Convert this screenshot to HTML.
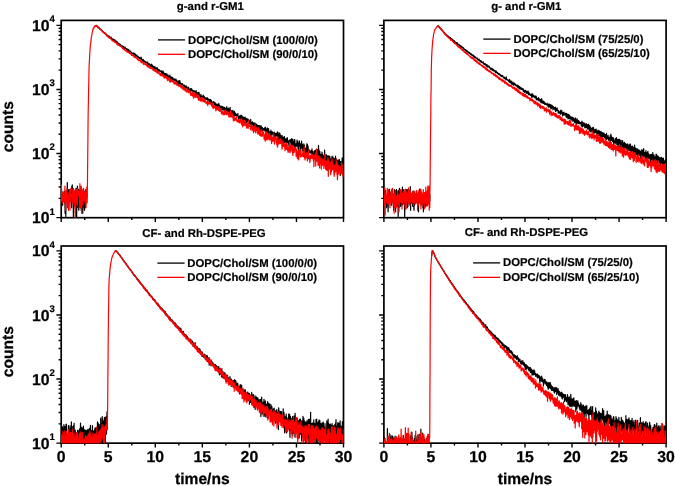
<!DOCTYPE html>
<html><head><meta charset="utf-8"><title>TCSPC decays</title>
<style>
html,body{margin:0;padding:0;background:#fff;}
body{width:675px;height:486px;overflow:hidden;}
svg{display:block;will-change:transform;}
text{font-family:"Liberation Sans",sans-serif;font-weight:bold;fill:#000;text-rendering:geometricPrecision;}
.ti{font-size:11.4px;stroke:#000;stroke-width:0.2px;}
.lg{font-size:11.35px;stroke:#000;stroke-width:0.2px;}
.tk{font-size:15.8px;stroke:#000;stroke-width:0.25px;}
.sp{font-size:9.6px;stroke:#000;stroke-width:0.2px;}
.al{font-size:15.6px;stroke:#000;stroke-width:0.25px;}
</style></head><body>
<svg width="675" height="486" viewBox="0 0 675 486">
<rect width="100%" height="100%" fill="#fff"/>
<defs>
<clipPath id="cTL"><rect x="60.6" y="20.4" width="282.90000000000003" height="197.70"/></clipPath>
<clipPath id="cTR"><rect x="383.29999999999995" y="20.4" width="282.80000000000007" height="197.70"/></clipPath>
<clipPath id="cBL"><rect x="60.6" y="246.0" width="282.90000000000003" height="197.55"/></clipPath>
<clipPath id="cBR"><rect x="383.29999999999995" y="246.0" width="282.80000000000007" height="197.55"/></clipPath>
</defs>
<g stroke="#000" stroke-width="1.7" fill="none" stroke-linecap="butt">
<rect x="61.2" y="20.4" width="282.30" height="197.30"/>
<path stroke-width="1.4" d="M61.20,217.7v4.4 M84.72,217.7v2.4 M108.25,217.7v4.4 M131.78,217.7v2.4 M155.30,217.7v4.4 M178.82,217.7v2.4 M202.35,217.7v4.4 M225.88,217.7v2.4 M249.40,217.7v4.4 M272.93,217.7v2.4 M296.45,217.7v4.4 M319.97,217.7v2.4 M343.50,217.7v4.4 M61.2,217.65h-4.8 M61.2,198.35h-2.6 M61.2,187.07h-2.6 M61.2,179.06h-2.6 M61.2,172.85h-2.6 M61.2,167.77h-2.6 M61.2,163.48h-2.6 M61.2,159.76h-2.6 M61.2,156.48h-2.6 M61.2,153.55h-4.8 M61.2,134.25h-2.6 M61.2,122.97h-2.6 M61.2,114.96h-2.6 M61.2,108.75h-2.6 M61.2,103.67h-2.6 M61.2,99.38h-2.6 M61.2,95.66h-2.6 M61.2,92.38h-2.6 M61.2,89.45h-4.8 M61.2,70.15h-2.6 M61.2,58.87h-2.6 M61.2,50.86h-2.6 M61.2,44.65h-2.6 M61.2,39.57h-2.6 M61.2,35.28h-2.6 M61.2,31.56h-2.6 M61.2,28.28h-2.6 M61.2,25.35h-4.8"/>
</g>
<g clip-path="url(#cTL)" fill="none" stroke-width="1.2" stroke-linejoin="round">
<polyline stroke="#000" points="61.2,195.6 61.4,192.5 61.6,203.0 61.9,191.1 62.1,203.0 62.3,203.0 62.5,197.3 62.7,205.3 62.9,195.6 63.2,199.1 63.4,195.6 63.6,197.3 63.8,194.0 64.0,201.0 64.2,191.1 64.5,203.0 64.7,197.3 64.9,195.6 65.1,213.3 65.3,197.3 65.5,201.0 65.8,216.6 66.0,201.0 66.2,191.1 66.4,195.6 66.6,194.0 66.9,199.1 67.1,199.1 67.3,182.7 67.5,194.0 67.7,189.7 67.9,207.7 68.2,195.6 68.4,197.3 68.6,189.7 68.8,195.6 69.0,199.1 69.2,199.1 69.5,201.0 69.7,199.1 69.9,189.7 70.1,195.6 70.3,201.0 70.5,191.1 70.8,199.1 71.0,191.1 71.2,192.5 71.4,205.3 71.6,207.7 71.8,186.0 72.1,201.0 72.3,184.8 72.5,197.3 72.7,192.5 72.9,199.1 73.2,199.1 73.4,216.6 73.6,203.0 73.8,194.0 74.0,201.0 74.2,205.3 74.5,191.1 74.7,195.6 74.9,195.6 75.1,199.1 75.3,195.6 75.5,216.6 75.8,192.5 76.0,188.4 76.2,189.7 76.4,188.4 76.6,217.7 76.8,203.0 77.1,205.3 77.3,207.7 77.5,186.0 77.7,191.1 77.9,195.6 78.2,195.6 78.4,189.7 78.6,201.0 78.8,210.3 79.0,191.1 79.2,189.7 79.5,195.6 79.7,195.6 79.9,194.0 80.1,201.0 80.3,207.7 80.5,194.0 80.8,201.0 81.0,199.1 81.2,210.3 81.4,207.7 81.6,191.1 81.8,201.0 82.1,205.3 82.3,201.0 82.5,195.6 82.7,213.3 82.9,207.7 83.1,207.7 83.4,188.4 83.6,201.0 83.8,194.0 84.0,199.1 84.2,199.1 84.5,210.3 84.7,194.0 84.9,191.1 85.1,203.0 85.3,207.7 85.5,189.7 85.8,191.1 86.0,194.0 86.2,191.1 86.4,191.1 86.6,199.1 86.8,194.0 87.1,194.0 87.3,195.6"/>
<polyline stroke="#000" points="95.5,26.1 95.8,26.2 96.0,25.6 96.2,26.0 96.4,25.7 96.6,25.3 96.8,26.2 97.1,26.0 97.3,26.4 97.5,26.7 97.7,27.6 97.9,27.2 98.1,27.2 98.4,27.4 98.6,27.8 98.8,27.4 99.0,28.2 99.2,28.3 99.4,28.4 99.7,29.0 99.9,29.2 100.1,28.8 100.3,29.2 100.5,29.5 100.8,29.3 101.0,29.7 101.2,30.0 101.4,30.0 101.6,30.5 101.8,30.6 102.1,30.5 102.3,30.6 102.5,31.3 102.7,31.0 102.9,31.6 103.1,31.6 103.4,32.1 103.6,32.4 103.8,32.6 104.0,32.7 104.2,32.9 104.4,32.5 104.7,33.0 104.9,32.9 105.1,33.5 105.3,33.8 105.5,33.5 105.8,33.8 106.0,34.4 106.2,34.8 106.4,34.3 106.6,35.5 106.8,34.5 107.1,35.8 107.3,35.5 107.5,35.5 107.7,35.9 107.9,35.7 108.1,36.1 108.4,36.4 108.6,36.3 108.8,36.2 109.0,37.1 109.2,36.4 109.4,36.2 109.7,36.9 109.9,36.9 110.1,37.7 110.3,37.6 110.5,37.8 110.7,38.4 111.0,38.5 111.2,37.2 111.4,38.8 111.6,38.6 111.8,38.7 112.1,39.1 112.3,39.4 112.5,39.3 112.7,38.9 112.9,38.8 113.1,39.4 113.4,39.6 113.6,39.6 113.8,40.7 114.0,39.6 114.2,40.3 114.4,40.4 114.7,39.8 114.9,41.1 115.1,40.8 115.3,40.7 115.5,41.6 115.7,42.1 116.0,41.9 116.2,41.0 116.4,41.3 116.6,41.6 116.8,42.6 117.1,42.0 117.3,43.0 117.5,41.9 117.7,42.6 117.9,42.6 118.1,43.2 118.4,43.3 118.6,44.3 118.8,43.3 119.0,44.1 119.2,44.0 119.4,44.4 119.7,44.1 119.9,44.6 120.1,44.3 120.3,44.5 120.5,44.6 120.7,45.1 121.0,45.3 121.2,45.6 121.4,45.9 121.6,46.2 121.8,45.9 122.0,45.6 122.3,46.4 122.5,46.3 122.7,47.0 122.9,46.6 123.1,47.6 123.4,46.3 123.6,47.2 123.8,48.1 124.0,46.9 124.2,47.6 124.4,47.9 124.7,47.9 124.9,48.8 125.1,47.0 125.3,48.0 125.5,48.3 125.7,48.4 126.0,48.6 126.2,48.7 126.4,49.5 126.6,48.7 126.8,49.2 127.0,49.6 127.3,49.8 127.5,49.5 127.7,50.6 127.9,49.2 128.1,50.6 128.4,49.8 128.6,51.7 128.8,51.1 129.0,49.9 129.2,51.5 129.4,51.1 129.7,51.3 129.9,51.6 130.1,51.2 130.3,51.2 130.5,51.4 130.7,51.3 131.0,52.2 131.2,52.3 131.4,53.1 131.6,53.8 131.8,53.4 132.0,53.1 132.3,53.4 132.5,53.4 132.7,53.7 132.9,53.1 133.1,52.9 133.4,54.1 133.6,54.3 133.8,54.2 134.0,53.2 134.2,54.0 134.4,54.2 134.7,53.8 134.9,55.7 135.1,53.9 135.3,54.2 135.5,56.3 135.7,55.5 136.0,55.2 136.2,55.1 136.4,55.4 136.6,56.1 136.8,55.0 137.0,55.2 137.3,56.6 137.5,56.6 137.7,56.9 137.9,57.6 138.1,56.6 138.3,56.9 138.6,57.8 138.8,57.8 139.0,57.1 139.2,58.0 139.4,58.5 139.7,57.7 139.9,58.5 140.1,58.2 140.3,58.7 140.5,58.4 140.7,58.4 141.0,57.1 141.2,59.5 141.4,57.9 141.6,59.3 141.8,59.1 142.0,59.9 142.3,60.8 142.5,60.2 142.7,60.1 142.9,59.8 143.1,59.4 143.3,61.4 143.6,60.4 143.8,61.5 144.0,61.2 144.2,62.1 144.4,60.9 144.7,61.1 144.9,61.9 145.1,61.4 145.3,62.9 145.5,61.5 145.7,61.5 146.0,62.8 146.2,62.8 146.4,62.6 146.6,62.6 146.8,62.9 147.0,62.5 147.3,62.2 147.5,63.5 147.7,62.1 147.9,64.4 148.1,65.0 148.3,63.7 148.6,64.7 148.8,64.2 149.0,63.9 149.2,64.1 149.4,63.8 149.6,64.2 149.9,64.8 150.1,64.8 150.3,65.1 150.5,66.5 150.7,65.5 151.0,65.8 151.2,66.3 151.4,64.0 151.6,65.9 151.8,66.4 152.0,66.5 152.3,66.6 152.5,65.2 152.7,65.9 152.9,66.9 153.1,68.1 153.3,66.7 153.6,66.7 153.8,66.6 154.0,66.5 154.2,67.2 154.4,68.3 154.6,68.2 154.9,68.8 155.1,66.9 155.3,69.1 155.5,68.2 155.7,68.6 156.0,68.3 156.2,68.9 156.4,67.8 156.6,68.5 156.8,68.1 157.0,69.3 157.3,69.0 157.5,67.8 157.7,70.5 157.9,71.0 158.1,69.8 158.3,71.1 158.6,69.5 158.8,71.3 159.0,70.2 159.2,69.7 159.4,70.7 159.6,70.8 159.9,70.5 160.1,71.3 160.3,70.7 160.5,71.2 160.7,71.6 161.0,71.8 161.2,72.3 161.4,72.4 161.6,72.3 161.8,70.7 162.0,73.8 162.3,74.3 162.5,73.4 162.7,73.2 162.9,73.3 163.1,71.2 163.3,72.2 163.6,73.8 163.8,74.0 164.0,74.9 164.2,73.2 164.4,74.8 164.6,74.5 164.9,73.6 165.1,75.9 165.3,73.8 165.5,73.5 165.7,73.6 165.9,73.8 166.2,74.5 166.4,75.6 166.6,75.0 166.8,73.9 167.0,76.3 167.3,74.8 167.5,75.7 167.7,75.5 167.9,77.4 168.1,75.1 168.3,78.1 168.6,76.7 168.8,76.4 169.0,77.1 169.2,76.6 169.4,76.5 169.6,76.3 169.9,75.1 170.1,78.4 170.3,78.0 170.5,77.4 170.7,79.1 170.9,76.8 171.2,79.1 171.4,78.2 171.6,78.3 171.8,78.6 172.0,77.2 172.3,79.6 172.5,80.2 172.7,77.6 172.9,79.7 173.1,79.7 173.3,80.8 173.6,80.9 173.8,80.2 174.0,78.5 174.2,80.5 174.4,80.3 174.6,79.5 174.9,79.8 175.1,79.4 175.3,80.9 175.5,80.1 175.7,80.7 175.9,79.1 176.2,81.4 176.4,82.4 176.6,82.3 176.8,80.3 177.0,81.2 177.2,84.0 177.5,81.9 177.7,82.0 177.9,81.8 178.1,84.5 178.3,81.1 178.6,82.5 178.8,80.9 179.0,83.1 179.2,82.4 179.4,82.5 179.6,84.9 179.9,80.5 180.1,82.7 180.3,83.7 180.5,83.2 180.7,83.3 180.9,84.2 181.2,84.1 181.4,85.0 181.6,84.6 181.8,83.5 182.0,85.1 182.2,83.4 182.5,84.8 182.7,84.6 182.9,84.7 183.1,85.0 183.3,85.9 183.6,86.2 183.8,85.2 184.0,87.8 184.2,85.0 184.4,86.6 184.6,87.8 184.9,86.2 185.1,86.6 185.3,86.0 185.5,86.0 185.7,88.5 185.9,86.7 186.2,85.8 186.4,86.4 186.6,86.8 186.8,88.0 187.0,87.6 187.2,87.4 187.5,88.2 187.7,88.5 187.9,88.3 188.1,89.2 188.3,90.3 188.6,87.1 188.8,90.2 189.0,90.2 189.2,90.3 189.4,89.1 189.6,89.7 189.9,89.7 190.1,90.7 190.3,89.7 190.5,88.7 190.7,91.1 190.9,89.6 191.2,89.7 191.4,90.6 191.6,88.6 191.8,90.8 192.0,90.0 192.2,89.8 192.5,90.4 192.7,91.1 192.9,91.4 193.1,92.3 193.3,91.5 193.5,90.5 193.8,91.2 194.0,90.7 194.2,91.1 194.4,90.9 194.6,91.6 194.9,92.8 195.1,93.6 195.3,92.9 195.5,91.4 195.7,93.7 195.9,94.6 196.2,90.7 196.4,92.3 196.6,93.3 196.8,93.6 197.0,93.5 197.2,94.3 197.5,92.5 197.7,94.1 197.9,95.7 198.1,94.6 198.3,92.4 198.5,95.8 198.8,95.8 199.0,92.4 199.2,95.9 199.4,94.4 199.6,95.9 199.9,95.2 200.1,95.4 200.3,97.6 200.5,96.5 200.7,96.8 200.9,94.4 201.2,96.5 201.4,96.2 201.6,96.4 201.8,98.4 202.0,96.5 202.2,96.0 202.5,98.4 202.7,97.5 202.9,96.3 203.1,97.7 203.3,95.2 203.5,97.8 203.8,97.0 204.0,98.1 204.2,96.3 204.4,98.2 204.6,97.4 204.8,98.3 205.1,97.5 205.3,98.4 205.5,98.3 205.7,99.5 205.9,99.8 206.2,99.0 206.4,99.4 206.6,97.8 206.8,99.4 207.0,99.1 207.2,97.9 207.5,100.1 207.7,98.0 207.9,99.2 208.1,98.7 208.3,100.0 208.5,100.2 208.8,100.3 209.0,99.4 209.2,102.1 209.4,101.0 209.6,100.1 209.8,101.3 210.1,99.7 210.3,103.3 210.5,101.9 210.7,99.6 210.9,101.0 211.2,102.7 211.4,100.7 211.6,103.3 211.8,102.4 212.0,104.7 212.2,102.4 212.5,102.8 212.7,102.9 212.9,102.6 213.1,101.5 213.3,103.0 213.5,101.9 213.8,101.8 214.0,102.3 214.2,102.5 214.4,104.4 214.6,103.9 214.8,103.0 215.1,102.7 215.3,103.4 215.5,107.9 215.7,105.1 215.9,105.7 216.1,105.0 216.4,104.4 216.6,105.7 216.8,103.8 217.0,107.4 217.2,104.7 217.5,105.4 217.7,105.2 217.9,106.3 218.1,104.3 218.3,106.9 218.5,105.6 218.8,103.3 219.0,106.3 219.2,107.6 219.4,105.0 219.6,105.6 219.8,107.6 220.1,105.8 220.3,106.9 220.5,108.0 220.7,107.2 220.9,108.7 221.1,108.5 221.4,108.9 221.6,108.7 221.8,106.0 222.0,109.9 222.2,107.7 222.5,106.6 222.7,108.0 222.9,108.3 223.1,109.9 223.3,109.4 223.5,107.2 223.8,109.9 224.0,109.5 224.2,109.4 224.4,107.3 224.6,109.2 224.8,112.0 225.1,108.6 225.3,110.4 225.5,109.9 225.7,112.1 225.9,112.0 226.1,107.7 226.4,111.2 226.6,110.4 226.8,106.7 227.0,111.1 227.2,113.2 227.5,109.8 227.7,109.1 227.9,111.6 228.1,108.4 228.3,111.7 228.5,108.2 228.8,113.9 229.0,110.7 229.2,111.2 229.4,109.2 229.6,113.3 229.8,113.3 230.1,107.4 230.3,113.1 230.5,114.7 230.7,110.7 230.9,112.1 231.1,111.7 231.4,113.3 231.6,113.8 231.8,110.7 232.0,113.7 232.2,113.2 232.4,114.0 232.7,114.1 232.9,110.4 233.1,112.2 233.3,112.7 233.5,114.9 233.8,115.4 234.0,114.4 234.2,112.9 234.4,111.3 234.6,115.5 234.8,112.3 235.1,115.5 235.3,113.1 235.5,113.4 235.7,115.2 235.9,115.7 236.1,114.7 236.4,115.2 236.6,115.3 236.8,115.5 237.0,114.1 237.2,114.8 237.4,115.8 237.7,114.4 237.9,113.7 238.1,117.0 238.3,117.2 238.5,117.9 238.8,119.1 239.0,117.1 239.2,118.0 239.4,115.8 239.6,116.6 239.8,117.0 240.1,118.5 240.3,116.5 240.5,118.9 240.7,116.0 240.9,115.1 241.1,117.8 241.4,115.3 241.6,117.7 241.8,117.9 242.0,115.8 242.2,121.9 242.4,118.8 242.7,119.8 242.9,117.1 243.1,120.0 243.3,117.1 243.5,117.4 243.7,120.3 244.0,118.6 244.2,117.3 244.4,118.4 244.6,120.3 244.8,117.4 245.1,117.2 245.3,122.1 245.5,121.2 245.7,120.3 245.9,119.1 246.1,122.7 246.4,118.4 246.6,121.4 246.8,122.8 247.0,122.5 247.2,121.8 247.4,121.3 247.7,118.9 247.9,118.9 248.1,119.9 248.3,121.5 248.5,121.3 248.7,120.3 249.0,120.1 249.2,123.5 249.4,123.5 249.6,122.0 249.8,121.0 250.1,124.2 250.3,125.2 250.5,124.3 250.7,119.3 250.9,122.7 251.1,122.1 251.4,124.2 251.6,125.2 251.8,122.7 252.0,124.2 252.2,123.2 252.4,121.9 252.7,122.9 252.9,123.4 253.1,127.7 253.3,124.3 253.5,122.8 253.7,125.5 254.0,126.4 254.2,125.2 254.4,125.6 254.6,127.0 254.8,122.8 255.1,123.4 255.3,123.9 255.5,126.4 255.7,127.2 255.9,128.4 256.1,129.0 256.4,124.2 256.6,124.9 256.8,125.5 257.0,124.9 257.2,127.7 257.4,129.3 257.7,125.6 257.9,127.2 258.1,128.5 258.3,126.3 258.5,125.6 258.7,126.1 259.0,126.4 259.2,130.2 259.4,125.6 259.6,126.0 259.8,130.4 260.0,126.5 260.3,127.7 260.5,127.1 260.7,132.1 260.9,125.7 261.1,126.0 261.4,127.8 261.6,127.0 261.8,128.5 262.0,127.7 262.2,131.0 262.4,127.5 262.7,129.3 262.9,129.3 263.1,129.1 263.3,130.0 263.5,128.7 263.7,130.5 264.0,128.4 264.2,129.3 264.4,128.2 264.6,130.0 264.8,128.7 265.0,131.1 265.3,127.2 265.5,128.1 265.7,129.0 265.9,133.3 266.1,130.2 266.4,129.1 266.6,131.8 266.8,134.8 267.0,132.0 267.2,132.5 267.4,127.9 267.7,128.8 267.9,130.2 268.1,131.5 268.3,132.6 268.5,128.7 268.7,130.2 269.0,134.4 269.2,131.8 269.4,134.0 269.6,133.5 269.8,131.8 270.0,134.0 270.3,135.1 270.5,133.2 270.7,133.0 270.9,130.2 271.1,135.1 271.3,132.0 271.6,134.4 271.8,134.8 272.0,131.6 272.2,133.0 272.4,132.6 272.7,132.3 272.9,133.5 273.1,133.2 273.3,137.7 273.5,137.7 273.7,132.6 274.0,135.3 274.2,132.0 274.4,135.9 274.6,133.5 274.8,133.9 275.0,133.3 275.3,139.6 275.5,133.3 275.7,137.1 275.9,135.3 276.1,133.9 276.3,133.5 276.6,135.9 276.8,133.9 277.0,134.8 277.2,133.3 277.4,131.8 277.7,134.6 277.9,136.9 278.1,142.6 278.3,140.3 278.5,138.9 278.7,138.1 279.0,132.6 279.2,136.1 279.4,134.8 279.6,141.6 279.8,140.0 280.0,133.7 280.3,138.1 280.5,135.7 280.7,135.3 280.9,139.4 281.1,140.9 281.3,143.1 281.6,136.7 281.8,136.9 282.0,135.7 282.2,135.7 282.4,145.2 282.7,139.6 282.9,141.4 283.1,137.1 283.3,137.1 283.5,142.4 283.7,144.1 284.0,140.3 284.2,140.9 284.4,136.7 284.6,138.3 284.8,142.4 285.0,140.3 285.3,141.4 285.5,140.9 285.7,140.5 285.9,138.7 286.1,143.3 286.3,139.8 286.6,140.7 286.8,140.0 287.0,141.4 287.2,137.7 287.4,138.1 287.6,142.8 287.9,142.1 288.1,142.1 288.3,140.9 288.5,143.3 288.7,143.6 289.0,146.0 289.2,144.6 289.4,140.7 289.6,142.6 289.8,141.6 290.0,139.8 290.3,139.6 290.5,140.9 290.7,142.6 290.9,140.3 291.1,145.2 291.3,142.4 291.6,139.8 291.8,138.7 292.0,140.5 292.2,142.8 292.4,146.5 292.6,141.9 292.9,139.4 293.1,145.4 293.3,141.4 293.5,143.6 293.7,143.1 294.0,141.4 294.2,142.4 294.4,149.8 294.6,139.4 294.8,140.0 295.0,143.6 295.3,145.7 295.5,147.1 295.7,144.6 295.9,145.7 296.1,143.8 296.3,144.1 296.6,144.4 296.8,146.2 297.0,140.0 297.2,142.1 297.4,142.8 297.6,141.6 297.9,146.2 298.1,148.6 298.3,148.0 298.5,143.3 298.7,144.1 298.9,150.4 299.2,140.9 299.4,142.1 299.6,145.4 299.8,144.9 300.0,145.4 300.3,146.5 300.5,143.8 300.7,152.5 300.9,146.8 301.1,143.6 301.3,147.7 301.6,141.2 301.8,146.5 302.0,144.9 302.2,148.3 302.4,144.4 302.6,146.8 302.9,151.1 303.1,145.7 303.3,151.4 303.5,150.1 303.7,148.6 303.9,143.8 304.2,149.2 304.4,145.2 304.6,148.3 304.8,148.9 305.0,151.1 305.3,150.1 305.5,150.1 305.7,154.3 305.9,148.0 306.1,149.8 306.3,148.6 306.6,155.8 306.8,143.8 307.0,143.8 307.2,150.8 307.4,144.6 307.6,152.5 307.9,150.1 308.1,146.2 308.3,158.7 308.5,149.5 308.7,150.8 308.9,149.5 309.2,150.8 309.4,152.5 309.6,151.4 309.8,151.1 310.0,151.4 310.2,152.8 310.5,151.1 310.7,153.2 310.9,153.2 311.1,150.8 311.3,150.8 311.6,152.5 311.8,152.1 312.0,148.9 312.2,155.4 312.4,151.4 312.6,153.9 312.9,157.0 313.1,158.7 313.3,157.0 313.5,154.6 313.7,158.7 313.9,151.4 314.2,151.1 314.4,151.4 314.6,150.8 314.8,156.2 315.0,156.6 315.2,155.8 315.5,150.1 315.7,153.9 315.9,150.8 316.1,154.3 316.3,153.2 316.6,150.4 316.8,154.3 317.0,161.4 317.2,155.4 317.4,149.5 317.6,151.1 317.9,156.2 318.1,157.8 318.3,158.7 318.5,145.4 318.7,162.9 318.9,149.5 319.2,153.2 319.4,158.2 319.6,153.5 319.8,151.4 320.0,158.2 320.2,153.9 320.5,157.4 320.7,155.8 320.9,155.4 321.1,154.6 321.3,156.2 321.6,156.2 321.8,159.6 322.0,152.1 322.2,155.4 322.4,153.9 322.6,158.7 322.9,156.6 323.1,163.9 323.3,155.8 323.5,162.4 323.7,155.8 323.9,157.4 324.2,154.3 324.4,161.4 324.6,150.1 324.8,157.0 325.0,158.2 325.2,160.0 325.5,163.4 325.7,158.2 325.9,159.6 326.1,159.1 326.3,154.6 326.5,158.7 326.8,163.4 327.0,164.5 327.2,162.9 327.4,159.1 327.6,155.8 327.9,157.8 328.1,157.8 328.3,164.5 328.5,155.8 328.7,157.8 328.9,162.4 329.2,166.7 329.4,162.4 329.6,161.4 329.8,156.2 330.0,168.5 330.2,158.2 330.5,162.4 330.7,159.6 330.9,159.1 331.1,171.1 331.3,161.9 331.5,169.1 331.8,163.9 332.0,156.6 332.2,156.2 332.4,162.9 332.6,167.9 332.9,160.5 333.1,157.0 333.3,169.7 333.5,158.7 333.7,162.4 333.9,167.3 334.2,159.1 334.4,158.7 334.6,166.1 334.8,171.1 335.0,161.9 335.2,165.0 335.5,156.2 335.7,160.5 335.9,160.5 336.1,163.4 336.3,169.7 336.5,159.1 336.8,166.7 337.0,160.5 337.2,163.4 337.4,161.9 337.6,163.4 337.8,160.5 338.1,160.0 338.3,160.5 338.5,166.7 338.7,164.5 338.9,162.4 339.2,160.5 339.4,159.6 339.6,168.5 339.8,167.3 340.0,161.4 340.2,175.5 340.5,165.5 340.7,165.0 340.9,162.9 341.1,161.4 341.3,166.1 341.5,163.4 341.8,164.5 342.0,167.9 342.2,157.8 342.4,158.2 342.6,163.4 342.8,172.5 343.1,167.9 343.3,162.9 343.5,169.1"/>
<polyline stroke="#f00" points="61.2,189.7 61.4,184.8 61.6,201.0 61.9,199.1 62.1,199.1 62.3,203.0 62.5,199.1 62.7,199.1 62.9,192.5 63.2,199.1 63.4,201.0 63.6,192.5 63.8,201.0 64.0,197.3 64.2,197.3 64.5,199.1 64.7,203.0 64.9,186.0 65.1,199.1 65.3,197.3 65.5,210.3 65.8,207.7 66.0,191.1 66.2,197.3 66.4,201.0 66.6,191.1 66.9,197.3 67.1,188.4 67.3,201.0 67.5,205.3 67.7,197.3 67.9,195.6 68.2,203.0 68.4,210.3 68.6,201.0 68.8,194.0 69.0,192.5 69.2,197.3 69.5,203.0 69.7,189.7 69.9,210.3 70.1,197.3 70.3,201.0 70.5,191.1 70.8,188.4 71.0,197.3 71.2,195.6 71.4,195.6 71.6,194.0 71.8,201.0 72.1,195.6 72.3,199.1 72.5,203.0 72.7,189.7 72.9,201.0 73.2,201.0 73.4,188.4 73.6,203.0 73.8,189.7 74.0,189.7 74.2,205.3 74.5,191.1 74.7,205.3 74.9,207.7 75.1,197.3 75.3,217.7 75.5,210.3 75.8,201.0 76.0,191.1 76.2,201.0 76.4,203.0 76.6,191.1 76.8,189.7 77.1,194.0 77.3,205.3 77.5,188.4 77.7,191.1 77.9,192.5 78.2,194.0 78.4,191.1 78.6,195.6 78.8,195.6 79.0,192.5 79.2,197.3 79.5,201.0 79.7,205.3 79.9,183.7 80.1,194.0 80.3,194.0 80.5,207.7 80.8,197.3 81.0,192.5 81.2,186.0 81.4,189.7 81.6,213.3 81.8,194.0 82.1,199.1 82.3,205.3 82.5,203.0 82.7,189.7 82.9,192.5 83.1,197.3 83.4,191.1 83.6,188.4 83.8,201.0 84.0,197.3 84.2,201.0 84.5,194.0 84.7,199.1 84.9,192.5 85.1,203.0 85.3,201.0 85.5,194.0 85.8,189.7 86.0,207.7 86.2,201.0 86.4,189.7 86.6,197.3 86.8,187.2 87.1,203.0 87.3,195.6 87.5,178.8 87.7,159.6 87.9,139.8 88.1,116.9 88.4,101.1 88.6,89.8 88.8,81.5 89.0,70.1 89.2,64.2 89.5,59.6 89.7,54.4 89.9,52.3 90.1,48.6 90.3,45.6 90.5,44.6 90.8,42.6 91.0,40.6 91.2,38.6 91.4,36.9 91.6,35.8 91.8,35.4 92.1,33.1 92.3,32.4 92.5,31.1 92.7,30.4 92.9,29.6 93.1,28.5 93.4,28.5 93.6,29.2 93.8,27.6 94.0,26.8 94.2,26.9 94.5,27.1 94.7,26.3 94.9,25.7 95.1,25.6 95.3,25.8 95.5,25.6 95.8,26.0 96.0,25.4 96.2,26.4 96.4,25.7 96.6,25.8 96.8,25.7 97.1,26.1 97.3,26.8 97.5,26.8 97.7,26.8 97.9,27.0 98.1,27.4 98.4,27.7 98.6,27.3 98.8,27.8 99.0,27.5 99.2,28.2 99.4,28.6 99.7,28.9 99.9,28.4 100.1,28.9 100.3,29.6 100.5,29.5 100.8,29.4 101.0,29.8 101.2,30.2 101.4,30.2 101.6,30.7 101.8,31.0 102.1,30.8 102.3,31.3 102.5,31.7 102.7,31.2 102.9,31.7 103.1,32.5 103.4,32.4 103.6,32.6 103.8,32.7 104.0,32.4 104.2,33.1 104.4,33.3 104.7,33.0 104.9,32.5 105.1,33.7 105.3,34.4 105.5,33.5 105.8,33.9 106.0,34.9 106.2,34.4 106.4,35.3 106.6,35.7 106.8,35.4 107.1,36.2 107.3,36.0 107.5,36.3 107.7,35.9 107.9,36.6 108.1,36.9 108.4,37.5 108.6,37.1 108.8,36.8 109.0,37.5 109.2,37.2 109.4,38.1 109.7,37.6 109.9,38.5 110.1,38.2 110.3,38.0 110.5,38.8 110.7,38.7 111.0,38.8 111.2,39.0 111.4,39.7 111.6,39.5 111.8,40.3 112.1,40.1 112.3,40.8 112.5,39.9 112.7,40.7 112.9,40.6 113.1,40.9 113.4,41.1 113.6,40.8 113.8,40.7 114.0,41.9 114.2,41.5 114.4,41.7 114.7,41.5 114.9,42.3 115.1,42.6 115.3,42.0 115.5,42.5 115.7,42.7 116.0,42.4 116.2,43.1 116.4,43.0 116.6,42.3 116.8,44.2 117.1,43.3 117.3,43.8 117.5,44.9 117.7,44.5 117.9,45.0 118.1,45.2 118.4,44.7 118.6,44.7 118.8,45.0 119.0,44.1 119.2,45.6 119.4,45.4 119.7,45.8 119.9,46.0 120.1,46.2 120.3,46.5 120.5,46.4 120.7,46.3 121.0,46.5 121.2,46.0 121.4,46.6 121.6,47.4 121.8,47.2 122.0,46.9 122.3,47.7 122.5,48.7 122.7,48.7 122.9,48.4 123.1,48.4 123.4,48.5 123.6,49.4 123.8,47.7 124.0,47.9 124.2,49.0 124.4,50.1 124.7,49.6 124.9,49.9 125.1,50.1 125.3,50.2 125.5,50.1 125.7,50.4 126.0,51.2 126.2,50.7 126.4,50.5 126.6,51.1 126.8,51.1 127.0,52.1 127.3,51.4 127.5,51.2 127.7,51.4 127.9,51.9 128.1,52.5 128.4,52.1 128.6,51.9 128.8,52.9 129.0,52.7 129.2,52.9 129.4,51.8 129.7,53.6 129.9,53.4 130.1,53.4 130.3,52.8 130.5,53.2 130.7,53.2 131.0,54.5 131.2,53.9 131.4,55.5 131.6,55.1 131.8,54.8 132.0,55.4 132.3,55.2 132.5,55.2 132.7,54.9 132.9,55.7 133.1,56.0 133.4,56.0 133.6,56.0 133.8,55.4 134.0,57.1 134.2,56.8 134.4,56.6 134.7,57.4 134.9,57.0 135.1,57.1 135.3,57.5 135.5,57.3 135.7,56.9 136.0,58.1 136.2,57.3 136.4,57.8 136.6,57.8 136.8,58.7 137.0,58.0 137.3,59.3 137.5,59.2 137.7,58.8 137.9,59.7 138.1,59.1 138.3,60.7 138.6,60.3 138.8,59.9 139.0,60.2 139.2,60.5 139.4,60.7 139.7,60.1 139.9,59.8 140.1,60.5 140.3,60.0 140.5,62.0 140.7,61.7 141.0,62.1 141.2,60.9 141.4,61.3 141.6,62.0 141.8,62.9 142.0,62.9 142.3,62.0 142.5,62.0 142.7,62.1 142.9,62.8 143.1,62.7 143.3,64.1 143.6,64.4 143.8,63.9 144.0,62.9 144.2,62.6 144.4,63.4 144.7,64.0 144.9,64.3 145.1,64.7 145.3,64.7 145.5,64.1 145.7,64.9 146.0,64.3 146.2,63.8 146.4,65.2 146.6,65.6 146.8,63.8 147.0,65.5 147.3,66.6 147.5,65.1 147.7,66.2 147.9,65.4 148.1,66.7 148.3,67.2 148.6,65.7 148.8,66.4 149.0,66.0 149.2,65.3 149.4,67.9 149.6,66.9 149.9,67.4 150.1,67.8 150.3,68.2 150.5,68.1 150.7,66.8 151.0,68.7 151.2,67.7 151.4,68.1 151.6,68.6 151.8,67.8 152.0,68.5 152.3,69.1 152.5,69.2 152.7,68.6 152.9,68.7 153.1,70.1 153.3,69.7 153.6,70.2 153.8,68.9 154.0,70.9 154.2,69.4 154.4,70.0 154.6,70.1 154.9,69.5 155.1,71.3 155.3,71.1 155.5,70.2 155.7,70.8 156.0,72.0 156.2,70.1 156.4,71.5 156.6,71.4 156.8,72.4 157.0,71.6 157.3,70.9 157.5,73.1 157.7,72.2 157.9,72.5 158.1,72.9 158.3,71.5 158.6,72.6 158.8,73.5 159.0,73.2 159.2,72.4 159.4,74.0 159.6,74.2 159.9,74.6 160.1,73.5 160.3,75.7 160.5,73.5 160.7,74.3 161.0,74.8 161.2,73.9 161.4,74.6 161.6,75.3 161.8,73.6 162.0,76.0 162.3,75.2 162.5,75.7 162.7,74.7 162.9,76.0 163.1,76.1 163.3,76.6 163.6,75.8 163.8,75.4 164.0,76.1 164.2,78.2 164.4,76.6 164.6,76.5 164.9,76.2 165.1,76.5 165.3,78.0 165.5,77.7 165.7,76.8 165.9,77.1 166.2,77.6 166.4,76.3 166.6,78.3 166.8,78.8 167.0,78.1 167.3,79.9 167.5,78.1 167.7,80.6 167.9,79.1 168.1,78.3 168.3,77.7 168.6,79.4 168.8,79.8 169.0,80.1 169.2,80.1 169.4,79.1 169.6,81.8 169.9,80.6 170.1,80.7 170.3,81.0 170.5,79.2 170.7,80.3 170.9,82.1 171.2,79.7 171.4,80.3 171.6,80.0 171.8,81.1 172.0,80.4 172.3,81.6 172.5,81.2 172.7,81.5 172.9,81.1 173.1,82.0 173.3,82.3 173.6,80.3 173.8,80.3 174.0,84.0 174.2,83.1 174.4,82.9 174.6,82.5 174.9,84.2 175.1,83.1 175.3,82.0 175.5,83.3 175.7,83.6 175.9,83.9 176.2,82.4 176.4,82.0 176.6,84.0 176.8,84.4 177.0,85.5 177.2,85.0 177.5,83.5 177.7,84.4 177.9,84.8 178.1,84.8 178.3,85.6 178.6,85.5 178.8,86.1 179.0,86.7 179.2,85.9 179.4,84.3 179.6,84.9 179.9,86.2 180.1,84.7 180.3,85.7 180.5,85.8 180.7,86.6 180.9,87.7 181.2,85.7 181.4,87.0 181.6,88.2 181.8,87.3 182.0,86.2 182.2,87.9 182.5,87.1 182.7,87.2 182.9,89.1 183.1,88.6 183.3,86.8 183.6,86.7 183.8,90.0 184.0,87.6 184.2,87.5 184.4,87.8 184.6,89.6 184.9,88.3 185.1,88.7 185.3,91.1 185.5,88.2 185.7,88.3 185.9,89.5 186.2,90.0 186.4,90.8 186.6,90.5 186.8,92.2 187.0,89.5 187.2,92.0 187.5,91.8 187.7,89.1 187.9,90.1 188.1,89.9 188.3,91.8 188.6,92.7 188.8,90.3 189.0,91.8 189.2,90.3 189.4,91.4 189.6,91.6 189.9,91.0 190.1,92.9 190.3,93.8 190.5,94.0 190.7,95.3 190.9,91.8 191.2,93.6 191.4,92.8 191.6,93.0 191.8,93.0 192.0,95.7 192.2,93.5 192.5,94.9 192.7,94.1 192.9,92.1 193.1,96.8 193.3,95.1 193.5,98.2 193.8,97.9 194.0,94.2 194.2,93.3 194.4,95.7 194.6,92.6 194.9,95.0 195.1,96.0 195.3,97.4 195.5,96.7 195.7,93.7 195.9,96.5 196.2,95.7 196.4,97.1 196.6,96.6 196.8,96.7 197.0,95.0 197.2,93.9 197.5,97.5 197.7,97.6 197.9,98.2 198.1,97.8 198.3,97.5 198.5,100.2 198.8,95.0 199.0,99.9 199.2,98.5 199.4,97.6 199.6,99.2 199.9,98.3 200.1,100.6 200.3,98.2 200.5,99.2 200.7,99.8 200.9,101.2 201.2,98.5 201.4,98.7 201.6,97.6 201.8,99.6 202.0,101.0 202.2,100.1 202.5,97.7 202.7,99.8 202.9,99.8 203.1,101.6 203.3,99.4 203.5,98.8 203.8,101.2 204.0,99.2 204.2,101.6 204.4,101.2 204.6,102.1 204.8,100.4 205.1,102.0 205.3,99.2 205.5,101.2 205.7,102.1 205.9,102.6 206.2,103.9 206.4,102.5 206.6,102.1 206.8,102.9 207.0,101.7 207.2,102.6 207.5,100.5 207.7,105.4 207.9,103.2 208.1,102.1 208.3,101.8 208.5,102.6 208.8,103.2 209.0,104.0 209.2,103.2 209.4,103.1 209.6,103.0 209.8,103.9 210.1,103.1 210.3,103.9 210.5,102.8 210.7,103.7 210.9,104.3 211.2,103.3 211.4,105.1 211.6,105.8 211.8,106.0 212.0,102.6 212.2,104.0 212.5,103.8 212.7,106.9 212.9,108.2 213.1,105.2 213.3,104.6 213.5,108.3 213.8,107.6 214.0,106.8 214.2,106.0 214.4,107.7 214.6,106.4 214.8,105.9 215.1,108.0 215.3,106.3 215.5,108.4 215.7,108.5 215.9,111.0 216.1,108.4 216.4,109.3 216.6,106.5 216.8,108.6 217.0,109.3 217.2,108.9 217.5,107.6 217.7,107.0 217.9,109.7 218.1,108.9 218.3,110.2 218.5,109.4 218.8,110.7 219.0,106.6 219.2,108.7 219.4,110.1 219.6,111.4 219.8,110.3 220.1,111.1 220.3,109.9 220.5,110.7 220.7,109.0 220.9,111.3 221.1,108.4 221.4,113.8 221.6,111.5 221.8,111.9 222.0,112.6 222.2,112.4 222.5,111.8 222.7,111.5 222.9,114.7 223.1,112.5 223.3,112.4 223.5,112.8 223.8,114.7 224.0,114.3 224.2,113.9 224.4,110.9 224.6,114.7 224.8,114.0 225.1,109.9 225.3,111.5 225.5,112.9 225.7,114.0 225.9,111.1 226.1,112.5 226.4,114.7 226.6,113.2 226.8,112.8 227.0,114.6 227.2,111.4 227.5,113.8 227.7,112.5 227.9,114.1 228.1,113.5 228.3,113.9 228.5,111.9 228.8,117.0 229.0,114.5 229.2,116.5 229.4,116.8 229.6,114.8 229.8,114.7 230.1,116.6 230.3,116.3 230.5,110.9 230.7,113.9 230.9,117.1 231.1,117.0 231.4,116.9 231.6,116.9 231.8,116.4 232.0,112.5 232.2,115.1 232.4,116.6 232.7,117.6 232.9,116.0 233.1,117.8 233.3,120.4 233.5,120.3 233.8,118.6 234.0,121.1 234.2,116.3 234.4,119.8 234.6,119.5 234.8,118.6 235.1,119.6 235.3,119.8 235.5,118.2 235.7,118.1 235.9,120.3 236.1,118.1 236.4,119.0 236.6,116.5 236.8,116.9 237.0,121.8 237.2,121.1 237.4,120.3 237.7,121.2 237.9,121.1 238.1,121.4 238.3,122.1 238.5,119.6 238.8,119.5 239.0,121.6 239.2,122.5 239.4,121.3 239.6,122.8 239.8,120.2 240.1,119.8 240.3,120.3 240.5,120.7 240.7,121.0 240.9,122.7 241.1,118.6 241.4,124.2 241.6,121.3 241.8,124.8 242.0,121.0 242.2,123.1 242.4,120.1 242.7,126.8 242.9,121.4 243.1,122.7 243.3,125.3 243.5,122.6 243.7,121.3 244.0,124.8 244.2,125.6 244.4,120.1 244.6,124.3 244.8,122.6 245.1,124.8 245.3,121.3 245.5,124.8 245.7,122.7 245.9,124.8 246.1,126.1 246.4,124.9 246.6,128.1 246.8,127.1 247.0,124.7 247.2,123.7 247.4,127.2 247.7,124.4 247.9,125.5 248.1,128.4 248.3,126.3 248.5,120.4 248.7,126.8 249.0,126.0 249.2,125.9 249.4,125.6 249.6,126.4 249.8,126.4 250.1,126.1 250.3,126.5 250.5,129.7 250.7,126.5 250.9,127.9 251.1,124.2 251.4,124.9 251.6,127.4 251.8,125.9 252.0,130.7 252.2,127.9 252.4,127.8 252.7,126.4 252.9,129.4 253.1,127.0 253.3,127.9 253.5,132.6 253.7,129.0 254.0,126.5 254.2,128.2 254.4,130.7 254.6,131.0 254.8,130.5 255.1,124.6 255.3,130.2 255.5,129.1 255.7,132.8 255.9,132.5 256.1,129.6 256.4,127.9 256.6,130.5 256.8,127.4 257.0,128.1 257.2,129.7 257.4,130.7 257.7,133.5 257.9,134.2 258.1,132.5 258.3,129.6 258.5,132.1 258.7,127.7 259.0,130.7 259.2,134.2 259.4,129.7 259.6,133.2 259.8,135.5 260.0,133.2 260.3,131.8 260.5,135.1 260.7,133.2 260.9,129.9 261.1,136.5 261.4,134.6 261.6,134.2 261.8,135.3 262.0,135.9 262.2,135.9 262.4,136.1 262.7,130.8 262.9,133.9 263.1,132.0 263.3,132.0 263.5,132.5 263.7,132.6 264.0,138.9 264.2,133.9 264.4,139.6 264.6,135.7 264.8,135.9 265.0,138.9 265.3,141.2 265.5,136.3 265.7,131.5 265.9,132.0 266.1,133.0 266.4,137.1 266.6,139.8 266.8,131.8 267.0,133.9 267.2,140.0 267.4,138.7 267.7,138.1 267.9,135.0 268.1,134.8 268.3,136.5 268.5,138.9 268.7,138.5 269.0,137.1 269.2,133.7 269.4,140.0 269.6,133.3 269.8,139.6 270.0,134.8 270.3,135.9 270.5,138.7 270.7,136.9 270.9,135.7 271.1,140.9 271.3,135.5 271.6,143.6 271.8,138.3 272.0,137.7 272.2,140.9 272.4,139.2 272.7,137.3 272.9,141.4 273.1,140.0 273.3,140.5 273.5,136.5 273.7,133.7 274.0,136.9 274.2,137.7 274.4,144.1 274.6,138.3 274.8,138.7 275.0,137.3 275.3,139.4 275.5,138.3 275.7,139.4 275.9,136.5 276.1,142.8 276.3,140.0 276.6,138.5 276.8,144.6 277.0,138.7 277.2,146.2 277.4,139.6 277.7,147.1 277.9,136.9 278.1,144.1 278.3,140.5 278.5,143.8 278.7,142.6 279.0,143.8 279.2,140.0 279.4,141.2 279.6,140.3 279.8,139.2 280.0,143.6 280.3,138.5 280.5,143.3 280.7,141.9 280.9,141.2 281.1,140.3 281.3,143.1 281.6,143.3 281.8,143.3 282.0,149.2 282.2,148.3 282.4,144.9 282.7,141.2 282.9,141.2 283.1,141.9 283.3,144.4 283.5,146.5 283.7,145.2 284.0,144.4 284.2,143.3 284.4,144.1 284.6,147.1 284.8,147.4 285.0,150.8 285.3,146.0 285.5,144.6 285.7,144.9 285.9,149.2 286.1,148.3 286.3,142.8 286.6,149.5 286.8,145.2 287.0,146.0 287.2,143.8 287.4,148.6 287.6,149.8 287.9,151.1 288.1,152.5 288.3,147.1 288.5,147.7 288.7,148.6 289.0,150.8 289.2,146.5 289.4,150.8 289.6,141.9 289.8,151.8 290.0,152.8 290.3,145.4 290.5,148.3 290.7,146.2 290.9,145.4 291.1,151.1 291.3,149.5 291.6,148.0 291.8,149.2 292.0,145.2 292.2,148.0 292.4,146.2 292.6,152.5 292.9,155.4 293.1,145.4 293.3,152.8 293.5,148.9 293.7,149.5 294.0,151.1 294.2,152.5 294.4,147.4 294.6,149.2 294.8,148.6 295.0,150.1 295.3,149.5 295.5,149.5 295.7,146.8 295.9,152.1 296.1,156.2 296.3,149.2 296.6,156.2 296.8,149.5 297.0,157.0 297.2,152.8 297.4,158.7 297.6,154.3 297.9,155.4 298.1,152.5 298.3,150.1 298.5,151.8 298.7,160.0 298.9,151.1 299.2,149.8 299.4,154.6 299.6,150.8 299.8,154.3 300.0,149.5 300.3,157.0 300.5,156.2 300.7,150.4 300.9,152.1 301.1,157.0 301.3,155.0 301.6,155.0 301.8,155.0 302.0,156.2 302.2,154.3 302.4,156.2 302.6,152.8 302.9,155.0 303.1,151.4 303.3,156.6 303.5,154.6 303.7,155.4 303.9,150.1 304.2,146.2 304.4,158.2 304.6,156.2 304.8,153.2 305.0,160.0 305.3,153.5 305.5,153.9 305.7,157.0 305.9,153.9 306.1,156.2 306.3,157.8 306.6,156.2 306.8,152.1 307.0,157.0 307.2,155.0 307.4,160.9 307.6,158.7 307.9,155.8 308.1,157.4 308.3,157.0 308.5,150.1 308.7,151.1 308.9,154.3 309.2,157.4 309.4,157.4 309.6,158.2 309.8,162.4 310.0,161.9 310.2,157.4 310.5,155.4 310.7,155.4 310.9,157.8 311.1,158.7 311.3,154.6 311.6,153.5 311.8,157.0 312.0,157.8 312.2,157.8 312.4,155.4 312.6,154.6 312.9,158.7 313.1,158.7 313.3,158.2 313.5,160.9 313.7,156.6 313.9,166.7 314.2,155.0 314.4,157.0 314.6,157.8 314.8,156.6 315.0,155.0 315.2,159.1 315.5,153.2 315.7,166.1 315.9,158.2 316.1,160.5 316.3,154.6 316.6,148.9 316.8,159.1 317.0,159.6 317.2,154.6 317.4,157.8 317.6,157.4 317.9,160.9 318.1,165.5 318.3,162.4 318.5,155.8 318.7,163.9 318.9,165.0 319.2,164.5 319.4,160.0 319.6,167.9 319.8,156.2 320.0,158.7 320.2,163.9 320.5,160.0 320.7,158.7 320.9,162.9 321.1,161.9 321.3,169.1 321.6,163.4 321.8,161.9 322.0,159.1 322.2,160.5 322.4,165.5 322.6,161.4 322.9,160.5 323.1,161.9 323.3,159.6 323.5,161.9 323.7,163.9 323.9,168.5 324.2,161.9 324.4,165.5 324.6,165.0 324.8,154.6 325.0,161.4 325.2,162.9 325.5,168.5 325.7,161.9 325.9,169.7 326.1,163.9 326.3,161.4 326.5,160.9 326.8,167.3 327.0,170.4 327.2,161.9 327.4,166.7 327.6,165.5 327.9,157.4 328.1,163.9 328.3,176.3 328.5,161.4 328.7,159.6 328.9,165.0 329.2,169.1 329.4,169.1 329.6,166.1 329.8,162.4 330.0,165.0 330.2,166.1 330.5,165.5 330.7,174.7 330.9,173.2 331.1,161.4 331.3,171.8 331.5,170.4 331.8,163.4 332.0,167.9 332.2,159.1 332.4,165.5 332.6,169.7 332.9,162.9 333.1,163.9 333.3,167.9 333.5,168.5 333.7,165.0 333.9,173.2 334.2,176.3 334.4,167.3 334.6,173.9 334.8,166.7 335.0,165.0 335.2,165.5 335.5,171.8 335.7,171.1 335.9,169.1 336.1,159.1 336.3,171.1 336.5,161.9 336.8,165.5 337.0,174.7 337.2,161.9 337.4,179.8 337.6,177.1 337.8,165.0 338.1,165.5 338.3,170.4 338.5,173.9 338.7,169.7 338.9,165.5 339.2,167.9 339.4,167.9 339.6,169.7 339.8,169.1 340.0,167.9 340.2,173.2 340.5,169.1 340.7,166.7 340.9,171.8 341.1,167.9 341.3,173.2 341.5,161.9 341.8,173.9 342.0,163.9 342.2,165.0 342.4,171.1 342.6,175.5 342.8,171.1 343.1,170.4 343.3,178.0 343.5,170.4"/>
</g>
<path d="M158.0,39.9H185.0" stroke="#000" stroke-width="1.3"/>
<path d="M158.0,54.3H185.0" stroke="#f00" stroke-width="1.3"/>
<text class="lg" x="188.0" y="43.5">DOPC/Chol/SM (100/0/0)</text>
<text class="lg" x="188.0" y="57.8">DOPC/Chol/SM (90/0/10)</text>
<text class="ti" x="210.4" y="10.1" text-anchor="middle">g-and r-GM1</text>
<text class="tk" x="49.5" y="223.25" text-anchor="end">10</text>
<text class="sp" x="49.6" y="214.55">1</text>
<text class="tk" x="49.5" y="159.15" text-anchor="end">10</text>
<text class="sp" x="49.6" y="150.45">2</text>
<text class="tk" x="49.5" y="95.05" text-anchor="end">10</text>
<text class="sp" x="49.6" y="86.35">3</text>
<text class="tk" x="49.5" y="30.95" text-anchor="end">10</text>
<text class="sp" x="49.6" y="22.25">4</text>
<text class="al" transform="translate(13.2,126.7) rotate(-90)" text-anchor="middle">counts</text>
<g stroke="#000" stroke-width="1.7" fill="none" stroke-linecap="butt">
<rect x="383.9" y="20.4" width="282.20" height="197.30"/>
<path stroke-width="1.4" d="M383.90,217.7v4.4 M407.42,217.7v2.4 M430.93,217.7v4.4 M454.45,217.7v2.4 M477.97,217.7v4.4 M501.48,217.7v2.4 M525.00,217.7v4.4 M548.52,217.7v2.4 M572.03,217.7v4.4 M595.55,217.7v2.4 M619.07,217.7v4.4 M642.58,217.7v2.4 M666.10,217.7v4.4 M383.9,217.65h-4.8 M383.9,198.35h-2.6 M383.9,187.07h-2.6 M383.9,179.06h-2.6 M383.9,172.85h-2.6 M383.9,167.77h-2.6 M383.9,163.48h-2.6 M383.9,159.76h-2.6 M383.9,156.48h-2.6 M383.9,153.55h-4.8 M383.9,134.25h-2.6 M383.9,122.97h-2.6 M383.9,114.96h-2.6 M383.9,108.75h-2.6 M383.9,103.67h-2.6 M383.9,99.38h-2.6 M383.9,95.66h-2.6 M383.9,92.38h-2.6 M383.9,89.45h-4.8 M383.9,70.15h-2.6 M383.9,58.87h-2.6 M383.9,50.86h-2.6 M383.9,44.65h-2.6 M383.9,39.57h-2.6 M383.9,35.28h-2.6 M383.9,31.56h-2.6 M383.9,28.28h-2.6 M383.9,25.35h-4.8"/>
</g>
<g clip-path="url(#cTR)" fill="none" stroke-width="1.2" stroke-linejoin="round">
<polyline stroke="#000" points="383.9,197.3 384.0,198.1 384.2,191.8 384.3,204.1 384.5,195.6 384.6,198.1 384.7,197.3 384.9,194.0 385.0,201.0 385.2,203.0 385.3,190.4 385.5,198.1 385.6,195.6 385.7,198.1 385.9,196.4 386.0,197.3 386.2,199.1 386.3,198.1 386.4,207.7 386.6,207.7 386.7,205.3 386.9,202.0 387.0,204.1 387.1,197.3 387.3,202.0 387.4,197.3 387.6,201.0 387.7,203.0 387.9,192.5 388.0,200.0 388.1,211.8 388.3,202.0 388.4,192.5 388.6,194.0 388.7,197.3 388.8,199.1 389.0,194.8 389.1,203.0 389.3,196.4 389.4,194.0 389.5,189.0 389.7,199.1 389.8,197.3 390.0,202.0 390.1,199.1 390.3,201.0 390.4,202.0 390.5,201.0 390.7,201.0 390.8,197.3 391.0,201.0 391.1,191.8 391.2,199.1 391.4,205.3 391.5,202.0 391.7,194.8 391.8,202.0 391.9,197.3 392.1,195.6 392.2,198.1 392.4,196.4 392.5,197.3 392.7,196.4 392.8,198.1 392.9,197.3 393.1,194.0 393.2,204.1 393.4,206.5 393.5,201.0 393.6,210.3 393.8,195.6 393.9,198.1 394.1,199.1 394.2,205.3 394.3,189.7 394.5,196.4 394.6,202.0 394.8,194.8 394.9,197.3 395.1,202.0 395.2,190.4 395.3,200.0 395.5,198.1 395.6,211.8 395.8,191.8 395.9,205.3 396.0,200.0 396.2,200.0 396.3,206.5 396.5,189.7 396.6,205.3 396.7,206.5 396.9,204.1 397.0,204.1 397.2,203.0 397.3,196.4 397.5,201.0 397.6,201.0 397.7,202.0 397.9,205.3 398.0,202.0 398.2,216.6 398.3,194.0 398.4,205.3 398.6,194.0 398.7,190.4 398.9,198.1 399.0,199.1 399.1,201.0 399.3,197.3 399.4,188.4 399.6,199.1 399.7,198.1 399.9,194.0 400.0,197.3 400.1,195.6 400.3,198.1 400.4,190.4 400.6,205.3 400.7,206.5 400.8,205.3 401.0,201.0 401.1,198.1 401.3,199.1 401.4,194.8 401.5,204.1 401.7,195.6 401.8,203.0 402.0,205.3 402.1,195.6 402.3,198.1 402.4,187.2 402.5,200.0 402.7,202.0 402.8,204.1 403.0,196.4 403.1,204.1 403.2,203.0 403.4,202.0 403.5,192.5 403.7,189.7 403.8,197.3 403.9,196.4 404.1,198.1 404.2,200.0 404.4,192.5 404.5,198.1 404.7,216.6 404.8,209.0 404.9,194.0 405.1,194.8 405.2,206.5 405.4,204.1 405.5,196.4 405.6,195.6 405.8,203.0 405.9,198.1 406.1,199.1 406.2,201.0 406.3,203.0 406.5,196.4 406.6,189.7 406.8,204.1 406.9,194.8 407.1,202.0 407.2,201.0 407.3,207.7 407.5,191.1 407.6,200.0 407.8,189.7 407.9,206.5 408.0,199.1 408.2,202.0 408.3,197.3 408.5,198.1 408.6,198.1 408.7,192.5 408.9,194.0 409.0,202.0 409.2,199.1 409.3,200.0 409.5,204.1 409.6,201.0 409.7,204.1 409.9,201.0 410.0,203.0 410.2,197.3 410.3,186.6 410.4,196.4 410.6,210.3 410.7,200.0 410.9,200.0 411.0,197.3 411.1,203.0 411.3,197.3 411.4,199.1 411.6,203.0 411.7,199.1 411.9,196.4 412.0,196.4 412.1,198.1 412.3,199.1 412.4,196.4 412.6,200.0 412.7,206.5 412.8,194.8 413.0,191.1 413.1,205.3 413.3,194.0 413.4,194.0 413.5,199.1 413.7,205.3 413.8,206.5 414.0,210.3 414.1,199.1 414.3,192.5 414.4,197.3 414.5,205.3 414.7,198.1 414.8,197.3 415.0,201.0 415.1,203.0 415.2,203.0 415.4,199.1 415.5,199.1 415.7,194.0 415.8,203.0 415.9,197.3 416.1,199.1 416.2,202.0 416.4,198.1 416.5,197.3 416.7,191.8 416.8,199.1 416.9,201.0 417.1,198.1 417.2,198.1 417.4,203.0 417.5,199.1 417.6,201.0 417.8,197.3 417.9,194.8 418.1,195.6 418.2,199.1 418.3,193.2 418.5,211.8 418.6,194.0 418.8,193.2 418.9,201.0 419.1,202.0 419.2,200.0 419.3,194.0 419.5,201.0 419.6,189.0 419.8,202.0 419.9,200.0 420.0,203.0 420.2,202.0 420.3,200.0 420.5,199.1 420.6,200.0 420.7,203.0 420.9,197.3 421.0,199.1 421.2,205.3 421.3,194.0 421.5,200.0 421.6,197.3 421.7,202.0 421.9,194.8 422.0,204.1 422.2,199.1 422.3,195.6 422.4,197.3 422.6,196.4 422.7,197.3 422.9,207.7 423.0,196.4 423.1,197.3 423.3,203.0 423.4,211.8 423.6,195.6 423.7,197.3 423.9,201.0 424.0,196.4 424.1,200.0 424.3,200.0 424.4,201.0 424.6,193.2 424.7,194.8 424.8,203.0 425.0,207.7 425.1,197.3 425.3,205.3 425.4,193.2 425.5,199.1 425.7,198.1 425.8,197.3 426.0,194.8 426.1,196.4 426.3,205.3 426.4,204.1 426.5,192.5 426.7,196.4 426.8,197.3 427.0,199.1 427.1,205.3 427.2,195.6 427.4,190.4 427.5,195.6 427.7,197.3 427.8,202.0 427.9,194.8 428.1,197.3 428.2,203.0 428.4,197.3 428.5,194.8 428.7,196.4 428.8,196.4 428.9,200.0 429.1,201.0 429.2,203.0 429.4,192.5 429.5,194.8 429.6,195.6 429.8,201.0 429.9,194.8"/>
<polyline stroke="#000" points="437.3,26.2 437.4,26.5 437.5,26.0 437.7,25.8 437.8,25.8 438.0,25.7 438.1,25.8 438.3,26.2 438.4,26.2 438.5,26.5 438.7,26.4 438.8,26.8 439.0,26.9 439.1,26.7 439.2,27.1 439.4,27.7 439.5,27.0 439.7,27.4 439.8,27.8 439.9,27.5 440.1,28.0 440.2,28.5 440.4,28.2 440.5,28.6 440.7,29.0 440.8,28.7 440.9,28.8 441.1,29.0 441.2,29.2 441.4,29.6 441.5,29.9 441.6,29.2 441.8,29.8 441.9,30.0 442.1,30.1 442.2,30.2 442.3,30.4 442.5,30.4 442.6,30.9 442.8,30.8 442.9,30.9 443.1,31.2 443.2,31.2 443.3,32.0 443.5,32.0 443.6,32.3 443.8,32.1 443.9,32.1 444.0,32.6 444.2,32.8 444.3,33.1 444.5,33.1 444.6,32.9 444.7,33.1 444.9,33.5 445.0,34.2 445.2,33.7 445.3,33.8 445.5,34.0 445.6,34.5 445.7,34.1 445.9,34.4 446.0,34.5 446.2,34.9 446.3,34.8 446.4,35.2 446.6,35.5 446.7,35.2 446.9,34.8 447.0,35.7 447.1,35.4 447.3,36.0 447.4,36.2 447.6,36.3 447.7,36.2 447.9,36.0 448.0,36.0 448.1,36.3 448.3,36.5 448.4,36.6 448.6,36.3 448.7,37.0 448.8,37.3 449.0,37.0 449.1,37.0 449.3,38.1 449.4,37.4 449.5,37.7 449.7,37.5 449.8,37.8 450.0,37.5 450.1,38.1 450.3,38.2 450.4,37.5 450.5,38.4 450.7,38.5 450.8,38.8 451.0,38.7 451.1,38.6 451.2,39.0 451.4,39.3 451.5,39.7 451.7,38.9 451.8,39.8 451.9,39.3 452.1,39.8 452.2,39.0 452.4,40.4 452.5,40.3 452.7,40.2 452.8,40.0 452.9,40.4 453.1,40.6 453.2,40.7 453.4,40.1 453.5,40.4 453.6,41.7 453.8,40.8 453.9,41.3 454.1,40.6 454.2,41.1 454.3,41.6 454.5,41.1 454.6,41.6 454.8,41.5 454.9,41.6 455.0,42.2 455.2,41.9 455.3,41.9 455.5,42.1 455.6,42.1 455.8,42.7 455.9,43.1 456.0,42.9 456.2,42.7 456.3,42.6 456.5,43.2 456.6,43.1 456.7,43.9 456.9,43.7 457.0,43.3 457.2,43.0 457.3,43.9 457.4,42.9 457.6,43.8 457.7,44.4 457.9,44.0 458.0,44.2 458.2,44.4 458.3,44.4 458.4,44.3 458.6,44.4 458.7,44.7 458.9,44.8 459.0,45.4 459.1,45.3 459.3,45.5 459.4,44.9 459.6,46.1 459.7,45.0 459.8,45.5 460.0,45.6 460.1,45.3 460.3,46.2 460.4,45.9 460.6,46.5 460.7,46.1 460.8,46.7 461.0,46.8 461.1,47.3 461.3,46.7 461.4,46.0 461.5,47.2 461.7,46.6 461.8,47.7 462.0,47.9 462.1,47.2 462.2,47.6 462.4,47.6 462.5,47.5 462.7,47.7 462.8,47.2 463.0,47.8 463.1,47.7 463.2,48.4 463.4,49.0 463.5,48.1 463.7,48.6 463.8,48.0 463.9,48.7 464.1,49.2 464.2,49.0 464.4,49.1 464.5,49.4 464.6,49.9 464.8,49.6 464.9,49.7 465.1,50.0 465.2,50.1 465.4,49.9 465.5,49.7 465.6,50.5 465.8,50.3 465.9,50.1 466.1,50.0 466.2,51.4 466.3,50.7 466.5,50.5 466.6,50.4 466.8,51.2 466.9,51.1 467.0,51.2 467.2,51.5 467.3,51.1 467.5,51.4 467.6,51.4 467.8,52.2 467.9,52.2 468.0,51.9 468.2,52.8 468.3,52.8 468.5,52.2 468.6,52.4 468.7,52.3 468.9,52.7 469.0,53.1 469.2,53.2 469.3,52.3 469.4,53.0 469.6,53.3 469.7,53.3 469.9,52.9 470.0,53.5 470.2,53.3 470.3,54.0 470.4,53.8 470.6,53.6 470.7,54.7 470.9,53.9 471.0,53.8 471.1,54.0 471.3,55.0 471.4,53.9 471.6,54.7 471.7,54.9 471.8,54.7 472.0,54.8 472.1,55.7 472.3,55.1 472.4,54.9 472.6,55.5 472.7,55.6 472.8,55.2 473.0,55.2 473.1,55.6 473.3,55.1 473.4,55.6 473.5,56.8 473.7,56.7 473.8,56.1 474.0,56.6 474.1,56.7 474.2,56.4 474.4,57.0 474.5,56.2 474.7,57.0 474.8,57.7 475.0,56.7 475.1,57.6 475.2,57.6 475.4,57.9 475.5,57.2 475.7,57.5 475.8,57.7 475.9,57.9 476.1,57.9 476.2,57.9 476.4,58.1 476.5,58.1 476.6,58.4 476.8,58.4 476.9,58.8 477.1,57.9 477.2,59.1 477.4,58.8 477.5,59.0 477.6,58.9 477.8,58.9 477.9,59.6 478.1,59.5 478.2,59.5 478.3,60.0 478.5,59.6 478.6,59.8 478.8,59.5 478.9,60.8 479.0,60.1 479.2,59.1 479.3,60.8 479.5,60.9 479.6,60.6 479.8,60.4 479.9,60.5 480.0,60.7 480.2,60.8 480.3,61.1 480.5,61.6 480.6,61.4 480.7,61.5 480.9,61.7 481.0,60.5 481.2,61.3 481.3,62.4 481.4,61.7 481.6,62.1 481.7,62.2 481.9,62.6 482.0,62.2 482.2,62.0 482.3,62.1 482.4,62.2 482.6,62.1 482.7,62.2 482.9,62.7 483.0,63.2 483.1,62.4 483.3,62.0 483.4,63.1 483.6,63.4 483.7,63.8 483.8,63.3 484.0,63.9 484.1,64.5 484.3,64.1 484.4,63.6 484.6,63.4 484.7,64.1 484.8,64.5 485.0,63.8 485.1,63.5 485.3,64.7 485.4,64.1 485.5,64.3 485.7,64.9 485.8,65.0 486.0,64.6 486.1,65.7 486.2,65.7 486.4,65.8 486.5,64.9 486.7,65.1 486.8,66.1 487.0,64.5 487.1,65.2 487.2,67.1 487.4,66.3 487.5,66.3 487.7,66.5 487.8,66.0 487.9,66.2 488.1,66.4 488.2,66.5 488.4,66.7 488.5,66.7 488.6,66.4 488.8,65.8 488.9,66.7 489.1,67.3 489.2,67.5 489.4,67.5 489.5,67.5 489.6,67.1 489.8,67.8 489.9,68.0 490.1,68.2 490.2,68.5 490.3,68.1 490.5,68.7 490.6,68.0 490.8,69.4 490.9,68.0 491.0,67.9 491.2,68.5 491.3,69.0 491.5,69.7 491.6,69.3 491.8,68.6 491.9,69.8 492.0,68.6 492.2,69.5 492.3,69.4 492.5,69.5 492.6,68.7 492.7,70.3 492.9,69.7 493.0,70.0 493.2,70.3 493.3,70.4 493.4,69.7 493.6,71.0 493.7,70.4 493.9,70.7 494.0,70.8 494.2,70.5 494.3,70.2 494.4,70.4 494.6,70.7 494.7,70.6 494.9,70.8 495.0,71.8 495.1,71.5 495.3,71.5 495.4,71.4 495.6,71.1 495.7,72.6 495.8,72.4 496.0,70.9 496.1,72.4 496.3,71.9 496.4,72.6 496.6,71.6 496.7,72.0 496.8,72.1 497.0,72.8 497.1,72.8 497.3,73.3 497.4,73.2 497.5,72.6 497.7,72.6 497.8,73.5 498.0,73.9 498.1,73.4 498.2,73.3 498.4,74.1 498.5,73.8 498.7,74.7 498.8,73.8 499.0,74.5 499.1,74.7 499.2,73.7 499.4,73.8 499.5,74.7 499.7,74.4 499.8,74.6 499.9,74.2 500.1,75.2 500.2,75.5 500.4,74.8 500.5,75.4 500.6,75.6 500.8,75.4 500.9,75.4 501.1,76.3 501.2,76.7 501.4,75.4 501.5,76.2 501.6,75.6 501.8,75.8 501.9,76.4 502.1,76.2 502.2,76.3 502.3,75.4 502.5,75.9 502.6,76.1 502.8,75.8 502.9,76.5 503.0,76.8 503.2,77.2 503.3,77.1 503.5,77.4 503.6,77.8 503.8,78.2 503.9,78.0 504.0,77.9 504.2,77.0 504.3,77.1 504.5,78.0 504.6,78.6 504.7,77.7 504.9,78.6 505.0,78.1 505.2,78.8 505.3,78.5 505.4,78.1 505.6,78.6 505.7,78.9 505.9,78.9 506.0,79.9 506.2,78.6 506.3,76.9 506.4,79.5 506.6,79.0 506.7,78.9 506.9,79.6 507.0,79.4 507.1,79.7 507.3,79.9 507.4,80.1 507.6,80.1 507.7,80.1 507.8,79.9 508.0,80.7 508.1,80.0 508.3,80.5 508.4,81.1 508.6,80.3 508.7,81.3 508.8,80.8 509.0,80.7 509.1,81.8 509.3,80.6 509.4,79.5 509.5,80.6 509.7,80.8 509.8,82.4 510.0,81.1 510.1,80.2 510.2,81.0 510.4,82.1 510.5,82.1 510.7,82.4 510.8,81.8 511.0,82.4 511.1,82.6 511.2,83.8 511.4,83.7 511.5,82.3 511.7,81.2 511.8,82.6 511.9,82.7 512.1,84.2 512.2,83.5 512.4,84.0 512.5,83.7 512.6,82.9 512.8,84.7 512.9,84.3 513.1,84.2 513.2,82.4 513.4,84.2 513.5,85.2 513.6,83.6 513.8,84.0 513.9,84.5 514.1,84.1 514.2,84.2 514.3,83.9 514.5,83.0 514.6,83.4 514.8,84.2 514.9,84.9 515.0,83.7 515.2,84.7 515.3,85.2 515.5,84.5 515.6,85.4 515.8,84.5 515.9,84.6 516.0,85.9 516.2,85.6 516.3,85.8 516.5,86.0 516.6,85.5 516.7,85.6 516.9,85.5 517.0,85.8 517.2,85.2 517.3,85.6 517.4,87.0 517.6,85.9 517.7,85.1 517.9,86.8 518.0,87.6 518.2,85.6 518.3,85.6 518.4,87.2 518.6,86.4 518.7,86.8 518.9,86.3 519.0,87.7 519.1,88.7 519.3,86.7 519.4,88.4 519.6,87.3 519.7,86.7 519.8,86.9 520.0,87.8 520.1,89.1 520.3,87.7 520.4,88.0 520.6,88.3 520.7,87.3 520.8,88.6 521.0,89.0 521.1,88.9 521.3,89.2 521.4,89.3 521.5,89.2 521.7,89.3 521.8,88.1 522.0,88.3 522.1,89.5 522.2,89.0 522.4,88.8 522.5,89.1 522.7,89.1 522.8,88.9 523.0,90.7 523.1,90.4 523.2,88.9 523.4,89.9 523.5,91.4 523.7,90.0 523.8,89.9 523.9,90.9 524.1,90.3 524.2,91.2 524.4,92.5 524.5,91.5 524.6,91.6 524.8,92.1 524.9,90.8 525.1,91.5 525.2,91.4 525.4,90.9 525.5,90.6 525.6,90.3 525.8,90.6 525.9,91.9 526.1,91.6 526.2,91.5 526.3,93.2 526.5,92.2 526.6,92.4 526.8,93.3 526.9,91.4 527.0,93.0 527.2,93.1 527.3,91.3 527.5,92.4 527.6,92.7 527.8,92.4 527.9,93.5 528.0,93.5 528.2,91.1 528.3,92.4 528.5,94.7 528.6,92.5 528.7,92.3 528.9,94.6 529.0,93.8 529.2,93.0 529.3,93.7 529.4,93.6 529.6,93.2 529.7,94.1 529.9,94.6 530.0,94.0 530.2,95.5 530.3,94.7 530.4,95.0 530.6,94.7 530.7,95.1 530.9,95.1 531.0,95.2 531.1,94.5 531.3,95.9 531.4,95.3 531.6,96.5 531.7,95.6 531.8,97.5 532.0,95.8 532.1,93.3 532.3,95.5 532.4,97.0 532.6,95.8 532.7,94.7 532.8,95.7 533.0,95.5 533.1,96.2 533.3,96.5 533.4,95.2 533.5,96.6 533.7,95.5 533.8,96.8 534.0,97.0 534.1,96.7 534.2,97.2 534.4,97.1 534.5,97.4 534.7,96.0 534.8,96.6 535.0,96.0 535.1,96.2 535.2,98.0 535.4,96.1 535.5,97.3 535.7,97.6 535.8,97.6 535.9,97.7 536.1,96.0 536.2,98.8 536.4,99.8 536.5,97.0 536.6,98.1 536.8,98.7 536.9,99.2 537.1,98.8 537.2,99.0 537.4,98.5 537.5,98.4 537.6,100.0 537.8,99.2 537.9,99.5 538.1,100.0 538.2,99.9 538.3,99.6 538.5,99.8 538.6,97.7 538.8,100.0 538.9,99.2 539.0,101.0 539.2,99.3 539.3,100.4 539.5,100.4 539.6,99.0 539.8,100.0 539.9,100.5 540.0,101.0 540.2,100.9 540.3,101.5 540.5,99.3 540.6,100.5 540.7,101.2 540.9,101.2 541.0,102.6 541.2,101.8 541.3,101.2 541.4,102.6 541.6,100.4 541.7,98.7 541.9,102.5 542.0,101.2 542.2,103.0 542.3,100.5 542.4,101.4 542.6,101.8 542.7,102.5 542.9,101.8 543.0,101.6 543.1,103.0 543.3,103.4 543.4,102.3 543.6,101.2 543.7,102.0 543.8,101.3 544.0,101.3 544.1,102.7 544.3,102.2 544.4,103.9 544.6,102.8 544.7,104.2 544.8,103.4 545.0,103.5 545.1,104.4 545.3,103.0 545.4,103.0 545.5,104.1 545.7,103.9 545.8,104.3 546.0,104.3 546.1,104.3 546.2,104.4 546.4,104.3 546.5,104.0 546.7,104.8 546.8,104.1 547.0,104.1 547.1,104.5 547.2,103.0 547.4,105.7 547.5,105.1 547.7,104.5 547.8,104.4 547.9,105.2 548.1,106.3 548.2,104.3 548.4,105.0 548.5,104.4 548.6,107.2 548.8,106.1 548.9,105.0 549.1,103.9 549.2,104.5 549.4,104.3 549.5,105.0 549.6,104.7 549.8,105.7 549.9,106.6 550.1,107.3 550.2,106.1 550.3,106.2 550.5,105.7 550.6,104.5 550.8,106.1 550.9,108.8 551.0,107.3 551.2,106.4 551.3,107.4 551.5,108.5 551.6,108.0 551.8,105.2 551.9,105.8 552.0,106.8 552.2,105.8 552.3,106.7 552.5,107.5 552.6,107.2 552.7,106.1 552.9,109.7 553.0,108.2 553.2,107.1 553.3,107.6 553.4,108.9 553.6,106.8 553.7,107.7 553.9,108.3 554.0,108.9 554.2,108.8 554.3,108.3 554.4,108.4 554.6,107.7 554.7,108.5 554.9,110.0 555.0,109.6 555.1,108.1 555.3,108.8 555.4,107.1 555.6,111.1 555.7,109.3 555.8,111.4 556.0,110.1 556.1,109.7 556.3,108.8 556.4,108.6 556.6,108.6 556.7,110.6 556.8,110.1 557.0,109.9 557.1,107.8 557.3,109.2 557.4,109.6 557.5,110.5 557.7,110.5 557.8,110.7 558.0,110.1 558.1,111.4 558.2,113.1 558.4,111.3 558.5,111.4 558.7,111.3 558.8,111.0 559.0,111.3 559.1,111.3 559.2,112.5 559.4,113.0 559.5,111.9 559.7,112.6 559.8,112.7 559.9,112.2 560.1,112.1 560.2,113.9 560.4,114.4 560.5,113.6 560.6,110.8 560.8,113.7 560.9,110.2 561.1,111.1 561.2,113.7 561.4,112.1 561.5,112.0 561.6,111.3 561.8,110.5 561.9,112.6 562.1,112.7 562.2,112.7 562.3,112.8 562.5,113.6 562.6,115.9 562.8,114.3 562.9,114.0 563.0,112.7 563.2,112.8 563.3,113.0 563.5,114.0 563.6,115.2 563.8,114.3 563.9,112.8 564.0,112.1 564.2,115.0 564.3,113.7 564.5,114.2 564.6,114.3 564.7,114.9 564.9,114.9 565.0,114.0 565.2,113.6 565.3,114.5 565.4,113.3 565.6,114.4 565.7,113.3 565.9,115.0 566.0,115.9 566.2,117.2 566.3,117.1 566.4,116.0 566.6,113.3 566.7,114.8 566.9,117.5 567.0,115.5 567.1,115.2 567.3,116.0 567.4,114.1 567.6,115.8 567.7,115.1 567.8,116.4 568.0,119.0 568.1,118.1 568.3,114.9 568.4,115.4 568.6,114.3 568.7,114.8 568.8,116.7 569.0,115.0 569.1,117.5 569.3,118.5 569.4,118.6 569.5,115.4 569.7,116.4 569.8,115.7 570.0,118.8 570.1,117.8 570.2,116.9 570.4,117.0 570.5,117.1 570.7,116.8 570.8,117.7 571.0,118.0 571.1,120.3 571.2,118.5 571.4,118.3 571.5,117.9 571.7,118.7 571.8,118.1 571.9,117.1 572.1,119.1 572.2,117.0 572.4,119.1 572.5,117.4 572.6,119.4 572.8,121.1 572.9,118.9 573.1,118.9 573.2,117.6 573.4,120.0 573.5,120.4 573.6,118.8 573.8,119.1 573.9,118.9 574.1,121.0 574.2,120.7 574.3,121.5 574.5,119.8 574.6,122.6 574.8,119.1 574.9,119.9 575.0,119.0 575.2,119.0 575.3,117.8 575.5,120.4 575.6,120.5 575.8,118.6 575.9,123.3 576.0,121.2 576.2,122.3 576.3,120.6 576.5,121.6 576.6,123.7 576.7,120.1 576.9,121.2 577.0,120.3 577.2,118.9 577.3,122.2 577.4,120.9 577.6,121.3 577.7,120.7 577.9,122.1 578.0,123.6 578.2,122.2 578.3,121.9 578.4,122.6 578.6,120.6 578.7,123.0 578.9,122.8 579.0,121.1 579.1,122.1 579.3,123.7 579.4,123.4 579.6,122.0 579.7,122.2 579.8,122.3 580.0,122.4 580.1,123.7 580.3,123.3 580.4,122.6 580.6,122.8 580.7,123.4 580.8,122.6 581.0,122.8 581.1,122.4 581.3,126.1 581.4,123.4 581.5,123.5 581.7,124.1 581.8,121.7 582.0,121.2 582.1,125.5 582.2,122.3 582.4,122.3 582.5,127.0 582.7,125.8 582.8,125.0 583.0,126.3 583.1,122.6 583.2,125.2 583.4,125.6 583.5,122.8 583.7,124.8 583.8,123.9 583.9,123.7 584.1,122.8 584.2,125.3 584.4,126.2 584.5,123.5 584.6,124.1 584.8,127.8 584.9,124.2 585.1,125.5 585.2,125.8 585.4,127.7 585.5,127.7 585.6,124.7 585.8,125.1 585.9,123.9 586.1,125.7 586.2,123.5 586.3,127.5 586.5,125.1 586.6,125.3 586.8,126.2 586.9,124.5 587.0,127.9 587.2,126.0 587.3,127.0 587.5,124.5 587.6,129.0 587.8,128.5 587.9,126.7 588.0,129.1 588.2,126.9 588.3,127.7 588.5,124.2 588.6,127.7 588.7,128.1 588.9,125.5 589.0,125.1 589.2,127.2 589.3,127.2 589.4,130.7 589.6,126.5 589.7,125.6 589.9,128.5 590.0,129.7 590.2,127.4 590.3,132.0 590.4,127.0 590.6,129.0 590.7,129.0 590.9,128.7 591.0,129.3 591.1,131.6 591.3,128.6 591.4,130.2 591.6,128.2 591.7,128.7 591.8,129.9 592.0,129.3 592.1,130.6 592.3,129.7 592.4,130.1 592.6,129.6 592.7,132.3 592.8,127.4 593.0,130.0 593.1,128.8 593.3,130.6 593.4,130.4 593.5,127.7 593.7,131.6 593.8,131.9 594.0,133.8 594.1,132.7 594.2,132.1 594.4,130.2 594.5,131.6 594.7,130.2 594.8,130.4 595.0,129.4 595.1,131.7 595.2,132.8 595.4,131.5 595.5,130.7 595.7,130.2 595.8,129.7 595.9,130.7 596.1,129.0 596.2,131.9 596.4,132.5 596.5,131.6 596.6,130.7 596.8,133.2 596.9,134.4 597.1,135.3 597.2,132.6 597.3,132.8 597.5,132.6 597.6,131.1 597.8,130.7 597.9,133.4 598.1,130.6 598.2,130.0 598.3,133.7 598.5,133.5 598.6,135.4 598.8,132.8 598.9,132.9 599.0,131.4 599.2,133.0 599.3,135.6 599.5,134.5 599.6,133.0 599.7,130.9 599.9,132.1 600.0,132.4 600.2,137.7 600.3,135.1 600.5,135.3 600.6,132.5 600.7,132.1 600.9,133.2 601.0,131.5 601.2,132.1 601.3,132.2 601.4,133.2 601.6,132.9 601.7,137.5 601.9,134.0 602.0,133.1 602.1,137.2 602.3,132.8 602.4,132.5 602.6,133.4 602.7,135.3 602.9,135.8 603.0,135.0 603.1,136.7 603.3,136.4 603.4,133.2 603.6,134.6 603.7,134.6 603.8,134.1 604.0,135.8 604.1,133.2 604.3,135.6 604.4,136.5 604.5,137.6 604.7,137.3 604.8,135.0 605.0,136.8 605.1,137.6 605.3,134.6 605.4,138.1 605.5,138.3 605.7,136.1 605.8,135.9 606.0,136.0 606.1,138.0 606.2,137.8 606.4,139.7 606.5,133.4 606.7,138.1 606.8,137.2 606.9,138.5 607.1,135.9 607.2,138.1 607.4,137.7 607.5,137.2 607.7,138.1 607.8,138.7 607.9,136.8 608.1,135.4 608.2,137.2 608.4,140.1 608.5,140.3 608.6,138.1 608.8,140.6 608.9,140.1 609.1,139.5 609.2,137.3 609.3,139.6 609.5,138.3 609.6,137.9 609.8,142.2 609.9,138.4 610.1,142.4 610.2,139.7 610.3,135.7 610.5,139.8 610.6,139.2 610.8,139.0 610.9,134.2 611.0,140.5 611.2,135.7 611.3,138.4 611.5,138.7 611.6,136.9 611.7,137.3 611.9,138.5 612.0,138.0 612.2,138.6 612.3,140.8 612.5,137.6 612.6,141.6 612.7,138.7 612.9,140.6 613.0,137.5 613.2,137.8 613.3,141.4 613.4,139.4 613.6,145.7 613.7,138.8 613.9,141.1 614.0,142.4 614.1,141.3 614.3,142.4 614.4,140.8 614.6,142.4 614.7,142.2 614.9,142.1 615.0,141.2 615.1,143.6 615.3,140.7 615.4,138.6 615.6,142.2 615.7,140.5 615.8,141.4 616.0,141.5 616.1,142.6 616.3,138.6 616.4,137.5 616.5,138.5 616.7,140.4 616.8,144.4 617.0,141.9 617.1,142.0 617.3,139.4 617.4,141.2 617.5,144.4 617.7,139.5 617.8,145.0 618.0,142.0 618.1,144.8 618.2,147.2 618.4,142.8 618.5,142.5 618.7,143.0 618.8,139.4 618.9,142.0 619.1,141.3 619.2,143.7 619.4,140.8 619.5,139.8 619.7,139.5 619.8,141.5 619.9,144.9 620.1,147.4 620.2,141.3 620.4,144.4 620.5,145.7 620.6,143.7 620.8,145.4 620.9,141.2 621.1,140.4 621.2,146.5 621.3,142.8 621.5,144.4 621.6,144.1 621.8,143.8 621.9,147.0 622.1,145.7 622.2,145.7 622.3,143.5 622.5,142.1 622.6,140.7 622.8,143.2 622.9,143.5 623.0,148.1 623.2,142.5 623.3,145.4 623.5,147.4 623.6,144.6 623.7,143.8 623.9,150.0 624.0,148.7 624.2,147.8 624.3,144.4 624.5,142.4 624.6,146.0 624.7,144.4 624.9,144.6 625.0,146.5 625.2,145.2 625.3,147.4 625.4,144.6 625.6,143.6 625.7,147.1 625.9,146.7 626.0,145.7 626.1,148.9 626.3,146.4 626.4,146.1 626.6,144.4 626.7,148.6 626.9,147.1 627.0,145.3 627.1,144.5 627.3,148.9 627.4,145.3 627.6,143.8 627.7,150.9 627.8,148.0 628.0,146.0 628.1,146.4 628.3,146.7 628.4,145.2 628.5,146.5 628.7,148.0 628.8,146.8 629.0,146.5 629.1,150.6 629.3,147.5 629.4,144.8 629.5,149.2 629.7,149.8 629.8,148.7 630.0,147.2 630.1,143.8 630.2,149.8 630.4,150.6 630.5,144.6 630.7,147.1 630.8,149.6 630.9,150.9 631.1,148.0 631.2,149.8 631.4,152.3 631.5,146.7 631.7,147.4 631.8,151.1 631.9,147.4 632.1,148.1 632.2,148.6 632.4,146.0 632.5,150.3 632.6,149.5 632.8,149.3 632.9,149.5 633.1,154.3 633.2,148.7 633.3,147.8 633.5,152.5 633.6,147.4 633.8,150.3 633.9,149.2 634.1,150.4 634.2,150.9 634.3,152.3 634.5,147.4 634.6,145.2 634.8,150.0 634.9,149.2 635.0,147.4 635.2,148.1 635.3,151.8 635.5,151.6 635.6,154.3 635.7,150.4 635.9,148.6 636.0,150.3 636.2,152.8 636.3,149.6 636.5,154.3 636.6,149.2 636.7,151.6 636.9,152.5 637.0,148.7 637.2,150.3 637.3,156.6 637.4,150.4 637.6,150.1 637.7,150.3 637.9,152.5 638.0,149.3 638.1,150.3 638.3,152.8 638.4,154.6 638.6,155.0 638.7,151.8 638.9,154.3 639.0,150.9 639.1,150.4 639.3,153.0 639.4,150.4 639.6,150.4 639.7,156.0 639.8,152.6 640.0,150.9 640.1,150.8 640.3,154.8 640.4,151.1 640.5,154.3 640.7,157.6 640.8,153.7 641.0,157.2 641.1,155.2 641.3,155.0 641.4,152.1 641.5,155.8 641.7,151.1 641.8,149.6 642.0,152.3 642.1,154.1 642.2,153.0 642.4,152.3 642.5,156.0 642.7,150.4 642.8,153.5 642.9,153.7 643.1,158.0 643.2,152.8 643.4,153.2 643.5,151.4 643.7,148.6 643.8,155.4 643.9,154.3 644.1,155.2 644.2,152.8 644.4,152.6 644.5,156.0 644.6,153.2 644.8,153.5 644.9,154.1 645.1,158.2 645.2,152.5 645.3,160.7 645.5,154.8 645.6,153.7 645.8,155.0 645.9,150.6 646.1,155.8 646.2,155.8 646.3,152.8 646.5,155.0 646.6,154.6 646.8,160.2 646.9,152.5 647.0,157.2 647.2,160.0 647.3,152.3 647.5,157.4 647.6,158.0 647.7,153.9 647.9,151.3 648.0,157.0 648.2,157.0 648.3,158.0 648.5,158.7 648.6,153.9 648.7,155.6 648.9,155.0 649.0,157.0 649.2,158.0 649.3,157.8 649.4,158.7 649.6,157.4 649.7,157.4 649.9,154.8 650.0,157.0 650.1,154.3 650.3,157.6 650.4,160.2 650.6,162.9 650.7,156.0 650.9,156.0 651.0,156.2 651.1,157.0 651.3,157.4 651.4,154.3 651.6,159.6 651.7,158.5 651.8,159.8 652.0,157.8 652.1,157.6 652.3,160.7 652.4,154.8 652.5,157.6 652.7,157.2 652.8,152.5 653.0,158.5 653.1,162.4 653.3,157.8 653.4,160.7 653.5,157.6 653.7,165.3 653.8,156.2 654.0,154.8 654.1,158.9 654.2,159.6 654.4,158.9 654.5,158.7 654.7,159.6 654.8,158.2 654.9,158.5 655.1,156.8 655.2,159.3 655.4,162.4 655.5,162.6 655.7,163.4 655.8,159.6 655.9,157.8 656.1,154.1 656.2,160.5 656.4,158.2 656.5,154.4 656.6,160.5 656.8,164.2 656.9,155.4 657.1,160.0 657.2,158.2 657.3,160.7 657.5,157.8 657.6,162.4 657.8,158.7 657.9,157.4 658.1,156.0 658.2,158.7 658.3,156.6 658.5,158.9 658.6,156.8 658.8,159.6 658.9,158.9 659.0,157.6 659.2,163.1 659.3,159.3 659.5,159.1 659.6,160.5 659.7,157.8 659.9,160.7 660.0,162.9 660.2,161.2 660.3,164.2 660.5,160.9 660.6,165.5 660.7,159.6 660.9,157.4 661.0,162.6 661.2,159.3 661.3,158.5 661.4,158.2 661.6,157.4 661.7,159.6 661.9,158.2 662.0,161.2 662.1,160.7 662.3,166.1 662.4,162.6 662.6,158.5 662.7,165.0 662.9,160.0 663.0,160.2 663.1,165.0 663.3,162.1 663.4,158.0 663.6,162.4 663.7,163.4 663.8,163.9 664.0,163.4 664.1,161.2 664.3,162.4 664.4,160.9 664.5,161.2 664.7,165.0 664.8,166.1 665.0,163.9 665.1,161.7 665.3,160.9 665.4,164.7 665.5,159.6 665.7,161.2 665.8,163.7 666.0,166.1 666.1,164.5"/>
<polyline stroke="#f00" points="383.9,200.0 384.0,198.1 384.2,203.0 384.3,205.3 384.5,195.6 384.6,201.0 384.7,203.0 384.9,187.8 385.0,196.4 385.2,214.9 385.3,194.0 385.5,204.1 385.6,193.2 385.7,201.0 385.9,195.6 386.0,203.0 386.2,196.4 386.3,197.3 386.4,196.4 386.6,194.8 386.7,195.6 386.9,202.0 387.0,190.4 387.1,196.4 387.3,188.4 387.4,204.1 387.6,196.4 387.7,204.1 387.9,204.1 388.0,197.3 388.1,196.4 388.3,200.0 388.4,195.6 388.6,189.7 388.7,192.5 388.8,195.6 389.0,193.2 389.1,204.1 389.3,199.1 389.4,198.1 389.5,196.4 389.7,197.3 389.8,196.4 390.0,207.7 390.1,204.1 390.3,201.0 390.4,199.1 390.5,202.0 390.7,202.0 390.8,201.0 391.0,191.8 391.1,198.1 391.2,199.1 391.4,203.0 391.5,194.0 391.7,189.0 391.8,195.6 391.9,201.0 392.1,202.0 392.2,200.0 392.4,191.1 392.5,188.4 392.7,195.6 392.8,197.3 392.9,197.3 393.1,204.1 393.2,197.3 393.4,196.4 393.5,205.3 393.6,203.0 393.8,198.1 393.9,199.1 394.1,213.3 394.2,194.0 394.3,207.7 394.5,202.0 394.6,194.0 394.8,200.0 394.9,200.0 395.1,191.8 395.2,190.4 395.3,197.3 395.5,207.7 395.6,202.0 395.8,197.3 395.9,200.0 396.0,202.0 396.2,207.7 396.3,200.0 396.5,196.4 396.6,202.0 396.7,198.1 396.9,206.5 397.0,196.4 397.2,202.0 397.3,194.8 397.5,193.2 397.6,191.1 397.7,195.6 397.9,204.1 398.0,203.0 398.2,201.0 398.3,200.0 398.4,196.4 398.6,194.8 398.7,201.0 398.9,200.0 399.0,211.8 399.1,201.0 399.3,196.4 399.4,207.7 399.6,197.3 399.7,194.0 399.9,199.1 400.0,193.2 400.1,189.7 400.3,199.1 400.4,199.1 400.6,202.0 400.7,196.4 400.8,191.8 401.0,189.7 401.1,196.4 401.3,203.0 401.4,191.1 401.5,193.2 401.7,203.0 401.8,199.1 402.0,209.0 402.1,194.8 402.3,194.8 402.4,199.1 402.5,198.1 402.7,193.2 402.8,201.0 403.0,194.0 403.1,203.0 403.2,195.6 403.4,194.8 403.5,191.1 403.7,201.0 403.8,199.1 403.9,192.5 404.1,200.0 404.2,200.0 404.4,194.8 404.5,200.0 404.7,203.0 404.8,204.1 404.9,189.7 405.1,200.0 405.2,205.3 405.4,209.0 405.5,196.4 405.6,189.0 405.8,197.3 405.9,197.3 406.1,194.8 406.2,209.0 406.3,191.8 406.5,200.0 406.6,195.6 406.8,202.0 406.9,192.5 407.1,202.0 407.2,193.2 407.3,199.1 407.5,197.3 407.6,194.8 407.8,198.1 407.9,192.5 408.0,201.0 408.2,193.2 408.3,198.1 408.5,187.8 408.6,203.0 408.7,198.1 408.9,189.0 409.0,192.5 409.2,201.0 409.3,204.1 409.5,204.1 409.6,199.1 409.7,204.1 409.9,205.3 410.0,194.8 410.2,190.4 410.3,197.3 410.4,194.0 410.6,202.0 410.7,202.0 410.9,192.5 411.0,202.0 411.1,195.6 411.3,201.0 411.4,193.2 411.6,202.0 411.7,202.0 411.9,199.1 412.0,195.6 412.1,200.0 412.3,198.1 412.4,202.0 412.6,203.0 412.7,193.2 412.8,193.2 413.0,193.2 413.1,197.3 413.3,203.0 413.4,191.1 413.5,197.3 413.7,205.3 413.8,198.1 414.0,202.0 414.1,202.0 414.3,199.1 414.4,201.0 414.5,195.6 414.7,191.8 414.8,191.1 415.0,192.5 415.1,194.8 415.2,204.1 415.4,196.4 415.5,197.3 415.7,195.6 415.8,201.0 415.9,197.3 416.1,195.6 416.2,200.0 416.4,202.0 416.5,197.3 416.7,190.4 416.8,203.0 416.9,196.4 417.1,196.4 417.2,198.1 417.4,202.0 417.5,202.0 417.6,210.3 417.8,196.4 417.9,197.3 418.1,194.0 418.2,196.4 418.3,193.2 418.5,205.3 418.6,197.3 418.8,190.4 418.9,194.8 419.1,202.0 419.2,199.1 419.3,203.0 419.5,203.0 419.6,195.6 419.8,196.4 419.9,196.4 420.0,192.5 420.2,200.0 420.3,196.4 420.5,196.4 420.6,200.0 420.7,189.0 420.9,209.0 421.0,189.7 421.2,194.8 421.3,197.3 421.5,200.0 421.6,191.8 421.7,197.3 421.9,203.0 422.0,194.8 422.2,205.3 422.3,199.1 422.4,194.0 422.6,203.0 422.7,204.1 422.9,194.8 423.0,197.3 423.1,201.0 423.3,189.7 423.4,201.0 423.6,203.0 423.7,198.1 423.9,195.6 424.0,192.5 424.1,196.4 424.3,209.0 424.4,200.0 424.6,192.5 424.7,196.4 424.8,197.3 425.0,192.5 425.1,202.0 425.3,200.0 425.4,196.4 425.5,196.4 425.7,202.0 425.8,187.2 426.0,195.6 426.1,204.1 426.3,198.1 426.4,195.6 426.5,191.8 426.7,199.1 426.8,194.8 427.0,206.5 427.1,194.8 427.2,194.8 427.4,198.1 427.5,191.8 427.7,194.8 427.8,186.0 427.9,196.4 428.1,201.0 428.2,198.1 428.4,204.1 428.5,195.6 428.7,195.6 428.8,196.4 428.9,194.0 429.1,186.0 429.2,210.3 429.4,199.1 429.5,187.2 429.6,198.1 429.8,207.7 429.9,192.5 430.1,184.3 430.2,171.1 430.3,159.3 430.5,138.9 430.6,125.8 430.8,114.2 430.9,98.0 431.1,89.2 431.2,78.7 431.3,69.0 431.5,63.1 431.6,57.7 431.8,54.4 431.9,52.0 432.0,50.0 432.2,47.5 432.3,45.5 432.5,44.1 432.6,42.4 432.7,40.8 432.9,39.6 433.0,39.0 433.2,37.2 433.3,36.3 433.5,35.5 433.6,34.5 433.7,34.0 433.9,33.3 434.0,33.1 434.2,31.6 434.3,31.4 434.4,31.2 434.6,30.1 434.7,30.0 434.9,30.1 435.0,29.4 435.1,29.5 435.3,28.8 435.4,28.7 435.6,28.6 435.7,28.3 435.9,28.0 436.0,27.7 436.1,28.2 436.3,27.3 436.4,27.3 436.6,27.0 436.7,26.8 436.8,27.1 437.0,26.3 437.1,26.5 437.3,26.7 437.4,26.4 437.5,26.6 437.7,26.1 437.8,26.4 438.0,25.9 438.1,26.2 438.3,26.1 438.4,26.1 438.5,26.6 438.7,26.8 438.8,26.7 439.0,26.6 439.1,26.9 439.2,27.1 439.4,27.2 439.5,27.1 439.7,27.5 439.8,27.7 439.9,28.4 440.1,27.9 440.2,28.1 440.4,28.3 440.5,28.2 440.7,28.6 440.8,29.1 440.9,29.0 441.1,29.1 441.2,29.0 441.4,30.1 441.5,29.7 441.6,29.7 441.8,29.9 441.9,30.2 442.1,30.7 442.2,30.2 442.3,30.8 442.5,30.7 442.6,30.8 442.8,31.1 442.9,31.1 443.1,31.7 443.2,31.5 443.3,31.8 443.5,31.7 443.6,32.1 443.8,32.5 443.9,32.1 444.0,33.0 444.2,33.4 444.3,32.9 444.5,33.4 444.6,33.7 444.7,33.1 444.9,34.0 445.0,33.8 445.2,33.9 445.3,34.6 445.5,34.5 445.6,35.1 445.7,35.2 445.9,34.8 446.0,35.2 446.2,34.9 446.3,35.1 446.4,35.6 446.6,35.5 446.7,35.8 446.9,35.7 447.0,36.3 447.1,35.9 447.3,36.3 447.4,36.1 447.6,36.5 447.7,36.7 447.9,37.2 448.0,37.1 448.1,37.4 448.3,37.8 448.4,37.7 448.6,37.5 448.7,37.8 448.8,37.7 449.0,38.0 449.1,37.8 449.3,38.0 449.4,38.7 449.5,38.5 449.7,38.4 449.8,38.6 450.0,39.1 450.1,38.5 450.3,39.3 450.4,39.4 450.5,38.9 450.7,39.0 450.8,40.5 451.0,39.5 451.1,39.6 451.2,39.8 451.4,40.3 451.5,40.1 451.7,40.3 451.8,40.4 451.9,40.4 452.1,40.4 452.2,40.6 452.4,40.4 452.5,41.1 452.7,41.2 452.8,41.5 452.9,41.3 453.1,41.9 453.2,42.0 453.4,42.5 453.5,42.6 453.6,42.4 453.8,42.6 453.9,42.8 454.1,42.3 454.2,42.5 454.3,43.3 454.5,43.1 454.6,43.3 454.8,43.0 454.9,42.6 455.0,43.5 455.2,43.6 455.3,43.4 455.5,43.9 455.6,43.3 455.8,44.1 455.9,44.2 456.0,44.3 456.2,44.9 456.3,45.0 456.5,45.0 456.6,45.0 456.7,45.5 456.9,44.8 457.0,45.0 457.2,45.3 457.3,45.6 457.4,45.5 457.6,46.2 457.7,46.4 457.9,46.0 458.0,45.9 458.2,46.0 458.3,46.4 458.4,47.1 458.6,46.7 458.7,46.5 458.9,47.0 459.0,47.3 459.1,47.1 459.3,47.2 459.4,47.3 459.6,47.1 459.7,47.8 459.8,48.1 460.0,48.2 460.1,47.5 460.3,47.6 460.4,48.5 460.6,48.7 460.7,47.5 460.8,48.7 461.0,48.6 461.1,49.0 461.3,49.5 461.4,49.7 461.5,49.0 461.7,49.8 461.8,49.3 462.0,49.6 462.1,50.0 462.2,49.4 462.4,50.4 462.5,50.3 462.7,50.7 462.8,50.2 463.0,49.9 463.1,50.7 463.2,50.6 463.4,50.3 463.5,51.0 463.7,51.2 463.8,51.0 463.9,51.0 464.1,52.1 464.2,51.7 464.4,52.1 464.5,52.1 464.6,51.9 464.8,51.6 464.9,52.1 465.1,52.0 465.2,52.9 465.4,51.9 465.5,52.4 465.6,53.2 465.8,53.1 465.9,52.5 466.1,53.2 466.2,53.3 466.3,53.1 466.5,52.9 466.6,53.4 466.8,53.0 466.9,54.1 467.0,53.7 467.2,54.6 467.3,53.4 467.5,54.2 467.6,54.3 467.8,54.0 467.9,54.5 468.0,54.4 468.2,54.9 468.3,54.7 468.5,55.1 468.6,55.3 468.7,55.1 468.9,55.4 469.0,56.0 469.2,55.4 469.3,56.1 469.4,56.2 469.6,56.2 469.7,56.1 469.9,56.2 470.0,56.5 470.2,56.5 470.3,56.7 470.4,57.3 470.6,56.6 470.7,57.2 470.9,57.2 471.0,57.4 471.1,57.5 471.3,57.6 471.4,58.0 471.6,58.4 471.7,57.8 471.8,57.8 472.0,58.0 472.1,57.4 472.3,57.8 472.4,58.7 472.6,58.1 472.7,58.7 472.8,58.3 473.0,57.3 473.1,58.7 473.3,59.0 473.4,59.1 473.5,58.8 473.7,59.0 473.8,58.9 474.0,59.1 474.1,60.4 474.2,59.8 474.4,59.1 474.5,59.9 474.7,60.7 474.8,60.0 475.0,61.0 475.1,60.3 475.2,59.6 475.4,61.2 475.5,61.5 475.7,60.9 475.8,60.5 475.9,60.8 476.1,61.4 476.2,61.7 476.4,61.7 476.5,62.2 476.6,61.3 476.8,62.6 476.9,60.7 477.1,61.6 477.2,62.9 477.4,62.9 477.5,62.5 477.6,62.1 477.8,62.8 477.9,62.8 478.1,62.5 478.2,62.7 478.3,63.2 478.5,63.5 478.6,63.8 478.8,63.4 478.9,63.1 479.0,63.8 479.2,63.9 479.3,64.3 479.5,62.9 479.6,64.0 479.8,64.3 479.9,64.1 480.0,64.7 480.2,64.1 480.3,63.9 480.5,64.1 480.6,65.0 480.7,64.5 480.9,65.1 481.0,65.3 481.2,65.2 481.3,65.4 481.4,65.9 481.6,65.3 481.7,65.4 481.9,66.0 482.0,65.6 482.2,66.2 482.3,66.2 482.4,66.2 482.6,65.6 482.7,65.9 482.9,65.4 483.0,66.6 483.1,66.8 483.3,67.7 483.4,66.6 483.6,66.7 483.7,66.7 483.8,67.1 484.0,67.1 484.1,66.3 484.3,67.0 484.4,67.6 484.6,67.2 484.7,67.8 484.8,68.0 485.0,66.8 485.1,68.5 485.3,68.4 485.4,69.3 485.5,68.6 485.7,68.5 485.8,69.1 486.0,67.9 486.1,68.6 486.2,69.1 486.4,68.7 486.5,69.2 486.7,69.4 486.8,70.2 487.0,68.8 487.1,69.5 487.2,70.4 487.4,69.9 487.5,69.1 487.7,69.9 487.8,70.4 487.9,70.5 488.1,70.5 488.2,70.8 488.4,70.9 488.5,70.3 488.6,70.2 488.8,71.7 488.9,70.8 489.1,71.2 489.2,70.8 489.4,71.6 489.5,72.0 489.6,70.9 489.8,71.6 489.9,71.7 490.1,71.1 490.2,71.6 490.3,71.7 490.5,71.3 490.6,71.8 490.8,72.3 490.9,73.0 491.0,72.4 491.2,72.7 491.3,72.8 491.5,72.4 491.6,73.3 491.8,73.3 491.9,73.5 492.0,73.3 492.2,73.8 492.3,73.7 492.5,73.7 492.6,73.4 492.7,73.0 492.9,73.9 493.0,74.1 493.2,73.4 493.3,73.7 493.4,73.4 493.6,74.0 493.7,73.8 493.9,74.5 494.0,75.5 494.2,75.1 494.3,74.0 494.4,75.2 494.6,74.5 494.7,74.5 494.9,75.0 495.0,74.1 495.1,75.2 495.3,75.7 495.4,74.3 495.6,75.1 495.7,75.4 495.8,76.7 496.0,76.7 496.1,76.7 496.3,75.7 496.4,76.8 496.6,76.2 496.7,75.4 496.8,76.9 497.0,76.6 497.1,76.5 497.3,77.3 497.4,77.4 497.5,77.3 497.7,77.1 497.8,76.4 498.0,77.2 498.1,77.0 498.2,77.5 498.4,77.2 498.5,78.7 498.7,78.8 498.8,77.8 499.0,78.2 499.1,78.1 499.2,77.6 499.4,78.7 499.5,79.5 499.7,78.7 499.8,78.9 499.9,78.2 500.1,79.3 500.2,79.2 500.4,79.4 500.5,78.7 500.6,78.9 500.8,79.4 500.9,79.8 501.1,79.7 501.2,80.7 501.4,79.1 501.5,79.4 501.6,80.7 501.8,81.0 501.9,80.2 502.1,79.6 502.2,79.8 502.3,80.9 502.5,80.4 502.6,80.2 502.8,79.8 502.9,81.2 503.0,81.9 503.2,80.7 503.3,81.1 503.5,80.6 503.6,81.3 503.8,81.3 503.9,81.3 504.0,81.5 504.2,81.5 504.3,81.1 504.5,83.0 504.6,82.5 504.7,81.9 504.9,81.2 505.0,83.3 505.2,82.7 505.3,82.8 505.4,82.1 505.6,82.0 505.7,83.1 505.9,82.6 506.0,83.0 506.2,82.9 506.3,83.6 506.4,82.6 506.6,83.8 506.7,83.5 506.9,84.3 507.0,84.6 507.1,84.7 507.3,84.1 507.4,84.3 507.6,83.4 507.7,84.1 507.8,83.8 508.0,84.7 508.1,85.4 508.3,84.7 508.4,85.6 508.6,84.5 508.7,84.7 508.8,85.0 509.0,84.3 509.1,85.1 509.3,86.1 509.4,85.1 509.5,85.6 509.7,85.5 509.8,85.2 510.0,85.8 510.1,86.3 510.2,86.0 510.4,85.6 510.5,85.4 510.7,86.4 510.8,85.8 511.0,85.7 511.1,85.7 511.2,85.1 511.4,85.5 511.5,87.0 511.7,86.7 511.8,86.6 511.9,86.5 512.1,87.2 512.2,87.2 512.4,87.8 512.5,88.1 512.6,87.8 512.8,87.0 512.9,87.8 513.1,88.1 513.2,87.6 513.4,87.3 513.5,88.3 513.6,88.5 513.8,87.9 513.9,88.3 514.1,88.2 514.2,87.6 514.3,88.9 514.5,88.5 514.6,88.9 514.8,88.3 514.9,87.4 515.0,90.1 515.2,89.1 515.3,89.7 515.5,89.1 515.6,89.7 515.8,89.9 515.9,88.8 516.0,89.0 516.2,90.3 516.3,88.3 516.5,90.6 516.6,89.1 516.7,89.7 516.9,90.2 517.0,89.9 517.2,91.3 517.3,89.4 517.4,90.0 517.6,91.1 517.7,91.8 517.9,91.6 518.0,89.5 518.2,91.7 518.3,92.3 518.4,92.1 518.6,91.4 518.7,90.7 518.9,92.4 519.0,91.2 519.1,90.9 519.3,92.7 519.4,92.2 519.6,93.0 519.7,91.8 519.8,93.3 520.0,92.5 520.1,92.7 520.3,92.9 520.4,92.1 520.6,92.8 520.7,93.9 520.8,94.1 521.0,93.1 521.1,93.4 521.3,93.4 521.4,93.8 521.5,93.1 521.7,93.9 521.8,93.0 522.0,94.0 522.1,94.0 522.2,93.0 522.4,95.7 522.5,94.4 522.7,93.7 522.8,94.8 523.0,93.6 523.1,94.4 523.2,95.5 523.4,94.1 523.5,96.0 523.7,93.7 523.8,95.3 523.9,95.0 524.1,96.1 524.2,95.9 524.4,95.3 524.5,94.6 524.6,96.4 524.8,95.2 524.9,94.9 525.1,95.0 525.2,96.0 525.4,96.6 525.5,94.2 525.6,95.3 525.8,96.0 525.9,96.4 526.1,96.8 526.2,96.1 526.3,97.3 526.5,95.8 526.6,97.3 526.8,96.1 526.9,96.8 527.0,95.7 527.2,96.7 527.3,97.8 527.5,98.2 527.6,96.7 527.8,96.7 527.9,98.0 528.0,97.7 528.2,98.1 528.3,98.3 528.5,97.9 528.6,97.8 528.7,98.5 528.9,97.8 529.0,98.2 529.2,98.8 529.3,98.3 529.4,97.9 529.6,98.7 529.7,98.2 529.9,100.8 530.0,99.3 530.2,98.1 530.3,98.6 530.4,100.3 530.6,98.7 530.7,99.7 530.9,99.5 531.0,99.8 531.1,99.0 531.3,99.9 531.4,98.9 531.6,99.4 531.7,100.7 531.8,100.7 532.0,100.6 532.1,99.1 532.3,101.2 532.4,99.4 532.6,100.8 532.7,101.0 532.8,99.5 533.0,100.6 533.1,101.1 533.3,101.8 533.4,102.1 533.5,101.0 533.7,102.2 533.8,100.8 534.0,101.4 534.1,101.4 534.2,103.7 534.4,101.1 534.5,102.2 534.7,102.8 534.8,102.8 535.0,101.0 535.1,102.3 535.2,102.0 535.4,102.6 535.5,103.9 535.7,103.3 535.8,101.5 535.9,103.6 536.1,102.4 536.2,103.8 536.4,104.2 536.5,103.9 536.6,102.8 536.8,103.1 536.9,103.9 537.1,104.9 537.2,103.7 537.4,104.5 537.5,104.8 537.6,102.7 537.8,106.1 537.9,105.6 538.1,105.0 538.2,103.7 538.3,103.9 538.5,105.7 538.6,104.8 538.8,103.8 538.9,104.8 539.0,104.8 539.2,105.5 539.3,104.8 539.5,106.2 539.6,107.4 539.8,105.8 539.9,104.1 540.0,105.6 540.2,105.6 540.3,105.1 540.5,107.0 540.6,105.8 540.7,108.5 540.9,106.6 541.0,106.3 541.2,106.7 541.3,106.9 541.4,107.1 541.6,106.4 541.7,107.3 541.9,106.0 542.0,106.7 542.2,107.3 542.3,107.0 542.4,108.2 542.6,108.2 542.7,106.6 542.9,106.8 543.0,107.3 543.1,107.2 543.3,107.8 543.4,107.2 543.6,108.4 543.7,107.3 543.8,108.8 544.0,106.9 544.1,109.2 544.3,110.7 544.4,108.8 544.6,110.9 544.7,108.4 544.8,108.8 545.0,108.5 545.1,109.1 545.3,109.9 545.4,109.2 545.5,109.1 545.7,110.4 545.8,109.2 546.0,109.7 546.1,109.9 546.2,107.7 546.4,109.3 546.5,112.1 546.7,109.6 546.8,110.6 547.0,110.9 547.1,110.4 547.2,110.5 547.4,109.9 547.5,109.3 547.7,110.9 547.8,110.9 547.9,109.5 548.1,109.1 548.2,110.5 548.4,111.2 548.5,111.4 548.6,111.2 548.8,110.6 548.9,111.6 549.1,110.6 549.2,110.9 549.4,111.4 549.5,114.1 549.6,112.3 549.8,111.4 549.9,109.6 550.1,110.5 550.2,112.7 550.3,112.1 550.5,111.1 550.6,112.1 550.8,111.3 550.9,114.5 551.0,112.4 551.2,115.6 551.3,114.3 551.5,112.8 551.6,112.0 551.8,113.3 551.9,114.0 552.0,114.1 552.2,113.3 552.3,114.0 552.5,114.0 552.6,114.9 552.7,114.1 552.9,115.3 553.0,115.0 553.2,113.0 553.3,112.3 553.4,113.6 553.6,114.2 553.7,113.8 553.9,113.1 554.0,113.6 554.2,114.6 554.3,113.7 554.4,114.3 554.6,115.6 554.7,113.4 554.9,114.7 555.0,114.1 555.1,115.5 555.3,116.5 555.4,113.4 555.6,114.7 555.7,115.8 555.8,115.0 556.0,114.8 556.1,117.0 556.3,113.8 556.4,116.9 556.6,114.8 556.7,115.8 556.8,117.1 557.0,117.6 557.1,116.9 557.3,117.2 557.4,117.3 557.5,117.4 557.7,117.2 557.8,117.8 558.0,118.2 558.1,115.4 558.2,116.2 558.4,117.9 558.5,117.3 558.7,116.1 558.8,117.5 559.0,116.8 559.1,116.3 559.2,116.3 559.4,116.1 559.5,115.9 559.7,115.6 559.8,118.6 559.9,116.7 560.1,119.8 560.2,117.6 560.4,119.4 560.5,117.1 560.6,117.6 560.8,117.4 560.9,117.7 561.1,119.2 561.2,117.7 561.4,118.8 561.5,120.1 561.6,118.2 561.8,121.0 561.9,118.2 562.1,117.9 562.2,119.6 562.3,119.1 562.5,119.6 562.6,119.6 562.8,119.8 562.9,121.0 563.0,120.7 563.2,119.8 563.3,119.9 563.5,119.3 563.6,121.0 563.8,119.9 563.9,122.3 564.0,120.3 564.2,124.1 564.3,120.4 564.5,119.0 564.6,120.0 564.7,123.9 564.9,121.6 565.0,122.9 565.2,119.5 565.3,122.9 565.4,121.8 565.6,120.2 565.7,123.8 565.9,121.8 566.0,121.5 566.2,122.3 566.3,121.4 566.4,123.1 566.6,122.8 566.7,121.5 566.9,123.1 567.0,121.6 567.1,123.3 567.3,122.6 567.4,124.2 567.6,122.0 567.7,124.2 567.8,123.7 568.0,121.4 568.1,122.4 568.3,122.2 568.4,122.0 568.6,125.0 568.7,122.6 568.8,122.9 569.0,123.5 569.1,123.1 569.3,123.5 569.4,120.4 569.5,124.1 569.7,124.9 569.8,123.9 570.0,125.3 570.1,123.8 570.2,120.8 570.4,122.7 570.5,123.5 570.7,121.2 570.8,126.1 571.0,124.2 571.1,124.3 571.2,126.4 571.4,125.0 571.5,125.1 571.7,124.1 571.8,125.3 571.9,125.0 572.1,125.2 572.2,125.3 572.4,125.5 572.5,124.4 572.6,126.0 572.8,125.4 572.9,124.9 573.1,126.0 573.2,124.9 573.4,123.4 573.5,126.0 573.6,126.0 573.8,125.3 573.9,126.2 574.1,126.3 574.2,125.7 574.3,126.8 574.5,128.4 574.6,130.4 574.8,128.0 574.9,127.0 575.0,125.9 575.2,125.9 575.3,125.9 575.5,128.3 575.6,125.5 575.8,124.4 575.9,126.9 576.0,129.6 576.2,126.0 576.3,128.1 576.5,124.2 576.6,125.7 576.7,127.4 576.9,126.0 577.0,130.0 577.2,126.7 577.3,128.6 577.4,129.7 577.6,126.3 577.7,129.3 577.9,129.6 578.0,128.6 578.2,128.8 578.3,127.9 578.4,129.9 578.6,129.7 578.7,125.5 578.9,129.8 579.0,128.5 579.1,128.5 579.3,130.7 579.4,133.5 579.6,128.5 579.7,129.3 579.8,127.6 580.0,133.5 580.1,129.4 580.3,129.5 580.4,129.6 580.6,131.5 580.7,128.3 580.8,127.9 581.0,129.7 581.1,132.8 581.3,128.1 581.4,130.4 581.5,131.3 581.7,129.1 581.8,130.8 582.0,130.2 582.1,131.2 582.2,128.5 582.4,131.4 582.5,129.1 582.7,132.1 582.8,133.6 583.0,131.9 583.1,130.9 583.2,129.4 583.4,131.0 583.5,134.0 583.7,132.1 583.8,131.5 583.9,130.9 584.1,131.8 584.2,133.1 584.4,132.9 584.5,131.2 584.6,135.3 584.8,132.3 584.9,132.5 585.1,133.5 585.2,133.6 585.4,131.9 585.5,133.9 585.6,132.9 585.8,131.5 585.9,133.0 586.1,134.0 586.2,133.2 586.3,129.8 586.5,131.4 586.6,133.5 586.8,134.0 586.9,134.1 587.0,133.4 587.2,133.7 587.3,132.1 587.5,134.9 587.6,132.8 587.8,134.4 587.9,132.7 588.0,133.0 588.2,131.7 588.3,131.9 588.5,131.5 588.6,132.7 588.7,131.6 588.9,134.1 589.0,135.1 589.2,136.8 589.3,134.2 589.4,135.1 589.6,135.8 589.7,137.9 589.9,136.1 590.0,135.1 590.2,134.6 590.3,134.3 590.4,134.7 590.6,134.6 590.7,135.1 590.9,136.7 591.0,134.0 591.1,134.0 591.3,134.8 591.4,138.3 591.6,134.4 591.7,136.9 591.8,135.3 592.0,135.6 592.1,130.7 592.3,133.5 592.4,138.2 592.6,135.8 592.7,136.0 592.8,134.3 593.0,134.6 593.1,136.3 593.3,135.0 593.4,137.3 593.5,135.8 593.7,134.3 593.8,134.0 594.0,137.9 594.1,140.0 594.2,136.1 594.4,137.4 594.5,135.6 594.7,135.4 594.8,137.8 595.0,137.0 595.1,137.3 595.2,137.4 595.4,137.1 595.5,136.9 595.7,137.8 595.8,137.9 595.9,134.8 596.1,137.3 596.2,138.5 596.4,141.5 596.5,138.1 596.6,135.3 596.8,138.5 596.9,136.3 597.1,137.4 597.2,135.8 597.3,139.9 597.5,140.1 597.6,139.4 597.8,141.2 597.9,138.5 598.1,141.1 598.2,134.4 598.3,138.9 598.5,138.5 598.6,139.4 598.8,139.2 598.9,138.5 599.0,140.8 599.2,138.9 599.3,137.3 599.5,141.4 599.6,143.1 599.7,138.1 599.9,138.4 600.0,137.4 600.2,138.9 600.3,142.7 600.5,141.3 600.6,143.2 600.7,138.7 600.9,140.4 601.0,137.7 601.2,138.8 601.3,138.2 601.4,141.1 601.6,142.0 601.7,138.1 601.9,137.6 602.0,139.2 602.1,140.0 602.3,140.3 602.4,138.5 602.6,137.8 602.7,138.6 602.9,142.6 603.0,140.9 603.1,142.5 603.3,141.5 603.4,141.4 603.6,143.1 603.7,142.8 603.8,138.5 604.0,139.7 604.1,144.8 604.3,143.1 604.4,143.0 604.5,141.5 604.7,142.1 604.8,142.8 605.0,144.0 605.1,143.8 605.3,144.0 605.4,142.7 605.5,145.6 605.7,139.5 605.8,142.6 606.0,143.3 606.1,141.4 606.2,144.9 606.4,145.6 606.5,144.2 606.7,143.5 606.8,143.6 606.9,145.7 607.1,142.8 607.2,141.5 607.4,143.0 607.5,144.2 607.7,144.1 607.8,144.2 607.9,146.4 608.1,143.5 608.2,146.1 608.4,144.4 608.5,147.5 608.6,142.7 608.8,143.6 608.9,143.8 609.1,145.3 609.2,145.4 609.3,140.3 609.5,145.0 609.6,148.3 609.8,145.4 609.9,145.4 610.1,141.9 610.2,147.7 610.3,145.0 610.5,143.2 610.6,146.5 610.8,144.8 610.9,145.0 611.0,145.7 611.2,149.6 611.3,142.4 611.5,145.4 611.6,146.4 611.7,145.4 611.9,147.7 612.0,148.0 612.2,149.3 612.3,147.2 612.5,147.1 612.6,144.6 612.7,149.6 612.9,150.0 613.0,147.4 613.2,147.5 613.3,150.9 613.4,146.1 613.6,147.2 613.7,146.2 613.9,149.2 614.0,143.8 614.1,148.4 614.3,149.5 614.4,145.8 614.6,147.8 614.7,146.1 614.9,148.0 615.0,148.1 615.1,148.7 615.3,145.0 615.4,148.6 615.6,150.3 615.7,150.3 615.8,156.0 616.0,148.0 616.1,148.4 616.3,146.7 616.4,146.5 616.5,146.8 616.7,148.3 616.8,148.4 617.0,149.6 617.1,145.7 617.3,150.3 617.4,146.7 617.5,149.5 617.7,147.0 617.8,149.8 618.0,146.1 618.1,148.9 618.2,150.8 618.4,149.6 618.5,150.3 618.7,150.6 618.8,148.6 618.9,148.1 619.1,152.3 619.2,151.6 619.4,146.8 619.5,145.2 619.7,148.4 619.8,148.9 619.9,149.5 620.1,147.8 620.2,150.4 620.4,151.8 620.5,150.3 620.6,149.0 620.8,150.4 620.9,153.2 621.1,149.5 621.2,145.7 621.3,150.4 621.5,150.3 621.6,149.6 621.8,149.2 621.9,148.3 622.1,150.3 622.2,147.4 622.3,156.0 622.5,152.5 622.6,150.1 622.8,149.2 622.9,153.7 623.0,153.9 623.2,149.2 623.3,148.9 623.5,151.4 623.6,157.2 623.7,149.5 623.9,148.6 624.0,151.9 624.2,149.5 624.3,154.1 624.5,154.6 624.6,153.0 624.7,153.3 624.9,152.3 625.0,148.1 625.2,154.4 625.3,150.6 625.4,153.0 625.6,153.0 625.7,155.2 625.9,155.6 626.0,151.6 626.1,153.3 626.3,153.0 626.4,151.3 626.6,151.6 626.7,153.3 626.9,149.3 627.0,152.5 627.1,154.4 627.3,151.8 627.4,154.6 627.6,151.8 627.7,153.5 627.8,150.3 628.0,155.6 628.1,154.3 628.3,152.1 628.4,155.6 628.5,156.8 628.7,155.0 628.8,155.6 629.0,154.3 629.1,152.5 629.3,154.4 629.4,158.9 629.5,157.8 629.7,154.1 629.8,153.7 630.0,156.2 630.1,151.3 630.2,153.9 630.4,159.3 630.5,154.8 630.7,153.2 630.8,155.8 630.9,152.1 631.1,155.8 631.2,157.2 631.4,156.6 631.5,154.3 631.7,157.2 631.8,157.0 631.9,155.8 632.1,153.9 632.2,158.0 632.4,151.9 632.5,155.4 632.6,154.1 632.8,156.6 632.9,155.0 633.1,156.8 633.2,158.0 633.3,161.7 633.5,160.2 633.6,155.6 633.8,155.2 633.9,158.7 634.1,152.5 634.2,158.0 634.3,160.5 634.5,156.0 634.6,157.6 634.8,156.4 634.9,154.4 635.0,156.4 635.2,153.2 635.3,156.2 635.5,154.8 635.6,157.4 635.7,157.2 635.9,157.6 636.0,161.9 636.2,162.6 636.3,159.6 636.5,156.8 636.6,157.8 636.7,160.0 636.9,155.8 637.0,159.3 637.2,156.0 637.3,158.2 637.4,157.8 637.6,161.4 637.7,155.2 637.9,156.4 638.0,160.0 638.1,158.7 638.3,154.6 638.4,159.3 638.6,158.5 638.7,157.4 638.9,159.8 639.0,162.1 639.1,158.9 639.3,160.5 639.4,158.5 639.6,157.8 639.7,160.2 639.8,160.0 640.0,160.2 640.1,160.0 640.3,158.2 640.4,161.4 640.5,159.6 640.7,162.1 640.8,158.0 641.0,160.9 641.1,163.1 641.3,163.4 641.4,155.8 641.5,161.2 641.7,157.2 641.8,162.1 642.0,156.2 642.1,160.5 642.2,159.3 642.4,162.4 642.5,159.3 642.7,158.0 642.8,159.8 642.9,158.2 643.1,163.9 643.2,161.9 643.4,163.4 643.5,161.7 643.7,163.4 643.8,160.2 643.9,163.1 644.1,164.7 644.2,163.1 644.4,160.5 644.5,159.6 644.6,165.8 644.8,160.0 644.9,157.8 645.1,159.6 645.2,159.6 645.3,160.7 645.5,158.7 645.6,158.9 645.8,160.2 645.9,159.6 646.1,159.1 646.2,161.7 646.3,159.6 646.5,158.9 646.6,160.0 646.8,159.8 646.9,162.9 647.0,163.7 647.2,162.6 647.3,167.3 647.5,162.4 647.6,160.0 647.7,159.8 647.9,157.8 648.0,161.4 648.2,167.6 648.3,161.2 648.5,165.3 648.6,165.8 648.7,160.9 648.9,163.7 649.0,160.0 649.2,163.4 649.3,165.3 649.4,161.9 649.6,165.5 649.7,164.7 649.9,162.6 650.0,164.2 650.1,163.7 650.3,163.9 650.4,166.1 650.6,163.1 650.7,165.0 650.9,164.7 651.0,169.1 651.1,171.4 651.3,161.7 651.4,161.4 651.6,163.1 651.7,167.9 651.8,165.0 652.0,165.0 652.1,163.1 652.3,163.1 652.4,160.0 652.5,162.6 652.7,164.5 652.8,165.8 653.0,165.0 653.1,165.8 653.3,165.8 653.4,162.4 653.5,165.8 653.7,165.0 653.8,165.3 654.0,165.3 654.1,161.2 654.2,164.7 654.4,168.8 654.5,163.1 654.7,163.4 654.8,164.5 654.9,165.0 655.1,166.4 655.2,159.6 655.4,169.7 655.5,168.5 655.7,168.2 655.8,166.1 655.9,164.7 656.1,171.8 656.2,170.1 656.4,166.1 656.5,164.7 656.6,160.5 656.8,166.4 656.9,163.7 657.1,172.8 657.2,167.9 657.3,166.1 657.5,167.3 657.6,170.7 657.8,167.3 657.9,168.2 658.1,167.9 658.2,161.7 658.3,171.1 658.5,164.7 658.6,166.4 658.8,167.6 658.9,171.1 659.0,167.9 659.2,167.3 659.3,166.1 659.5,169.1 659.6,163.7 659.7,171.4 659.9,163.7 660.0,166.1 660.2,165.8 660.3,169.1 660.5,165.0 660.6,166.7 660.7,166.4 660.9,165.3 661.0,170.1 661.2,165.0 661.3,167.0 661.4,169.7 661.6,167.0 661.7,164.5 661.9,164.7 662.0,171.8 662.1,165.3 662.3,166.7 662.4,164.5 662.6,172.1 662.7,164.7 662.9,165.0 663.0,164.7 663.1,165.0 663.3,167.9 663.4,171.8 663.6,169.1 663.7,171.1 663.8,172.8 664.0,167.3 664.1,164.5 664.3,164.2 664.4,168.8 664.5,170.1 664.7,173.6 664.8,170.7 665.0,166.1 665.1,169.7 665.3,168.8 665.4,165.3 665.5,171.1 665.7,163.4 665.8,163.7 666.0,169.7 666.1,167.3"/>
</g>
<path d="M483.3,39.1H510.5" stroke="#000" stroke-width="1.3"/>
<path d="M483.3,53.35H510.5" stroke="#f00" stroke-width="1.3"/>
<text class="lg" x="513.6" y="43.0">DOPC/Chol/SM (75/25/0)</text>
<text class="lg" x="513.6" y="57.1">DOPC/Chol/SM (65/25/10)</text>
<text class="ti" x="526.3" y="10.1" text-anchor="middle">g- and r-GM1</text>
<g stroke="#000" stroke-width="1.7" fill="none" stroke-linecap="butt">
<rect x="61.2" y="246.0" width="282.30" height="197.15"/>
<path stroke-width="1.4" d="M61.20,443.15v4.4 M84.72,443.15v2.4 M108.25,443.15v4.4 M131.78,443.15v2.4 M155.30,443.15v4.4 M178.82,443.15v2.4 M202.35,443.15v4.4 M225.88,443.15v2.4 M249.40,443.15v4.4 M272.93,443.15v2.4 M296.45,443.15v4.4 M319.97,443.15v2.4 M343.50,443.15v4.4 M61.2,443.15h-4.8 M61.2,423.85h-2.6 M61.2,412.57h-2.6 M61.2,404.56h-2.6 M61.2,398.35h-2.6 M61.2,393.27h-2.6 M61.2,388.98h-2.6 M61.2,385.26h-2.6 M61.2,381.98h-2.6 M61.2,379.05h-4.8 M61.2,359.75h-2.6 M61.2,348.47h-2.6 M61.2,340.46h-2.6 M61.2,334.25h-2.6 M61.2,329.17h-2.6 M61.2,324.88h-2.6 M61.2,321.16h-2.6 M61.2,317.88h-2.6 M61.2,314.95h-4.8 M61.2,295.65h-2.6 M61.2,284.37h-2.6 M61.2,276.36h-2.6 M61.2,270.15h-2.6 M61.2,265.07h-2.6 M61.2,260.78h-2.6 M61.2,257.06h-2.6 M61.2,253.78h-2.6 M61.2,250.85h-4.8"/>
</g>
<g clip-path="url(#cBL)" fill="none" stroke-width="1.2" stroke-linejoin="round">
<polyline stroke="#000" points="61.2,434.2 61.3,441.9 61.5,443.1 61.6,434.6 61.8,438.7 61.9,434.9 62.0,443.1 62.2,443.1 62.3,426.5 62.5,443.1 62.6,437.7 62.8,427.9 62.9,443.1 63.0,432.1 63.2,436.9 63.3,438.8 63.5,435.3 63.6,443.1 63.7,443.1 63.9,424.7 64.0,440.1 64.2,430.8 64.3,429.3 64.4,435.1 64.6,433.8 64.7,432.0 64.9,426.5 65.0,433.6 65.2,428.4 65.3,440.1 65.4,441.4 65.6,436.8 65.7,434.3 65.9,433.2 66.0,424.4 66.1,431.1 66.3,436.9 66.4,424.2 66.6,434.8 66.7,434.6 66.8,433.6 67.0,440.5 67.1,443.1 67.3,436.4 67.4,440.3 67.6,443.1 67.7,436.5 67.8,439.2 68.0,443.1 68.1,443.1 68.3,439.0 68.4,425.5 68.5,430.8 68.7,429.5 68.8,437.7 69.0,429.7 69.1,443.1 69.2,441.7 69.4,433.4 69.5,443.1 69.7,437.0 69.8,435.0 70.0,425.8 70.1,443.1 70.2,434.1 70.4,443.1 70.5,442.6 70.7,443.1 70.8,443.1 70.9,429.0 71.1,433.4 71.2,436.2 71.4,421.8 71.5,433.2 71.7,443.1 71.8,439.3 71.9,438.0 72.1,426.3 72.2,443.1 72.4,434.1 72.5,430.2 72.6,443.1 72.8,436.7 72.9,443.1 73.1,436.6 73.2,443.1 73.3,441.0 73.5,425.7 73.6,434.2 73.8,437.0 73.9,436.2 74.1,423.3 74.2,433.1 74.3,429.7 74.5,441.5 74.6,441.4 74.8,443.1 74.9,439.0 75.0,443.1 75.2,430.1 75.3,432.4 75.5,438.5 75.6,442.5 75.7,443.1 75.9,443.0 76.0,435.0 76.2,432.3 76.3,443.1 76.5,443.1 76.6,436.1 76.7,443.1 76.9,439.4 77.0,441.8 77.2,432.8 77.3,443.1 77.4,442.8 77.6,430.4 77.7,435.7 77.9,443.1 78.0,433.8 78.1,435.1 78.3,443.1 78.4,432.1 78.6,432.2 78.7,438.6 78.9,430.4 79.0,443.1 79.1,431.6 79.3,439.1 79.4,443.1 79.6,443.1 79.7,428.9 79.8,442.7 80.0,440.6 80.1,443.1 80.3,443.1 80.4,430.3 80.5,423.0 80.7,427.9 80.8,433.4 81.0,431.6 81.1,440.6 81.3,442.0 81.4,443.1 81.5,427.3 81.7,440.5 81.8,443.1 82.0,443.1 82.1,435.9 82.2,442.6 82.4,437.3 82.5,436.1 82.7,427.9 82.8,443.1 82.9,435.0 83.1,443.1 83.2,441.4 83.4,426.2 83.5,432.6 83.7,441.0 83.8,433.5 83.9,437.6 84.1,429.3 84.2,441.9 84.4,433.5 84.5,439.3 84.6,437.3 84.8,438.8 84.9,443.1 85.1,436.5 85.2,430.1 85.3,443.1 85.5,440.9 85.6,434.5 85.8,443.1 85.9,430.8 86.1,432.0 86.2,443.1 86.3,443.1 86.5,443.1 86.6,431.1 86.8,430.4 86.9,443.1 87.0,443.1 87.2,438.1 87.3,440.8 87.5,431.9 87.6,430.1 87.7,432.8 87.9,429.4 88.0,430.4 88.2,438.0 88.3,441.4 88.5,443.1 88.6,431.2 88.7,430.7 88.9,429.9 89.0,440.3 89.2,440.9 89.3,435.2 89.4,428.4 89.6,434.5 89.7,435.6 89.9,443.1 90.0,433.9 90.2,433.2 90.3,443.1 90.4,425.4 90.6,443.1 90.7,430.4 90.9,439.2 91.0,436.1 91.1,443.1 91.3,442.6 91.4,432.0 91.6,439.1 91.7,440.5 91.8,430.7 92.0,431.9 92.1,436.0 92.3,435.5 92.4,425.6 92.6,438.8 92.7,434.3 92.8,434.0 93.0,443.1 93.1,443.1 93.3,436.3 93.4,430.8 93.5,435.7 93.7,442.3 93.8,443.1 94.0,431.2 94.1,440.0 94.2,443.1 94.4,432.1 94.5,435.4 94.7,434.3 94.8,429.7 95.0,427.9 95.1,433.0 95.2,438.9 95.4,443.1 95.5,435.0 95.7,438.7 95.8,428.0 95.9,428.2 96.1,433.6 96.2,427.7 96.4,438.0 96.5,437.7 96.6,443.1 96.8,439.9 96.9,435.4 97.1,429.3 97.2,443.1 97.4,430.8 97.5,421.9 97.6,443.1 97.8,438.6 97.9,436.1 98.1,428.9 98.2,423.2 98.3,427.3 98.5,435.9 98.6,443.1 98.8,435.7 98.9,435.4 99.0,433.0 99.2,442.8 99.3,424.6 99.5,440.5 99.6,429.2 99.8,432.2 99.9,443.1 100.0,432.9 100.2,433.0 100.3,434.4 100.5,427.3 100.6,436.3 100.7,418.0 100.9,424.9 101.0,439.4 101.2,443.1 101.3,423.6 101.4,429.5 101.6,430.4 101.7,438.7 101.9,443.1 102.0,443.1 102.2,416.5 102.3,420.7 102.4,434.0 102.6,419.2 102.7,443.1 102.9,425.1 103.0,424.9 103.1,435.8 103.3,432.4 103.4,437.1 103.6,428.6 103.7,421.2 103.8,422.8 104.0,425.9 104.1,421.9 104.3,443.1 104.4,417.3 104.6,428.4 104.7,438.2 104.8,430.4 105.0,432.1 105.1,426.8 105.3,425.3 105.4,443.1 105.5,419.7 105.7,417.3 105.8,433.5 106.0,418.0 106.1,418.7 106.2,419.6 106.4,416.4 106.5,434.1 106.7,419.9 106.8,430.0 107.0,411.9 107.1,428.4 107.2,429.5 107.4,414.6"/>
<polyline stroke="#000" points="115.3,251.2 115.4,250.8 115.6,251.4 115.7,251.0 115.9,250.9 116.0,251.0 116.1,251.0 116.3,251.3 116.4,251.6 116.6,251.7 116.7,251.6 116.8,251.5 117.0,251.8 117.1,251.7 117.3,252.1 117.4,252.3 117.5,252.5 117.7,253.0 117.8,252.8 118.0,253.3 118.1,253.3 118.3,253.0 118.4,253.8 118.5,253.7 118.7,253.8 118.8,254.0 119.0,254.2 119.1,254.5 119.2,254.2 119.4,255.2 119.5,255.2 119.7,254.8 119.8,255.2 119.9,255.7 120.1,255.9 120.2,256.0 120.4,255.6 120.5,256.2 120.7,256.7 120.8,256.7 120.9,257.1 121.1,256.8 121.2,257.3 121.4,257.3 121.5,257.7 121.6,257.5 121.8,258.1 121.9,258.3 122.1,258.8 122.2,258.9 122.3,258.9 122.5,259.3 122.6,258.8 122.8,259.6 122.9,259.9 123.1,259.7 123.2,260.3 123.3,260.2 123.5,260.5 123.6,260.9 123.8,260.6 123.9,261.1 124.0,261.1 124.2,261.6 124.3,262.0 124.5,262.2 124.6,262.2 124.7,262.3 124.9,262.4 125.0,262.5 125.2,263.1 125.3,263.0 125.5,263.5 125.6,263.6 125.7,263.0 125.9,263.5 126.0,264.1 126.2,263.8 126.3,264.0 126.4,264.4 126.6,264.4 126.7,265.0 126.9,265.2 127.0,265.6 127.2,265.4 127.3,266.0 127.4,266.0 127.6,266.0 127.7,266.4 127.9,266.4 128.0,266.2 128.1,267.1 128.3,266.7 128.4,267.4 128.6,267.7 128.7,267.6 128.8,267.6 129.0,268.2 129.1,268.4 129.3,268.5 129.4,268.8 129.6,268.7 129.7,269.1 129.8,269.2 130.0,269.2 130.1,269.6 130.3,269.4 130.4,270.1 130.5,270.3 130.7,269.7 130.8,270.1 131.0,270.6 131.1,270.6 131.2,270.9 131.4,271.3 131.5,271.2 131.7,271.5 131.8,271.4 132.0,272.5 132.1,271.9 132.2,272.3 132.4,272.7 132.5,272.8 132.7,273.0 132.8,273.4 132.9,273.4 133.1,273.2 133.2,274.1 133.4,273.9 133.5,274.7 133.6,274.3 133.8,274.3 133.9,274.6 134.1,274.7 134.2,275.3 134.4,274.9 134.5,275.6 134.6,275.2 134.8,275.6 134.9,276.0 135.1,275.6 135.2,276.3 135.3,276.1 135.5,276.6 135.6,276.8 135.8,276.7 135.9,277.0 136.0,277.3 136.2,277.5 136.3,277.6 136.5,277.8 136.6,278.2 136.8,278.6 136.9,279.2 137.0,278.6 137.2,278.9 137.3,278.6 137.5,279.0 137.6,279.0 137.7,279.0 137.9,279.7 138.0,280.1 138.2,279.8 138.3,280.4 138.4,280.5 138.6,280.1 138.7,280.6 138.9,280.6 139.0,281.6 139.2,281.3 139.3,281.1 139.4,282.1 139.6,281.8 139.7,281.9 139.9,283.0 140.0,281.9 140.1,282.8 140.3,282.8 140.4,282.4 140.6,283.7 140.7,283.2 140.8,283.6 141.0,283.7 141.1,284.1 141.3,283.6 141.4,284.6 141.6,284.3 141.7,284.4 141.8,284.8 142.0,285.0 142.1,285.2 142.3,284.9 142.4,285.3 142.5,285.7 142.7,286.2 142.8,285.9 143.0,286.0 143.1,286.4 143.2,286.0 143.4,287.4 143.5,286.0 143.7,287.1 143.8,287.7 144.0,288.1 144.1,287.3 144.2,287.6 144.4,288.0 144.5,288.1 144.7,288.2 144.8,288.6 144.9,288.2 145.1,288.6 145.2,289.1 145.4,289.8 145.5,288.8 145.6,289.7 145.8,290.1 145.9,289.4 146.1,289.9 146.2,291.0 146.4,291.1 146.5,290.7 146.6,291.3 146.8,291.0 146.9,290.1 147.1,290.2 147.2,291.5 147.3,291.3 147.5,291.5 147.6,292.0 147.8,292.7 147.9,291.9 148.1,292.6 148.2,292.5 148.3,292.6 148.5,293.4 148.6,292.5 148.8,293.3 148.9,293.5 149.0,293.9 149.2,293.6 149.3,293.7 149.5,294.5 149.6,294.2 149.7,294.8 149.9,295.3 150.0,295.1 150.2,294.9 150.3,295.1 150.5,295.0 150.6,295.9 150.7,295.9 150.9,295.9 151.0,295.9 151.2,296.4 151.3,296.9 151.4,297.3 151.6,296.3 151.7,296.5 151.9,297.5 152.0,296.7 152.1,297.5 152.3,297.5 152.4,297.3 152.6,298.2 152.7,298.5 152.9,299.2 153.0,298.4 153.1,298.5 153.3,298.5 153.4,298.8 153.6,299.2 153.7,298.9 153.8,300.0 154.0,299.6 154.1,299.7 154.3,300.1 154.4,299.5 154.5,300.2 154.7,300.0 154.8,300.3 155.0,301.0 155.1,300.2 155.3,300.8 155.4,301.4 155.5,301.7 155.7,302.3 155.8,302.0 156.0,302.2 156.1,302.2 156.2,302.7 156.4,302.3 156.5,302.8 156.7,303.7 156.8,303.4 156.9,303.7 157.1,304.1 157.2,303.8 157.4,303.4 157.5,304.5 157.7,305.1 157.8,304.4 157.9,303.0 158.1,304.9 158.2,304.7 158.4,305.2 158.5,304.7 158.6,304.6 158.8,305.6 158.9,305.0 159.1,306.4 159.2,305.9 159.3,306.8 159.5,306.2 159.6,306.8 159.8,306.5 159.9,307.4 160.1,306.9 160.2,307.1 160.3,307.6 160.5,307.9 160.6,308.3 160.8,308.0 160.9,307.8 161.0,308.2 161.2,308.2 161.3,307.8 161.5,308.8 161.6,308.6 161.7,308.5 161.9,308.9 162.0,309.1 162.2,309.4 162.3,308.6 162.5,309.8 162.6,310.2 162.7,309.8 162.9,309.4 163.0,309.7 163.2,310.6 163.3,310.3 163.4,310.7 163.6,311.1 163.7,310.9 163.9,311.1 164.0,311.5 164.1,310.8 164.3,312.1 164.4,311.3 164.6,311.1 164.7,311.2 164.9,312.4 165.0,312.8 165.1,313.8 165.3,313.1 165.4,311.9 165.6,314.3 165.7,314.5 165.8,313.2 166.0,313.5 166.1,315.1 166.3,314.2 166.4,314.2 166.6,315.5 166.7,314.1 166.8,315.7 167.0,314.4 167.1,315.1 167.3,315.8 167.4,316.5 167.5,315.9 167.7,315.9 167.8,316.1 168.0,316.5 168.1,316.4 168.2,316.0 168.4,317.2 168.5,316.9 168.7,316.7 168.8,317.1 169.0,316.8 169.1,316.5 169.2,317.8 169.4,317.6 169.5,319.9 169.7,318.3 169.8,317.8 169.9,319.1 170.1,317.7 170.2,320.0 170.4,318.0 170.5,319.4 170.6,319.9 170.8,319.7 170.9,319.7 171.1,320.4 171.2,320.8 171.4,320.4 171.5,319.6 171.6,320.1 171.8,319.6 171.9,321.1 172.1,321.1 172.2,321.2 172.3,321.0 172.5,321.0 172.6,320.3 172.8,321.1 172.9,321.7 173.0,321.0 173.2,322.6 173.3,323.2 173.5,322.0 173.6,322.5 173.8,322.7 173.9,322.3 174.0,323.3 174.2,323.3 174.3,323.1 174.5,323.1 174.6,323.0 174.7,323.8 174.9,323.8 175.0,325.9 175.2,323.5 175.3,325.6 175.4,324.7 175.6,323.0 175.7,325.2 175.9,326.3 176.0,324.1 176.2,325.8 176.3,325.7 176.4,325.9 176.6,325.4 176.7,325.5 176.9,326.3 177.0,325.6 177.1,327.2 177.3,326.2 177.4,327.3 177.6,326.5 177.7,327.7 177.8,327.6 178.0,326.4 178.1,328.5 178.3,328.7 178.4,327.5 178.6,328.3 178.7,328.6 178.8,328.5 179.0,327.0 179.1,329.5 179.3,329.1 179.4,328.9 179.5,329.9 179.7,329.4 179.8,329.1 180.0,330.4 180.1,329.0 180.2,330.9 180.4,330.2 180.5,330.0 180.7,328.0 180.8,332.0 181.0,330.5 181.1,329.0 181.2,331.5 181.4,330.4 181.5,331.2 181.7,332.7 181.8,331.4 181.9,332.6 182.1,331.9 182.2,333.4 182.4,331.7 182.5,334.5 182.6,332.7 182.8,331.7 182.9,332.5 183.1,333.4 183.2,333.4 183.4,333.7 183.5,331.3 183.6,333.7 183.8,333.9 183.9,334.6 184.1,334.6 184.2,333.8 184.3,335.0 184.5,335.3 184.6,335.2 184.8,335.2 184.9,334.9 185.1,335.7 185.2,335.5 185.3,336.2 185.5,334.6 185.6,335.8 185.8,336.3 185.9,335.9 186.0,336.3 186.2,337.9 186.3,336.8 186.5,335.3 186.6,336.5 186.7,336.0 186.9,337.8 187.0,338.7 187.2,338.2 187.3,336.5 187.5,338.7 187.6,338.7 187.7,337.1 187.9,338.5 188.0,338.6 188.2,338.2 188.3,338.7 188.4,339.2 188.6,338.8 188.7,339.9 188.9,339.4 189.0,338.9 189.1,340.7 189.3,340.0 189.4,341.1 189.6,339.4 189.7,339.7 189.9,339.5 190.0,339.6 190.1,339.7 190.3,340.2 190.4,341.8 190.6,340.3 190.7,342.2 190.8,339.3 191.0,341.3 191.1,341.2 191.3,343.1 191.4,341.0 191.5,341.1 191.7,344.0 191.8,343.1 192.0,343.1 192.1,343.5 192.3,341.6 192.4,341.0 192.5,344.4 192.7,342.4 192.8,343.8 193.0,342.3 193.1,346.5 193.2,344.5 193.4,342.9 193.5,345.1 193.7,343.3 193.8,345.1 193.9,343.6 194.1,344.3 194.2,345.5 194.4,346.0 194.5,345.5 194.7,344.3 194.8,345.7 194.9,346.5 195.1,342.6 195.2,347.8 195.4,346.5 195.5,345.8 195.6,347.7 195.8,346.7 195.9,347.3 196.1,348.6 196.2,346.6 196.3,348.5 196.5,348.3 196.6,346.3 196.8,349.0 196.9,347.2 197.1,346.7 197.2,347.1 197.3,347.8 197.5,348.7 197.6,350.2 197.8,348.6 197.9,348.4 198.0,349.6 198.2,350.3 198.3,348.4 198.5,350.7 198.6,349.1 198.7,350.3 198.9,351.9 199.0,348.3 199.2,349.5 199.3,349.8 199.5,352.2 199.6,350.8 199.7,350.5 199.9,351.9 200.0,349.2 200.2,353.7 200.3,350.6 200.4,353.9 200.6,353.6 200.7,353.4 200.9,351.3 201.0,353.0 201.1,353.1 201.3,353.6 201.4,354.4 201.6,353.8 201.7,354.1 201.9,353.4 202.0,353.7 202.1,356.4 202.3,354.3 202.4,352.2 202.6,354.4 202.7,354.0 202.8,355.0 203.0,355.1 203.1,354.5 203.3,356.3 203.4,354.9 203.6,357.0 203.7,354.5 203.8,357.2 204.0,354.4 204.1,354.1 204.3,357.7 204.4,354.8 204.5,356.4 204.7,354.5 204.8,356.8 205.0,356.7 205.1,356.8 205.2,355.0 205.4,359.4 205.5,355.9 205.7,356.9 205.8,357.8 206.0,357.6 206.1,356.2 206.2,356.5 206.4,355.6 206.5,358.8 206.7,360.7 206.8,358.9 206.9,358.6 207.1,359.1 207.2,357.0 207.4,355.8 207.5,358.4 207.6,361.6 207.8,357.8 207.9,360.2 208.1,359.4 208.2,358.5 208.4,359.2 208.5,360.0 208.6,359.6 208.8,359.1 208.9,359.4 209.1,357.7 209.2,365.2 209.3,361.9 209.5,361.7 209.6,359.9 209.8,360.9 209.9,360.1 210.0,363.6 210.2,361.9 210.3,360.8 210.5,361.9 210.6,362.6 210.8,361.8 210.9,360.0 211.0,365.7 211.2,360.3 211.3,362.3 211.5,364.2 211.6,362.0 211.7,363.1 211.9,361.5 212.0,364.7 212.2,362.2 212.3,365.1 212.4,363.4 212.6,363.0 212.7,364.2 212.9,363.3 213.0,365.3 213.2,363.0 213.3,365.5 213.4,365.9 213.6,365.1 213.7,365.2 213.9,366.6 214.0,364.2 214.1,365.7 214.3,364.7 214.4,368.2 214.6,368.1 214.7,366.5 214.8,367.8 215.0,366.6 215.1,365.6 215.3,364.9 215.4,364.5 215.6,365.7 215.7,368.2 215.8,366.3 216.0,368.2 216.1,366.6 216.3,369.4 216.4,365.6 216.5,367.2 216.7,368.5 216.8,370.5 217.0,367.8 217.1,369.3 217.2,368.1 217.4,369.9 217.5,369.7 217.7,367.9 217.8,366.7 218.0,371.4 218.1,369.7 218.2,368.9 218.4,369.9 218.5,370.5 218.7,366.5 218.8,371.5 218.9,369.6 219.1,371.2 219.2,370.6 219.4,374.8 219.5,369.2 219.6,371.2 219.8,372.7 219.9,368.4 220.1,371.8 220.2,372.5 220.4,373.1 220.5,369.9 220.6,371.8 220.8,372.5 220.9,374.5 221.1,373.9 221.2,371.7 221.3,372.5 221.5,376.5 221.6,374.4 221.8,372.5 221.9,368.5 222.1,374.6 222.2,377.7 222.3,372.1 222.5,374.5 222.6,376.2 222.8,372.8 222.9,374.4 223.0,375.9 223.2,376.8 223.3,374.6 223.5,374.3 223.6,378.2 223.7,373.0 223.9,377.4 224.0,372.5 224.2,374.5 224.3,375.7 224.5,374.8 224.6,376.7 224.7,375.8 224.9,372.8 225.0,377.1 225.2,374.6 225.3,378.0 225.4,376.4 225.6,374.7 225.7,379.1 225.9,376.1 226.0,381.5 226.1,379.4 226.3,378.0 226.4,375.6 226.6,376.0 226.7,379.4 226.9,377.9 227.0,377.4 227.1,381.3 227.3,377.2 227.4,375.6 227.6,375.9 227.7,379.7 227.8,379.4 228.0,380.7 228.1,379.9 228.3,379.5 228.4,377.7 228.5,379.1 228.7,381.3 228.8,377.8 229.0,377.8 229.1,381.0 229.3,380.4 229.4,380.2 229.5,383.8 229.7,380.0 229.8,379.0 230.0,376.7 230.1,380.2 230.2,381.4 230.4,381.2 230.5,379.8 230.7,379.5 230.8,383.2 230.9,381.0 231.1,380.2 231.2,386.4 231.4,379.0 231.5,382.4 231.7,380.2 231.8,382.3 231.9,382.8 232.1,382.6 232.2,381.9 232.4,380.8 232.5,383.4 232.6,385.5 232.8,384.7 232.9,385.5 233.1,381.7 233.2,385.7 233.3,380.3 233.5,383.4 233.6,384.0 233.8,381.1 233.9,384.9 234.1,384.9 234.2,382.6 234.3,382.8 234.5,387.0 234.6,379.5 234.8,383.5 234.9,388.0 235.0,385.5 235.2,383.1 235.3,384.8 235.5,383.5 235.6,380.5 235.7,383.5 235.9,381.4 236.0,384.3 236.2,387.7 236.3,382.8 236.5,388.0 236.6,384.2 236.7,385.0 236.9,388.7 237.0,388.5 237.2,387.3 237.3,386.0 237.4,384.0 237.6,387.0 237.7,383.0 237.9,385.4 238.0,389.2 238.1,389.2 238.3,387.6 238.4,389.2 238.6,388.3 238.7,386.3 238.9,387.6 239.0,386.0 239.1,390.3 239.3,390.9 239.4,392.5 239.6,393.8 239.7,390.1 239.8,388.9 240.0,389.7 240.1,389.3 240.3,384.6 240.4,392.5 240.6,390.4 240.7,391.1 240.8,392.3 241.0,386.7 241.1,390.2 241.3,387.2 241.4,393.5 241.5,386.0 241.7,385.2 241.8,393.1 242.0,390.9 242.1,391.3 242.2,389.6 242.4,394.9 242.5,390.1 242.7,389.5 242.8,393.2 243.0,398.5 243.1,393.6 243.2,392.9 243.4,390.0 243.5,393.8 243.7,395.5 243.8,390.7 243.9,391.4 244.1,390.6 244.2,392.5 244.4,390.0 244.5,391.5 244.6,398.4 244.8,392.6 244.9,391.2 245.1,393.2 245.2,389.6 245.4,394.9 245.5,391.8 245.6,397.5 245.8,393.9 245.9,395.6 246.1,397.1 246.2,398.2 246.3,393.7 246.5,393.3 246.6,396.5 246.8,398.5 246.9,397.5 247.0,392.8 247.2,398.8 247.3,392.0 247.5,400.6 247.6,394.6 247.8,393.6 247.9,392.2 248.0,397.0 248.2,398.2 248.3,400.5 248.5,393.5 248.6,396.5 248.7,397.7 248.9,397.6 249.0,395.7 249.2,396.5 249.3,393.3 249.4,404.2 249.6,394.5 249.7,398.7 249.9,397.4 250.0,398.2 250.2,397.6 250.3,395.2 250.4,396.9 250.6,402.5 250.7,398.0 250.9,398.2 251.0,396.8 251.1,398.0 251.3,398.4 251.4,395.3 251.6,402.0 251.7,392.4 251.8,400.4 252.0,402.2 252.1,396.5 252.3,395.7 252.4,395.3 252.6,394.9 252.7,397.8 252.8,399.2 253.0,398.3 253.1,399.6 253.3,401.5 253.4,395.0 253.5,394.5 253.7,400.0 253.8,400.9 254.0,401.8 254.1,406.4 254.2,402.7 254.4,402.3 254.5,400.7 254.7,404.2 254.8,408.0 255.0,398.8 255.1,395.8 255.2,409.3 255.4,401.7 255.5,398.6 255.7,405.7 255.8,406.9 255.9,401.5 256.1,402.6 256.2,404.1 256.4,396.9 256.5,397.4 256.6,400.0 256.8,402.5 256.9,403.5 257.1,399.6 257.2,403.4 257.4,397.9 257.5,398.7 257.6,405.0 257.8,400.4 257.9,398.1 258.1,400.9 258.2,406.8 258.3,404.3 258.5,404.6 258.6,403.1 258.8,403.5 258.9,405.0 259.1,400.9 259.2,399.5 259.3,406.1 259.5,409.9 259.6,402.9 259.8,404.3 259.9,402.9 260.0,407.0 260.2,403.5 260.3,408.2 260.5,401.0 260.6,399.3 260.7,408.5 260.9,416.6 261.0,407.0 261.2,407.2 261.3,404.6 261.5,405.3 261.6,403.7 261.7,397.0 261.9,407.8 262.0,407.2 262.2,404.3 262.3,413.9 262.4,403.2 262.6,408.6 262.7,412.2 262.9,409.7 263.0,404.6 263.1,403.5 263.3,402.2 263.4,405.1 263.6,409.7 263.7,404.8 263.9,407.3 264.0,399.3 264.1,416.4 264.3,401.6 264.4,404.5 264.6,405.9 264.7,407.9 264.8,409.9 265.0,411.7 265.1,414.6 265.3,400.9 265.4,404.5 265.5,405.5 265.7,406.7 265.8,417.0 266.0,409.4 266.1,407.9 266.3,404.2 266.4,412.9 266.5,407.6 266.7,409.7 266.8,408.7 267.0,412.2 267.1,407.6 267.2,408.8 267.4,418.0 267.5,404.8 267.7,401.6 267.8,413.3 267.9,405.2 268.1,413.9 268.2,412.0 268.4,403.4 268.5,409.1 268.7,404.3 268.8,408.9 268.9,406.2 269.1,410.9 269.2,404.9 269.4,403.8 269.5,407.8 269.6,413.0 269.8,412.2 269.9,415.0 270.1,408.4 270.2,408.8 270.3,414.1 270.5,407.4 270.6,413.7 270.8,404.4 270.9,408.0 271.1,405.3 271.2,414.7 271.3,416.1 271.5,420.8 271.6,409.1 271.8,417.1 271.9,406.6 272.0,411.3 272.2,408.9 272.3,418.3 272.5,414.9 272.6,411.5 272.7,409.3 272.9,418.7 273.0,411.1 273.2,416.5 273.3,409.3 273.5,413.8 273.6,414.2 273.7,411.1 273.9,408.3 274.0,414.2 274.2,408.2 274.3,418.1 274.4,412.1 274.6,418.9 274.7,412.5 274.9,418.0 275.0,413.5 275.1,411.1 275.3,418.5 275.4,423.2 275.6,414.8 275.7,411.8 275.9,413.1 276.0,418.7 276.1,410.7 276.3,415.7 276.4,411.2 276.6,418.9 276.7,412.7 276.8,409.7 277.0,418.0 277.1,416.2 277.3,412.2 277.4,412.7 277.5,413.5 277.7,415.7 277.8,423.7 278.0,415.3 278.1,422.2 278.3,415.1 278.4,429.5 278.5,409.6 278.7,407.9 278.8,413.8 279.0,420.2 279.1,417.4 279.2,412.1 279.4,413.1 279.5,419.7 279.7,411.0 279.8,413.1 280.0,413.9 280.1,418.2 280.2,416.6 280.4,420.3 280.5,415.8 280.7,420.2 280.8,411.7 280.9,416.7 281.1,416.0 281.2,415.5 281.4,415.6 281.5,425.2 281.6,411.6 281.8,416.9 281.9,420.3 282.1,422.7 282.2,421.1 282.4,420.8 282.5,417.6 282.6,422.4 282.8,417.3 282.9,417.2 283.1,421.7 283.2,408.8 283.3,418.7 283.5,416.6 283.6,417.7 283.8,419.2 283.9,415.2 284.0,412.3 284.2,418.9 284.3,423.4 284.5,416.1 284.6,432.7 284.8,418.1 284.9,419.9 285.0,417.4 285.2,428.1 285.3,421.5 285.5,425.1 285.6,422.2 285.7,416.5 285.9,420.5 286.0,422.8 286.2,414.0 286.3,419.6 286.4,433.0 286.6,425.9 286.7,417.8 286.9,417.7 287.0,418.9 287.2,418.8 287.3,425.4 287.4,420.8 287.6,427.4 287.7,425.2 287.9,425.8 288.0,425.4 288.1,422.5 288.3,421.9 288.4,425.4 288.6,415.6 288.7,423.5 288.8,413.8 289.0,416.1 289.1,428.6 289.3,416.8 289.4,430.2 289.6,414.4 289.7,419.7 289.8,427.5 290.0,437.3 290.1,423.9 290.3,430.4 290.4,416.3 290.5,429.8 290.7,423.3 290.8,419.4 291.0,422.0 291.1,420.8 291.2,423.7 291.4,418.5 291.5,428.1 291.7,419.4 291.8,430.2 292.0,421.6 292.1,429.9 292.2,423.9 292.4,419.6 292.5,416.6 292.7,435.6 292.8,427.7 292.9,429.2 293.1,416.9 293.2,428.6 293.4,419.4 293.5,426.4 293.6,433.1 293.8,422.7 293.9,430.9 294.1,419.6 294.2,419.1 294.4,416.8 294.5,430.3 294.6,415.8 294.8,418.7 294.9,436.9 295.1,413.3 295.2,415.5 295.3,430.9 295.5,422.2 295.6,433.4 295.8,425.0 295.9,423.1 296.0,420.8 296.2,429.7 296.3,424.5 296.5,430.6 296.6,422.3 296.8,420.9 296.9,424.2 297.0,418.5 297.2,420.5 297.3,422.6 297.5,418.6 297.6,433.5 297.7,425.1 297.9,438.4 298.0,425.1 298.2,428.1 298.3,420.5 298.5,428.0 298.6,429.4 298.7,425.8 298.9,426.1 299.0,422.4 299.2,431.3 299.3,436.5 299.4,437.5 299.6,419.3 299.7,434.7 299.9,428.7 300.0,433.5 300.1,420.8 300.3,429.5 300.4,419.1 300.6,430.6 300.7,424.2 300.9,421.6 301.0,420.6 301.1,434.7 301.3,428.5 301.4,426.7 301.6,440.9 301.7,422.1 301.8,424.0 302.0,423.3 302.1,436.9 302.3,425.3 302.4,423.9 302.5,420.7 302.7,430.1 302.8,422.6 303.0,416.4 303.1,429.6 303.3,429.5 303.4,428.9 303.5,438.4 303.7,429.3 303.8,418.1 304.0,433.6 304.1,428.2 304.2,420.3 304.4,423.7 304.5,425.7 304.7,429.4 304.8,427.9 304.9,427.2 305.1,423.2 305.2,426.8 305.4,421.9 305.5,443.1 305.7,422.6 305.8,431.1 305.9,427.4 306.1,430.4 306.2,423.7 306.4,428.4 306.5,423.9 306.6,433.5 306.8,426.5 306.9,420.8 307.1,421.4 307.2,430.3 307.3,427.0 307.5,430.4 307.6,428.7 307.8,427.9 307.9,421.1 308.1,424.5 308.2,419.9 308.3,419.5 308.5,438.0 308.6,426.3 308.8,431.3 308.9,441.7 309.0,436.5 309.2,431.9 309.3,419.1 309.5,427.9 309.6,429.7 309.7,428.7 309.9,434.0 310.0,427.4 310.2,429.2 310.3,442.3 310.5,432.4 310.6,412.3 310.7,424.8 310.9,429.4 311.0,424.7 311.2,436.2 311.3,428.3 311.4,423.6 311.6,442.4 311.7,434.3 311.9,431.8 312.0,431.0 312.1,432.7 312.3,427.3 312.4,423.0 312.6,426.9 312.7,423.0 312.9,423.0 313.0,433.6 313.1,427.5 313.3,431.9 313.4,425.2 313.6,431.8 313.7,430.7 313.8,419.8 314.0,430.7 314.1,442.7 314.3,428.7 314.4,427.6 314.5,433.2 314.7,429.1 314.8,423.5 315.0,433.4 315.1,431.0 315.3,435.0 315.4,427.6 315.5,430.6 315.7,436.9 315.8,430.9 316.0,419.6 316.1,443.1 316.2,441.4 316.4,427.7 316.5,441.5 316.7,419.1 316.8,442.7 317.0,440.8 317.1,433.8 317.2,423.6 317.4,425.1 317.5,426.5 317.7,428.2 317.8,422.5 317.9,443.1 318.1,428.4 318.2,421.9 318.4,438.9 318.5,428.2 318.6,423.0 318.8,422.9 318.9,431.4 319.1,419.9 319.2,427.2 319.4,423.9 319.5,439.2 319.6,436.4 319.8,436.4 319.9,420.5 320.1,443.1 320.2,443.1 320.3,425.6 320.5,429.7 320.6,443.1 320.8,433.7 320.9,433.0 321.0,423.5 321.2,443.1 321.3,434.8 321.5,424.3 321.6,426.0 321.8,438.2 321.9,433.0 322.0,443.1 322.2,422.8 322.3,434.2 322.5,423.3 322.6,426.0 322.7,438.1 322.9,432.2 323.0,426.9 323.2,428.2 323.3,422.1 323.4,424.3 323.6,429.0 323.7,426.8 323.9,436.8 324.0,435.8 324.2,427.4 324.3,429.0 324.4,440.5 324.6,431.9 324.7,437.7 324.9,435.6 325.0,423.5 325.1,439.1 325.3,436.5 325.4,427.7 325.6,431.0 325.7,430.4 325.8,443.1 326.0,431.7 326.1,434.3 326.3,438.0 326.4,435.9 326.6,433.8 326.7,426.2 326.8,420.8 327.0,430.9 327.1,422.8 327.3,430.9 327.4,443.1 327.5,431.3 327.7,423.9 327.8,423.3 328.0,438.9 328.1,419.2 328.2,437.6 328.4,437.6 328.5,435.9 328.7,423.1 328.8,429.2 329.0,426.1 329.1,443.1 329.2,432.3 329.4,432.8 329.5,427.4 329.7,435.6 329.8,424.6 329.9,437.4 330.1,443.1 330.2,443.1 330.4,424.2 330.5,427.1 330.6,438.4 330.8,425.2 330.9,433.4 331.1,433.0 331.2,443.1 331.4,436.4 331.5,431.4 331.6,430.8 331.8,436.6 331.9,425.9 332.1,423.5 332.2,438.8 332.3,429.5 332.5,443.1 332.6,429.5 332.8,440.3 332.9,433.5 333.0,431.2 333.2,434.2 333.3,425.7 333.5,438.7 333.6,436.0 333.8,430.2 333.9,432.7 334.0,430.7 334.2,434.0 334.3,439.0 334.5,428.1 334.6,432.0 334.7,426.7 334.9,424.3 335.0,435.2 335.2,438.5 335.3,436.1 335.5,437.8 335.6,443.1 335.7,422.7 335.9,429.8 336.0,419.5 336.2,437.1 336.3,428.7 336.4,430.8 336.6,433.2 336.7,426.4 336.9,432.7 337.0,433.3 337.1,431.6 337.3,443.1 337.4,438.6 337.6,438.7 337.7,422.8 337.9,428.9 338.0,427.7 338.1,428.6 338.3,434.3 338.4,422.9 338.6,434.5 338.7,443.1 338.8,428.7 339.0,425.4 339.1,432.2 339.3,430.4 339.4,426.7 339.5,423.6 339.7,429.0 339.8,422.8 340.0,431.0 340.1,420.8 340.3,443.1 340.4,426.9 340.5,431.0 340.7,432.2 340.8,443.1 341.0,426.2 341.1,434.6 341.2,441.5 341.4,438.2 341.5,434.9 341.7,432.4 341.8,440.8 341.9,440.9 342.1,430.3 342.2,433.7 342.4,421.6 342.5,436.5 342.7,428.2 342.8,422.7 342.9,434.8 343.1,426.8 343.2,431.1 343.4,432.9 343.5,423.5"/>
<polyline stroke="#f00" points="61.2,443.1 61.3,443.1 61.5,443.1 61.6,440.9 61.8,434.7 61.9,441.7 62.0,435.5 62.2,443.1 62.3,433.9 62.5,440.8 62.6,443.1 62.8,431.6 62.9,440.2 63.0,436.8 63.2,439.4 63.3,436.1 63.5,439.4 63.6,443.1 63.7,438.5 63.9,437.4 64.0,437.9 64.2,441.5 64.3,430.8 64.4,443.1 64.6,439.4 64.7,438.9 64.9,443.1 65.0,443.1 65.2,436.4 65.3,436.3 65.4,439.3 65.6,443.1 65.7,441.9 65.9,438.7 66.0,436.6 66.1,433.7 66.3,437.5 66.4,434.8 66.6,431.5 66.7,443.1 66.8,434.7 67.0,442.9 67.1,437.3 67.3,438.9 67.4,443.1 67.6,443.1 67.7,437.6 67.8,441.2 68.0,436.0 68.1,442.6 68.3,429.5 68.4,441.7 68.5,429.8 68.7,443.1 68.8,436.9 69.0,434.0 69.1,443.1 69.2,443.1 69.4,437.8 69.5,433.9 69.7,432.9 69.8,437.0 70.0,434.4 70.1,443.1 70.2,442.8 70.4,432.5 70.5,443.1 70.7,441.7 70.8,443.1 70.9,441.3 71.1,443.1 71.2,438.1 71.4,432.4 71.5,438.3 71.7,439.2 71.8,442.7 71.9,437.0 72.1,443.1 72.2,443.1 72.4,429.4 72.5,443.1 72.6,443.1 72.8,443.1 72.9,433.6 73.1,441.7 73.2,443.1 73.3,443.1 73.5,434.2 73.6,436.4 73.8,435.7 73.9,440.6 74.1,435.2 74.2,433.2 74.3,436.4 74.5,443.1 74.6,443.1 74.8,443.1 74.9,438.7 75.0,443.1 75.2,443.1 75.3,440.1 75.5,443.1 75.6,443.1 75.7,435.0 75.9,437.5 76.0,435.9 76.2,435.2 76.3,432.7 76.5,440.6 76.6,441.5 76.7,443.1 76.9,441.9 77.0,443.1 77.2,434.6 77.3,436.6 77.4,432.6 77.6,434.4 77.7,434.0 77.9,437.3 78.0,439.6 78.1,442.9 78.3,440.5 78.4,443.1 78.6,438.1 78.7,441.0 78.9,443.1 79.0,443.1 79.1,443.1 79.3,443.1 79.4,442.4 79.6,433.5 79.7,443.1 79.8,443.1 80.0,438.2 80.1,434.9 80.3,431.9 80.4,443.1 80.5,442.1 80.7,443.1 80.8,432.5 81.0,436.5 81.1,440.4 81.3,436.4 81.4,442.8 81.5,441.8 81.7,440.7 81.8,443.1 82.0,442.1 82.1,438.4 82.2,439.1 82.4,432.7 82.5,435.7 82.7,441.0 82.8,443.1 82.9,443.1 83.1,443.1 83.2,443.0 83.4,443.1 83.5,443.0 83.7,439.9 83.8,443.1 83.9,441.5 84.1,441.2 84.2,443.1 84.4,443.1 84.5,441.4 84.6,439.0 84.8,443.1 84.9,443.1 85.1,443.1 85.2,437.7 85.3,443.1 85.5,435.5 85.6,443.1 85.8,439.9 85.9,443.1 86.1,437.3 86.2,440.4 86.3,438.5 86.5,443.1 86.6,436.6 86.8,443.1 86.9,442.8 87.0,437.7 87.2,441.9 87.3,437.8 87.5,439.7 87.6,440.2 87.7,443.1 87.9,435.1 88.0,434.5 88.2,443.1 88.3,443.1 88.5,439.5 88.6,443.1 88.7,439.9 88.9,436.1 89.0,436.9 89.2,432.9 89.3,438.0 89.4,443.1 89.6,443.1 89.7,437.6 89.9,431.0 90.0,443.0 90.2,443.1 90.3,433.3 90.4,441.5 90.6,436.8 90.7,434.8 90.9,443.1 91.0,443.0 91.1,443.1 91.3,437.7 91.4,437.0 91.6,443.1 91.7,437.5 91.8,443.1 92.0,438.7 92.1,438.7 92.3,440.7 92.4,443.1 92.6,441.4 92.7,443.1 92.8,433.1 93.0,442.6 93.1,442.0 93.3,441.4 93.4,437.6 93.5,440.3 93.7,437.7 93.8,443.1 94.0,434.7 94.1,443.1 94.2,436.5 94.4,439.3 94.5,434.9 94.7,441.2 94.8,443.1 95.0,443.1 95.1,442.2 95.2,433.4 95.4,443.1 95.5,440.4 95.7,434.0 95.8,443.1 95.9,438.9 96.1,439.1 96.2,443.1 96.4,439.3 96.5,434.9 96.6,434.9 96.8,442.6 96.9,426.8 97.1,438.3 97.2,441.9 97.4,443.1 97.5,443.1 97.6,435.4 97.8,443.1 97.9,440.4 98.1,443.1 98.2,440.2 98.3,439.2 98.5,443.1 98.6,443.1 98.8,431.9 98.9,441.6 99.0,438.0 99.2,439.6 99.3,433.2 99.5,431.2 99.6,432.4 99.8,434.0 99.9,433.7 100.0,443.1 100.2,429.8 100.3,439.1 100.5,440.9 100.6,437.5 100.7,439.8 100.9,432.9 101.0,431.2 101.2,428.5 101.3,434.8 101.4,437.3 101.6,435.3 101.7,440.4 101.9,437.4 102.0,424.5 102.2,437.2 102.3,435.2 102.4,429.6 102.6,431.2 102.7,428.8 102.9,436.9 103.0,438.0 103.1,426.1 103.3,435.4 103.4,432.2 103.6,430.6 103.7,442.5 103.8,432.4 104.0,434.7 104.1,428.7 104.3,432.6 104.4,443.1 104.6,427.2 104.7,443.1 104.8,432.5 105.0,433.8 105.1,433.2 105.3,430.0 105.4,425.5 105.5,433.8 105.7,432.2 105.8,425.6 106.0,426.3 106.1,425.1 106.2,426.4 106.4,428.6 106.5,429.3 106.7,428.8 106.8,422.4 107.0,419.8 107.1,417.7 107.2,429.2 107.4,423.6 107.5,415.0 107.7,403.6 107.8,391.8 107.9,372.4 108.1,356.5 108.2,339.2 108.4,323.1 108.5,311.4 108.7,301.6 108.8,292.5 108.9,285.8 109.1,281.8 109.2,279.2 109.4,276.7 109.5,275.3 109.6,274.1 109.8,271.4 109.9,270.3 110.1,269.1 110.2,267.4 110.3,266.8 110.5,265.7 110.6,264.6 110.8,263.1 110.9,262.4 111.1,262.1 111.2,260.7 111.3,260.4 111.5,259.6 111.6,259.3 111.8,258.2 111.9,257.9 112.0,257.2 112.2,257.1 112.3,256.4 112.5,256.0 112.6,255.7 112.7,255.4 112.9,255.1 113.0,254.9 113.2,254.5 113.3,254.1 113.5,253.7 113.6,253.8 113.7,253.4 113.9,253.1 114.0,253.0 114.2,252.5 114.3,252.3 114.4,252.1 114.6,251.8 114.7,251.5 114.9,251.4 115.0,251.3 115.1,251.1 115.3,251.3 115.4,251.2 115.6,250.9 115.7,250.9 115.9,250.7 116.0,251.1 116.1,251.3 116.3,251.1 116.4,251.4 116.6,251.6 116.7,251.3 116.8,251.4 117.0,251.8 117.1,252.1 117.3,252.1 117.4,252.3 117.5,252.8 117.7,252.6 117.8,252.8 118.0,252.8 118.1,253.3 118.3,253.4 118.4,253.6 118.5,254.1 118.7,253.5 118.8,254.4 119.0,254.4 119.1,254.5 119.2,254.9 119.4,254.7 119.5,255.0 119.7,255.1 119.8,255.3 119.9,255.5 120.1,255.7 120.2,255.9 120.4,256.0 120.5,256.2 120.7,256.5 120.8,256.8 120.9,257.0 121.1,257.0 121.2,257.4 121.4,257.6 121.5,258.0 121.6,257.6 121.8,258.4 121.9,258.0 122.1,258.4 122.2,258.5 122.3,258.9 122.5,259.0 122.6,259.3 122.8,259.4 122.9,259.5 123.1,259.6 123.2,260.3 123.3,260.2 123.5,260.2 123.6,260.4 123.8,261.1 123.9,261.0 124.0,261.2 124.2,261.4 124.3,262.1 124.5,261.7 124.6,262.4 124.7,261.8 124.9,262.3 125.0,262.7 125.2,262.7 125.3,263.0 125.5,263.3 125.6,263.4 125.7,263.5 125.9,264.0 126.0,263.8 126.2,264.0 126.3,264.2 126.4,264.3 126.6,264.5 126.7,264.8 126.9,264.9 127.0,265.3 127.2,265.5 127.3,265.4 127.4,265.5 127.6,266.2 127.7,266.7 127.9,266.0 128.0,266.4 128.1,266.5 128.3,266.9 128.4,267.2 128.6,267.6 128.7,267.9 128.8,267.5 129.0,267.8 129.1,268.2 129.3,268.7 129.4,268.7 129.6,269.0 129.7,269.1 129.8,269.9 130.0,269.3 130.1,269.2 130.3,269.9 130.4,270.0 130.5,270.1 130.7,270.6 130.8,270.4 131.0,270.9 131.1,271.0 131.2,271.0 131.4,271.3 131.5,271.5 131.7,271.9 131.8,271.7 132.0,272.3 132.1,272.0 132.2,272.5 132.4,272.9 132.5,272.8 132.7,273.3 132.8,273.3 132.9,273.4 133.1,273.3 133.2,273.5 133.4,273.8 133.5,274.2 133.6,274.7 133.8,274.5 133.9,274.8 134.1,274.9 134.2,275.2 134.4,275.4 134.5,275.2 134.6,276.0 134.8,275.8 134.9,275.6 135.1,276.4 135.2,276.6 135.3,276.6 135.5,276.8 135.6,276.8 135.8,276.7 135.9,277.3 136.0,277.3 136.2,277.8 136.3,278.0 136.5,277.9 136.6,278.4 136.8,278.1 136.9,278.7 137.0,278.8 137.2,279.2 137.3,279.3 137.5,279.6 137.6,279.6 137.7,280.2 137.9,279.9 138.0,279.5 138.2,280.8 138.3,279.9 138.4,280.6 138.6,280.5 138.7,281.3 138.9,280.5 139.0,281.7 139.2,281.5 139.3,281.2 139.4,282.3 139.6,282.8 139.7,282.3 139.9,282.7 140.0,282.9 140.1,283.1 140.3,283.4 140.4,282.7 140.6,283.0 140.7,283.9 140.8,283.7 141.0,284.0 141.1,283.7 141.3,284.5 141.4,283.9 141.6,284.6 141.7,285.0 141.8,285.0 142.0,285.3 142.1,284.6 142.3,285.5 142.4,285.8 142.5,285.8 142.7,285.6 142.8,286.5 143.0,287.0 143.1,286.2 143.2,286.6 143.4,287.1 143.5,287.1 143.7,286.9 143.8,288.4 144.0,287.2 144.1,287.9 144.2,287.8 144.4,288.2 144.5,287.3 144.7,288.8 144.8,288.4 144.9,289.8 145.1,289.1 145.2,289.0 145.4,290.0 145.5,290.3 145.6,289.8 145.8,289.6 145.9,289.7 146.1,290.6 146.2,290.4 146.4,291.2 146.5,290.2 146.6,291.2 146.8,290.8 146.9,291.5 147.1,291.7 147.2,291.2 147.3,292.2 147.5,291.6 147.6,292.4 147.8,292.8 147.9,292.9 148.1,292.4 148.2,293.0 148.3,293.3 148.5,293.9 148.6,293.1 148.8,293.3 148.9,293.7 149.0,293.7 149.2,295.5 149.3,294.6 149.5,294.5 149.6,294.7 149.7,295.1 149.9,295.0 150.0,295.5 150.2,295.7 150.3,296.1 150.5,295.7 150.6,296.2 150.7,296.3 150.9,295.7 151.0,296.5 151.2,296.7 151.3,297.4 151.4,297.2 151.6,296.8 151.7,297.1 151.9,297.5 152.0,297.8 152.1,297.8 152.3,297.9 152.4,298.3 152.6,299.4 152.7,297.7 152.9,298.2 153.0,299.0 153.1,298.5 153.3,299.8 153.4,298.9 153.6,299.5 153.7,299.4 153.8,300.1 154.0,300.0 154.1,300.0 154.3,300.0 154.4,300.4 154.5,300.6 154.7,301.2 154.8,300.4 155.0,301.2 155.1,301.6 155.3,301.8 155.4,302.3 155.5,302.3 155.7,302.8 155.8,302.2 156.0,302.5 156.1,302.6 156.2,303.4 156.4,303.2 156.5,303.5 156.7,302.9 156.8,304.2 156.9,304.4 157.1,303.3 157.2,303.9 157.4,304.9 157.5,303.7 157.7,303.8 157.8,304.2 157.9,305.8 158.1,305.0 158.2,305.6 158.4,305.5 158.5,306.3 158.6,304.9 158.8,306.2 158.9,305.9 159.1,305.8 159.2,306.1 159.3,306.4 159.5,306.9 159.6,306.8 159.8,307.2 159.9,308.3 160.1,306.9 160.2,307.9 160.3,308.0 160.5,308.1 160.6,308.8 160.8,308.8 160.9,309.3 161.0,308.3 161.2,308.1 161.3,308.9 161.5,309.6 161.6,308.6 161.7,309.6 161.9,310.4 162.0,310.7 162.2,309.8 162.3,309.3 162.5,310.4 162.6,310.7 162.7,310.7 162.9,311.2 163.0,311.2 163.2,310.9 163.3,311.6 163.4,310.9 163.6,312.1 163.7,311.4 163.9,311.7 164.0,312.3 164.1,312.4 164.3,312.6 164.4,311.7 164.6,313.2 164.7,312.2 164.9,312.5 165.0,313.4 165.1,312.5 165.3,314.9 165.4,313.6 165.6,313.8 165.7,314.0 165.8,313.7 166.0,314.6 166.1,314.6 166.3,314.1 166.4,314.9 166.6,315.6 166.7,314.9 166.8,315.4 167.0,315.8 167.1,315.4 167.3,316.3 167.4,316.6 167.5,316.3 167.7,316.4 167.8,316.5 168.0,317.4 168.1,315.8 168.2,316.6 168.4,317.1 168.5,317.2 168.7,319.0 168.8,317.1 169.0,318.4 169.1,317.7 169.2,318.8 169.4,317.7 169.5,318.8 169.7,318.7 169.8,317.9 169.9,318.3 170.1,319.9 170.2,319.7 170.4,319.3 170.5,319.7 170.6,319.3 170.8,320.3 170.9,321.2 171.1,320.8 171.2,320.5 171.4,320.2 171.5,320.3 171.6,320.1 171.8,320.9 171.9,321.3 172.1,320.9 172.2,321.6 172.3,322.0 172.5,322.1 172.6,321.4 172.8,321.2 172.9,321.5 173.0,323.5 173.2,321.9 173.3,323.5 173.5,323.2 173.6,322.7 173.8,324.2 173.9,324.3 174.0,324.1 174.2,322.7 174.3,323.2 174.5,324.7 174.6,324.2 174.7,324.3 174.9,324.4 175.0,325.2 175.2,323.9 175.3,325.3 175.4,324.7 175.6,326.5 175.7,325.3 175.9,325.6 176.0,324.9 176.2,327.8 176.3,325.8 176.4,325.8 176.6,326.7 176.7,325.7 176.9,325.4 177.0,326.3 177.1,326.5 177.3,326.3 177.4,327.1 177.6,326.7 177.7,327.3 177.8,328.4 178.0,328.8 178.1,327.4 178.3,327.9 178.4,329.0 178.6,328.7 178.7,327.8 178.8,330.3 179.0,329.8 179.1,328.8 179.3,328.9 179.4,330.5 179.5,330.5 179.7,329.8 179.8,329.1 180.0,330.3 180.1,332.2 180.2,329.8 180.4,330.7 180.5,331.2 180.7,331.9 180.8,330.3 181.0,331.2 181.1,331.2 181.2,331.4 181.4,331.5 181.5,331.4 181.7,330.9 181.8,333.1 181.9,332.5 182.1,333.0 182.2,331.5 182.4,333.1 182.5,334.4 182.6,333.3 182.8,334.0 182.9,334.1 183.1,334.1 183.2,334.9 183.4,335.6 183.5,332.7 183.6,334.4 183.8,335.2 183.9,334.1 184.1,333.7 184.2,336.4 184.3,335.5 184.5,335.0 184.6,336.1 184.8,335.2 184.9,336.7 185.1,336.4 185.2,336.1 185.3,335.8 185.5,336.3 185.6,337.1 185.8,337.0 185.9,338.6 186.0,335.2 186.2,337.5 186.3,337.5 186.5,337.2 186.6,337.1 186.7,337.4 186.9,338.5 187.0,339.5 187.2,338.3 187.3,339.0 187.5,339.0 187.6,338.7 187.7,338.6 187.9,337.9 188.0,339.2 188.2,340.8 188.3,338.9 188.4,338.8 188.6,341.2 188.7,339.4 188.9,339.9 189.0,340.7 189.1,340.2 189.3,340.1 189.4,340.1 189.6,339.8 189.7,341.0 189.9,341.1 190.0,339.2 190.1,342.4 190.3,341.8 190.4,342.0 190.6,341.2 190.7,341.0 190.8,343.4 191.0,341.2 191.1,343.6 191.3,340.3 191.4,343.4 191.5,341.9 191.7,343.3 191.8,342.6 192.0,344.1 192.1,343.4 192.3,343.7 192.4,343.8 192.5,343.2 192.7,344.6 192.8,344.6 193.0,345.7 193.1,344.7 193.2,345.2 193.4,344.1 193.5,344.4 193.7,345.9 193.8,344.9 193.9,344.3 194.1,345.9 194.2,347.0 194.4,343.6 194.5,345.6 194.7,345.6 194.8,344.0 194.9,347.4 195.1,346.4 195.2,348.8 195.4,346.5 195.5,346.8 195.6,348.1 195.8,348.3 195.9,347.8 196.1,348.0 196.2,346.3 196.3,348.3 196.5,348.4 196.6,348.5 196.8,350.2 196.9,349.2 197.1,350.2 197.2,348.8 197.3,351.5 197.5,350.4 197.6,349.1 197.8,351.8 197.9,351.4 198.0,348.8 198.2,351.4 198.3,350.2 198.5,350.0 198.6,351.6 198.7,352.5 198.9,349.2 199.0,351.5 199.2,350.5 199.3,352.0 199.5,350.9 199.6,352.9 199.7,353.2 199.9,352.9 200.0,352.6 200.2,352.8 200.3,352.6 200.4,351.9 200.6,353.1 200.7,351.7 200.9,353.6 201.0,352.2 201.1,351.7 201.3,351.4 201.4,355.7 201.6,351.7 201.7,355.8 201.9,352.3 202.0,354.0 202.1,353.7 202.3,355.4 202.4,353.4 202.6,353.8 202.7,355.4 202.8,355.6 203.0,354.0 203.1,354.0 203.3,354.4 203.4,355.9 203.6,355.6 203.7,354.7 203.8,354.9 204.0,354.7 204.1,356.0 204.3,357.2 204.4,356.1 204.5,356.1 204.7,357.4 204.8,356.4 205.0,358.1 205.1,356.9 205.2,358.1 205.4,355.1 205.5,356.2 205.7,357.5 205.8,359.6 206.0,359.6 206.1,357.4 206.2,358.6 206.4,358.1 206.5,360.7 206.7,360.7 206.8,358.8 206.9,359.4 207.1,361.0 207.2,360.4 207.4,358.6 207.5,360.2 207.6,359.1 207.8,358.0 207.9,359.7 208.1,360.1 208.2,361.2 208.4,359.0 208.5,362.6 208.6,362.3 208.8,361.0 208.9,363.1 209.1,360.0 209.2,362.2 209.3,360.9 209.5,362.1 209.6,362.2 209.8,362.0 209.9,364.8 210.0,363.7 210.2,363.0 210.3,359.8 210.5,361.6 210.6,361.9 210.8,364.4 210.9,362.0 211.0,361.6 211.2,362.4 211.3,360.2 211.5,365.6 211.6,365.3 211.7,364.3 211.9,365.5 212.0,364.2 212.2,363.7 212.3,364.6 212.4,364.6 212.6,364.3 212.7,363.9 212.9,366.1 213.0,366.2 213.2,363.8 213.3,366.0 213.4,366.9 213.6,365.4 213.7,366.5 213.9,365.9 214.0,366.3 214.1,365.5 214.3,365.3 214.4,367.9 214.6,368.6 214.7,364.8 214.8,368.1 215.0,369.6 215.1,370.3 215.3,367.6 215.4,368.6 215.6,370.6 215.7,369.4 215.8,369.7 216.0,366.8 216.1,368.0 216.3,368.5 216.4,370.6 216.5,369.1 216.7,368.0 216.8,368.8 217.0,367.7 217.1,369.2 217.2,368.5 217.4,368.9 217.5,370.6 217.7,367.9 217.8,369.5 218.0,369.0 218.1,372.0 218.2,372.2 218.4,370.9 218.5,372.0 218.7,369.9 218.8,370.4 218.9,369.3 219.1,370.4 219.2,373.3 219.4,370.1 219.5,372.8 219.6,373.0 219.8,371.9 219.9,372.1 220.1,370.7 220.2,368.2 220.4,371.9 220.5,370.4 220.6,373.2 220.8,372.4 220.9,373.9 221.1,373.9 221.2,371.3 221.3,372.8 221.5,372.9 221.6,375.1 221.8,371.2 221.9,374.3 222.1,375.3 222.2,374.4 222.3,373.4 222.5,373.4 222.6,372.4 222.8,376.7 222.9,375.7 223.0,372.6 223.2,371.7 223.3,376.5 223.5,375.7 223.6,378.4 223.7,377.2 223.9,377.5 224.0,376.3 224.2,378.3 224.3,374.8 224.5,376.6 224.6,377.1 224.7,375.2 224.9,377.4 225.0,379.3 225.2,377.1 225.3,373.7 225.4,377.3 225.6,376.7 225.7,378.0 225.9,378.2 226.0,377.1 226.1,383.2 226.3,380.5 226.4,379.4 226.6,379.0 226.7,376.2 226.9,374.7 227.0,377.8 227.1,378.3 227.3,378.0 227.4,376.7 227.6,381.3 227.7,380.5 227.8,379.4 228.0,379.3 228.1,383.7 228.3,379.3 228.4,383.3 228.5,379.0 228.7,379.0 228.8,385.2 229.0,379.8 229.1,380.5 229.3,382.2 229.4,379.4 229.5,377.8 229.7,380.5 229.8,383.7 230.0,384.6 230.1,384.1 230.2,383.9 230.4,380.0 230.5,381.7 230.7,382.4 230.8,380.8 230.9,382.6 231.1,382.7 231.2,384.5 231.4,384.2 231.5,383.1 231.7,385.6 231.8,380.3 231.9,383.3 232.1,384.7 232.2,381.9 232.4,386.1 232.5,382.0 232.6,384.0 232.8,380.8 232.9,385.5 233.1,385.3 233.2,386.4 233.3,387.4 233.5,384.4 233.6,387.3 233.8,384.6 233.9,386.6 234.1,383.4 234.2,391.3 234.3,384.9 234.5,385.7 234.6,386.0 234.8,387.4 234.9,382.8 235.0,387.2 235.2,385.6 235.3,387.1 235.5,387.5 235.6,386.7 235.7,385.6 235.9,389.5 236.0,388.2 236.2,390.5 236.3,386.7 236.5,389.5 236.6,389.4 236.7,386.5 236.9,388.0 237.0,387.3 237.2,388.5 237.3,387.5 237.4,388.3 237.6,391.1 237.7,388.3 237.9,389.6 238.0,389.5 238.1,388.5 238.3,390.5 238.4,391.8 238.6,387.0 238.7,385.8 238.9,390.5 239.0,387.4 239.1,389.1 239.3,391.6 239.4,392.2 239.6,391.0 239.7,391.5 239.8,391.4 240.0,391.0 240.1,393.5 240.3,389.1 240.4,393.8 240.6,393.8 240.7,389.3 240.8,389.8 241.0,388.4 241.1,391.4 241.3,393.3 241.4,389.4 241.5,392.3 241.7,392.5 241.8,394.4 242.0,391.5 242.1,398.7 242.2,391.5 242.4,397.9 242.5,390.9 242.7,397.0 242.8,391.6 243.0,388.0 243.1,394.1 243.2,396.4 243.4,389.4 243.5,394.8 243.7,396.7 243.8,391.1 243.9,402.0 244.1,398.1 244.2,397.7 244.4,396.2 244.5,400.0 244.6,392.8 244.8,392.4 244.9,395.1 245.1,396.1 245.2,399.3 245.4,394.2 245.5,397.2 245.6,394.1 245.8,393.2 245.9,395.7 246.1,401.7 246.2,398.5 246.3,392.9 246.5,395.6 246.6,393.0 246.8,402.8 246.9,396.9 247.0,397.2 247.2,401.3 247.3,398.6 247.5,394.7 247.6,395.8 247.8,398.7 247.9,396.6 248.0,394.6 248.2,400.6 248.3,397.0 248.5,395.3 248.6,399.8 248.7,394.9 248.9,398.4 249.0,395.6 249.2,396.1 249.3,397.9 249.4,399.4 249.6,400.6 249.7,398.4 249.9,398.4 250.0,395.6 250.2,399.4 250.3,398.4 250.4,395.3 250.6,398.7 250.7,398.5 250.9,395.8 251.0,399.6 251.1,398.9 251.3,398.1 251.4,400.5 251.6,403.5 251.7,404.8 251.8,401.1 252.0,397.8 252.1,398.2 252.3,396.7 252.4,398.6 252.6,403.0 252.7,405.6 252.8,402.8 253.0,402.2 253.1,403.7 253.3,399.2 253.4,404.1 253.5,400.3 253.7,399.9 253.8,407.5 254.0,403.5 254.1,399.0 254.2,400.2 254.4,402.2 254.5,406.0 254.7,404.9 254.8,402.6 255.0,399.6 255.1,401.7 255.2,403.5 255.4,402.7 255.5,401.3 255.7,409.2 255.8,406.7 255.9,403.7 256.1,400.6 256.2,401.0 256.4,406.5 256.5,404.1 256.6,406.6 256.8,405.6 256.9,404.1 257.1,405.7 257.2,406.5 257.4,408.6 257.5,410.1 257.6,405.7 257.8,404.6 257.9,403.5 258.1,408.0 258.2,407.8 258.3,402.0 258.5,404.5 258.6,403.3 258.8,407.7 258.9,408.3 259.1,409.9 259.2,403.4 259.3,410.1 259.5,412.4 259.6,409.0 259.8,403.0 259.9,406.7 260.0,406.2 260.2,406.6 260.3,407.2 260.5,407.7 260.6,412.1 260.7,402.7 260.9,408.0 261.0,404.1 261.2,413.1 261.3,406.2 261.5,411.9 261.6,412.5 261.7,407.3 261.9,405.2 262.0,404.3 262.2,404.5 262.3,409.4 262.4,406.3 262.6,410.8 262.7,410.7 262.9,408.2 263.0,409.5 263.1,406.6 263.3,416.0 263.4,405.9 263.6,411.4 263.7,405.1 263.9,406.2 264.0,413.8 264.1,410.0 264.3,407.8 264.4,412.8 264.6,412.7 264.7,411.3 264.8,408.0 265.0,407.6 265.1,412.0 265.3,408.1 265.4,406.3 265.5,408.0 265.7,413.6 265.8,414.1 266.0,410.2 266.1,408.6 266.3,410.0 266.4,412.8 266.5,414.9 266.7,407.7 266.8,412.3 267.0,406.1 267.1,416.2 267.2,413.2 267.4,414.4 267.5,406.5 267.7,408.4 267.8,414.2 267.9,420.1 268.1,408.9 268.2,412.3 268.4,417.0 268.5,418.7 268.7,411.6 268.8,413.8 268.9,412.7 269.1,411.9 269.2,414.7 269.4,414.5 269.5,411.3 269.6,414.1 269.8,414.8 269.9,411.7 270.1,422.0 270.2,409.9 270.3,412.6 270.5,417.1 270.6,415.0 270.8,410.3 270.9,412.6 271.1,421.9 271.2,418.6 271.3,414.1 271.5,409.1 271.6,412.3 271.8,415.8 271.9,413.1 272.0,415.2 272.2,416.4 272.3,414.0 272.5,424.7 272.6,412.1 272.7,413.8 272.9,417.4 273.0,419.2 273.2,420.8 273.3,415.0 273.5,415.6 273.6,415.6 273.7,410.6 273.9,426.1 274.0,419.3 274.2,419.6 274.3,413.3 274.4,417.7 274.6,420.6 274.7,416.1 274.9,415.5 275.0,411.6 275.1,416.2 275.3,419.0 275.4,419.3 275.6,420.7 275.7,415.7 275.9,414.6 276.0,418.6 276.1,418.3 276.3,413.0 276.4,417.6 276.6,416.2 276.7,422.7 276.8,420.7 277.0,428.1 277.1,424.3 277.3,417.1 277.4,414.1 277.5,419.7 277.7,423.8 277.8,418.4 278.0,414.7 278.1,419.6 278.3,415.6 278.4,419.4 278.5,424.6 278.7,423.1 278.8,420.4 279.0,411.6 279.1,417.3 279.2,420.6 279.4,418.6 279.5,418.9 279.7,421.7 279.8,420.4 280.0,421.1 280.1,417.3 280.2,414.5 280.4,415.3 280.5,421.7 280.7,418.3 280.8,423.6 280.9,425.4 281.1,420.3 281.2,418.3 281.4,421.1 281.5,417.7 281.6,417.7 281.8,418.1 281.9,421.7 282.1,427.4 282.2,414.7 282.4,423.4 282.5,418.5 282.6,419.5 282.8,423.0 282.9,414.9 283.1,419.0 283.2,421.8 283.3,423.7 283.5,426.3 283.6,427.9 283.8,419.8 283.9,424.1 284.0,424.2 284.2,420.3 284.3,423.9 284.5,419.8 284.6,425.4 284.8,424.9 284.9,419.0 285.0,425.8 285.2,420.3 285.3,420.8 285.5,422.9 285.6,431.2 285.7,429.4 285.9,428.3 286.0,429.4 286.2,419.8 286.3,427.4 286.4,429.4 286.6,425.8 286.7,424.0 286.9,432.0 287.0,421.2 287.2,420.8 287.3,426.6 287.4,420.6 287.6,431.8 287.7,426.6 287.9,424.9 288.0,423.9 288.1,419.7 288.3,425.9 288.4,429.3 288.6,423.6 288.7,423.9 288.8,422.7 289.0,426.2 289.1,424.0 289.3,427.5 289.4,422.5 289.6,428.1 289.7,427.9 289.8,420.3 290.0,428.8 290.1,425.2 290.3,422.9 290.4,426.8 290.5,421.6 290.7,428.2 290.8,421.3 291.0,433.7 291.1,432.6 291.2,425.5 291.4,420.0 291.5,419.4 291.7,430.2 291.8,426.2 292.0,428.4 292.1,438.2 292.2,423.1 292.4,428.0 292.5,420.7 292.7,425.2 292.8,429.0 292.9,429.9 293.1,427.5 293.2,424.6 293.4,429.1 293.5,416.2 293.6,425.9 293.8,432.7 293.9,426.6 294.1,422.2 294.2,425.2 294.4,428.7 294.5,430.5 294.6,431.2 294.8,433.5 294.9,429.9 295.1,426.2 295.2,430.3 295.3,420.8 295.5,425.9 295.6,429.9 295.8,427.9 295.9,421.6 296.0,437.4 296.2,426.8 296.3,417.5 296.5,423.6 296.6,432.8 296.8,427.6 296.9,429.4 297.0,417.4 297.2,431.7 297.3,429.7 297.5,430.1 297.6,436.3 297.7,443.1 297.9,429.8 298.0,426.3 298.2,430.9 298.3,426.5 298.5,425.4 298.6,425.7 298.7,438.7 298.9,422.5 299.0,425.2 299.2,425.5 299.3,429.1 299.4,429.2 299.6,432.0 299.7,427.3 299.9,425.2 300.0,432.4 300.1,425.7 300.3,431.9 300.4,426.8 300.6,430.4 300.7,425.7 300.9,421.6 301.0,428.7 301.1,432.4 301.3,432.1 301.4,427.0 301.6,432.6 301.7,425.6 301.8,428.7 302.0,426.0 302.1,433.1 302.3,435.5 302.4,434.3 302.5,428.4 302.7,434.6 302.8,427.2 303.0,443.1 303.1,434.1 303.3,431.4 303.4,441.8 303.5,433.9 303.7,439.5 303.8,431.1 304.0,432.1 304.1,427.3 304.2,435.5 304.4,440.7 304.5,433.9 304.7,430.4 304.8,430.6 304.9,430.3 305.1,425.6 305.2,433.1 305.4,432.4 305.5,436.0 305.7,434.6 305.8,426.5 305.9,429.6 306.1,443.1 306.2,425.9 306.4,443.1 306.5,433.8 306.6,427.1 306.8,431.0 306.9,429.0 307.1,427.6 307.2,430.3 307.3,439.3 307.5,430.1 307.6,435.8 307.8,443.1 307.9,433.6 308.1,429.4 308.2,431.5 308.3,432.1 308.5,424.3 308.6,430.8 308.8,427.9 308.9,430.6 309.0,424.8 309.2,434.4 309.3,426.8 309.5,424.3 309.6,434.5 309.7,427.5 309.9,440.8 310.0,431.0 310.2,429.0 310.3,437.4 310.5,443.1 310.6,432.5 310.7,434.6 310.9,431.8 311.0,431.3 311.2,428.8 311.3,425.7 311.4,430.7 311.6,442.6 311.7,429.6 311.9,431.0 312.0,432.3 312.1,425.8 312.3,431.8 312.4,435.1 312.6,430.8 312.7,443.1 312.9,428.6 313.0,433.0 313.1,425.5 313.3,429.9 313.4,431.5 313.6,432.4 313.7,440.6 313.8,433.9 314.0,432.0 314.1,428.7 314.3,431.3 314.4,430.1 314.5,430.2 314.7,436.7 314.8,432.1 315.0,434.9 315.1,441.5 315.3,443.1 315.4,429.7 315.5,427.0 315.7,427.1 315.8,438.9 316.0,426.8 316.1,426.6 316.2,438.4 316.4,431.5 316.5,426.1 316.7,433.6 316.8,428.3 317.0,437.7 317.1,436.1 317.2,429.8 317.4,435.1 317.5,433.6 317.7,433.8 317.8,440.5 317.9,427.2 318.1,435.1 318.2,436.2 318.4,437.0 318.5,434.1 318.6,440.1 318.8,430.1 318.9,436.5 319.1,430.5 319.2,439.9 319.4,440.9 319.5,440.3 319.6,433.5 319.8,443.1 319.9,430.5 320.1,436.7 320.2,430.3 320.3,437.0 320.5,430.7 320.6,441.3 320.8,441.8 320.9,431.9 321.0,438.2 321.2,429.7 321.3,439.2 321.5,432.4 321.6,440.1 321.8,443.1 321.9,428.2 322.0,436.4 322.2,430.3 322.3,434.3 322.5,443.1 322.6,433.2 322.7,429.9 322.9,429.0 323.0,427.5 323.2,433.3 323.3,436.0 323.4,435.1 323.6,442.9 323.7,431.7 323.9,431.8 324.0,433.7 324.2,440.3 324.3,432.2 324.4,439.0 324.6,429.4 324.7,439.4 324.9,438.9 325.0,437.6 325.1,442.3 325.3,441.4 325.4,437.5 325.6,443.1 325.7,426.4 325.8,433.9 326.0,434.3 326.1,441.5 326.3,434.9 326.4,436.1 326.6,435.5 326.7,443.1 326.8,436.8 327.0,443.1 327.1,437.3 327.3,441.8 327.4,439.9 327.5,438.2 327.7,431.8 327.8,430.0 328.0,436.1 328.1,443.1 328.2,428.9 328.4,443.1 328.5,439.8 328.7,437.7 328.8,441.1 329.0,429.7 329.1,434.3 329.2,430.9 329.4,438.3 329.5,432.0 329.7,437.5 329.8,437.5 329.9,435.0 330.1,434.5 330.2,433.6 330.4,438.0 330.5,443.1 330.6,438.7 330.8,443.1 330.9,438.5 331.1,442.0 331.2,432.4 331.4,443.1 331.5,427.2 331.6,439.0 331.8,443.1 331.9,434.6 332.1,434.3 332.2,434.6 332.3,426.5 332.5,442.4 332.6,435.4 332.8,436.2 332.9,441.4 333.0,435.5 333.2,430.6 333.3,442.7 333.5,434.7 333.6,431.8 333.8,433.6 333.9,443.1 334.0,435.6 334.2,439.6 334.3,430.9 334.5,438.1 334.6,427.7 334.7,443.1 334.9,434.6 335.0,443.1 335.2,428.5 335.3,429.4 335.5,443.1 335.6,433.3 335.7,437.7 335.9,443.1 336.0,443.1 336.2,436.9 336.3,434.6 336.4,439.9 336.6,435.9 336.7,435.8 336.9,435.9 337.0,443.1 337.1,436.8 337.3,434.7 337.4,443.1 337.6,429.8 337.7,430.1 337.9,436.8 338.0,427.5 338.1,443.0 338.3,443.1 338.4,441.8 338.6,442.4 338.7,428.5 338.8,437.5 339.0,438.2 339.1,435.7 339.3,429.7 339.4,436.9 339.5,440.2 339.7,436.3 339.8,431.3 340.0,439.2 340.1,430.6 340.3,436.2 340.4,439.0 340.5,435.2 340.7,428.1 340.8,439.5 341.0,430.8 341.1,434.8 341.2,437.1 341.4,437.8 341.5,433.5 341.7,434.6 341.8,436.0 341.9,434.4 342.1,443.1 342.2,442.4 342.4,443.1 342.5,440.3 342.7,439.5 342.8,440.5 342.9,435.2 343.1,443.1 343.2,439.7 343.4,433.5 343.5,429.6"/>
</g>
<path d="M157.4,263.1H184.6" stroke="#000" stroke-width="1.3"/>
<path d="M157.4,277.35H184.6" stroke="#f00" stroke-width="1.3"/>
<text class="lg" x="187.3" y="266.8">DOPC/Chol/SM (100/0/0)</text>
<text class="lg" x="187.3" y="281.2">DOPC/Chol/SM (90/0/10)</text>
<text class="ti" x="204.0" y="237.4" text-anchor="middle">CF- and Rh-DSPE-PEG</text>
<text class="tk" x="49.5" y="448.75" text-anchor="end">10</text>
<text class="sp" x="49.6" y="440.05">1</text>
<text class="tk" x="49.5" y="384.65" text-anchor="end">10</text>
<text class="sp" x="49.6" y="375.95">2</text>
<text class="tk" x="49.5" y="320.55" text-anchor="end">10</text>
<text class="sp" x="49.6" y="311.85">3</text>
<text class="tk" x="49.5" y="256.45" text-anchor="end">10</text>
<text class="sp" x="49.6" y="247.75">4</text>
<text class="al" transform="translate(13.2,351.7) rotate(-90)" text-anchor="middle">counts</text>
<text class="tk" x="61.20" y="462.3" text-anchor="middle">0</text>
<text class="tk" x="108.25" y="462.3" text-anchor="middle">5</text>
<text class="tk" x="155.30" y="462.3" text-anchor="middle">10</text>
<text class="tk" x="202.35" y="462.3" text-anchor="middle">15</text>
<text class="tk" x="249.40" y="462.3" text-anchor="middle">20</text>
<text class="tk" x="296.45" y="462.3" text-anchor="middle">25</text>
<text class="tk" x="343.50" y="462.3" text-anchor="middle">30</text>
<text class="al" x="202.35" y="484.2" text-anchor="middle">time/ns</text>
<g stroke="#000" stroke-width="1.7" fill="none" stroke-linecap="butt">
<rect x="383.9" y="246.0" width="282.20" height="197.15"/>
<path stroke-width="1.4" d="M383.90,443.15v4.4 M407.42,443.15v2.4 M430.93,443.15v4.4 M454.45,443.15v2.4 M477.97,443.15v4.4 M501.48,443.15v2.4 M525.00,443.15v4.4 M548.52,443.15v2.4 M572.03,443.15v4.4 M595.55,443.15v2.4 M619.07,443.15v4.4 M642.58,443.15v2.4 M666.10,443.15v4.4 M383.9,443.15h-4.8 M383.9,423.85h-2.6 M383.9,412.57h-2.6 M383.9,404.56h-2.6 M383.9,398.35h-2.6 M383.9,393.27h-2.6 M383.9,388.98h-2.6 M383.9,385.26h-2.6 M383.9,381.98h-2.6 M383.9,379.05h-4.8 M383.9,359.75h-2.6 M383.9,348.47h-2.6 M383.9,340.46h-2.6 M383.9,334.25h-2.6 M383.9,329.17h-2.6 M383.9,324.88h-2.6 M383.9,321.16h-2.6 M383.9,317.88h-2.6 M383.9,314.95h-4.8 M383.9,295.65h-2.6 M383.9,284.37h-2.6 M383.9,276.36h-2.6 M383.9,270.15h-2.6 M383.9,265.07h-2.6 M383.9,260.78h-2.6 M383.9,257.06h-2.6 M383.9,253.78h-2.6 M383.9,250.85h-4.8"/>
</g>
<g clip-path="url(#cBR)" fill="none" stroke-width="1.2" stroke-linejoin="round">
<polyline stroke="#000" points="383.9,443.1 384.0,438.2 384.2,437.2 384.3,443.1 384.5,443.1 384.6,443.1 384.7,443.1 384.9,443.1 385.0,443.1 385.2,442.5 385.3,443.1 385.5,443.1 385.6,442.5 385.7,443.1 385.9,443.1 386.0,443.1 386.2,443.1 386.3,443.1 386.4,443.1 386.6,443.1 386.7,443.1 386.9,443.1 387.0,443.1 387.1,443.1 387.3,443.1 387.4,428.5 387.6,443.1 387.7,443.1 387.9,442.3 388.0,443.1 388.1,443.1 388.3,443.1 388.4,443.1 388.6,443.1 388.7,443.1 388.8,443.1 389.0,438.9 389.1,440.6 389.3,443.1 389.4,443.1 389.5,443.1 389.7,441.8 389.8,443.1 390.0,434.5 390.1,443.1 390.3,436.5 390.4,443.1 390.5,443.1 390.7,443.1 390.8,443.1 391.0,439.5 391.1,443.1 391.2,439.8 391.4,443.1 391.5,443.1 391.7,443.1 391.8,435.8 391.9,443.1 392.1,443.1 392.2,443.1 392.4,443.1 392.5,443.1 392.7,436.0 392.8,443.1 392.9,443.1 393.1,443.1 393.2,443.1 393.4,441.7 393.5,443.1 393.6,438.0 393.8,443.1 393.9,443.1 394.1,443.1 394.2,443.1 394.3,443.1 394.5,438.7 394.6,440.4 394.8,443.1 394.9,443.1 395.1,436.2 395.2,443.1 395.3,443.1 395.5,442.9 395.6,443.1 395.8,443.1 395.9,443.1 396.0,443.1 396.2,443.1 396.3,443.1 396.5,443.1 396.6,443.1 396.7,443.1 396.9,443.1 397.0,443.1 397.2,443.1 397.3,443.1 397.5,442.6 397.6,443.1 397.7,443.1 397.9,443.1 398.0,440.3 398.2,443.1 398.3,443.1 398.4,443.1 398.6,443.1 398.7,443.1 398.9,443.1 399.0,442.6 399.1,443.1 399.3,443.1 399.4,443.1 399.6,443.1 399.7,438.7 399.9,443.1 400.0,443.1 400.1,443.1 400.3,443.1 400.4,443.1 400.6,443.1 400.7,440.1 400.8,443.1 401.0,443.1 401.1,443.1 401.3,443.1 401.4,443.1 401.5,443.1 401.7,443.1 401.8,443.1 402.0,443.1 402.1,443.1 402.3,442.4 402.4,443.1 402.5,443.1 402.7,442.3 402.8,443.1 403.0,438.3 403.1,441.1 403.2,443.1 403.4,435.4 403.5,435.9 403.7,443.1 403.8,443.1 403.9,443.1 404.1,443.1 404.2,440.2 404.4,441.9 404.5,443.1 404.7,440.0 404.8,441.6 404.9,443.1 405.1,443.1 405.2,439.4 405.4,443.1 405.5,443.1 405.6,443.1 405.8,437.0 405.9,441.9 406.1,440.7 406.2,443.1 406.3,443.1 406.5,438.4 406.6,443.1 406.8,438.6 406.9,443.1 407.1,443.1 407.2,442.6 407.3,440.6 407.5,435.4 407.6,443.1 407.8,435.7 407.9,443.1 408.0,443.1 408.2,443.1 408.3,440.7 408.5,436.9 408.6,443.1 408.7,443.1 408.9,443.1 409.0,443.1 409.2,443.1 409.3,443.1 409.5,443.1 409.6,443.1 409.7,443.1 409.9,442.3 410.0,443.1 410.2,443.1 410.3,442.5 410.4,443.1 410.6,443.1 410.7,435.6 410.9,443.1 411.0,437.8 411.1,443.1 411.3,442.2 411.4,443.1 411.6,443.1 411.7,443.1 411.9,432.2 412.0,443.1 412.1,443.1 412.3,437.1 412.4,443.1 412.6,443.1 412.7,443.1 412.8,443.1 413.0,443.1 413.1,443.1 413.3,443.1 413.4,440.7 413.5,443.1 413.7,443.1 413.8,443.1 414.0,440.4 414.1,443.1 414.3,438.6 414.4,440.0 414.5,443.1 414.7,443.1 414.8,442.4 415.0,441.6 415.1,435.3 415.2,443.1 415.4,436.2 415.5,443.1 415.7,442.7 415.8,443.1 415.9,443.1 416.1,436.9 416.2,443.1 416.4,440.7 416.5,443.1 416.7,443.1 416.8,443.1 416.9,443.1 417.1,443.1 417.2,443.1 417.4,439.5 417.5,440.6 417.6,443.1 417.8,443.1 417.9,443.1 418.1,434.6 418.2,443.1 418.3,443.1 418.5,443.1 418.6,443.1 418.8,443.1 418.9,443.1 419.1,443.0 419.2,439.3 419.3,443.1 419.5,440.2 419.6,434.4 419.8,440.9 419.9,441.6 420.0,443.1 420.2,437.5 420.3,434.4 420.5,438.2 420.6,442.8 420.7,440.6 420.9,429.2 421.0,443.1 421.2,443.1 421.3,438.9 421.5,443.1 421.6,443.1 421.7,443.1 421.9,443.1 422.0,443.1 422.2,443.1 422.3,443.1 422.4,443.1 422.6,442.7 422.7,433.1 422.9,435.2 423.0,443.1 423.1,443.1 423.3,443.1 423.4,443.1 423.6,443.1 423.7,443.1 423.9,437.3 424.0,443.1 424.1,439.3 424.3,443.1 424.4,439.3 424.6,443.1 424.7,443.1 424.8,443.1 425.0,443.1 425.1,443.1 425.3,443.1 425.4,443.1 425.5,443.1 425.7,443.1 425.8,443.1 426.0,443.1 426.1,443.1 426.3,438.5 426.4,443.1 426.5,443.1 426.7,443.1 426.8,443.1 427.0,438.8 427.1,443.1 427.2,443.1 427.4,439.5 427.5,443.1 427.7,439.3 427.8,443.1 427.9,443.1 428.1,443.1 428.2,437.1 428.4,443.1 428.5,443.1 428.7,440.2 428.8,443.1 428.9,441.9 429.1,443.1 429.2,443.1 429.4,443.1 429.5,443.1 429.6,441.8"/>
<polyline stroke="#000" points="431.6,256.2 431.8,255.0 431.9,253.9 432.0,252.5 432.2,251.3 432.3,250.6 432.5,250.7 432.6,250.9 432.7,250.9 432.9,251.1 433.0,251.5 433.2,251.6 433.3,252.2 433.5,252.3 433.6,252.4 433.7,253.2 433.9,253.5 434.0,253.6 434.2,253.6 434.3,254.3 434.4,254.8 434.6,254.9 434.7,255.5 434.9,256.2 435.0,256.4 435.1,256.4 435.3,257.2 435.4,257.5 435.6,257.4 435.7,257.8 435.9,257.9 436.0,258.6 436.1,258.8 436.3,259.0 436.4,259.4 436.6,259.5 436.7,259.7 436.8,259.8 437.0,260.2 437.1,260.5 437.3,260.6 437.4,260.7 437.5,260.9 437.7,261.3 437.8,261.6 438.0,261.9 438.1,262.2 438.3,262.2 438.4,262.5 438.5,262.4 438.7,262.9 438.8,263.0 439.0,263.1 439.1,263.9 439.2,263.9 439.4,264.1 439.5,264.2 439.7,264.7 439.8,264.6 439.9,264.8 440.1,265.1 440.2,265.3 440.4,265.9 440.5,265.7 440.7,266.2 440.8,266.7 440.9,266.6 441.1,266.7 441.2,267.2 441.4,267.6 441.5,267.7 441.6,267.8 441.8,268.5 441.9,268.0 442.1,268.2 442.2,268.7 442.3,268.7 442.5,269.1 442.6,269.6 442.8,269.4 442.9,269.7 443.1,270.2 443.2,270.6 443.3,270.7 443.5,270.4 443.6,271.0 443.8,270.5 443.9,271.5 444.0,271.5 444.2,271.8 444.3,272.1 444.5,272.1 444.6,272.7 444.7,272.7 444.9,273.2 445.0,273.7 445.2,273.4 445.3,273.9 445.5,274.1 445.6,273.9 445.7,274.3 445.9,274.4 446.0,274.3 446.2,274.9 446.3,275.1 446.4,275.7 446.6,275.4 446.7,275.6 446.9,276.3 447.0,276.1 447.1,276.4 447.3,276.7 447.4,276.9 447.6,276.5 447.7,277.5 447.9,277.6 448.0,277.8 448.1,278.0 448.3,278.7 448.4,278.3 448.6,278.4 448.7,278.4 448.8,279.2 449.0,279.6 449.1,279.3 449.3,280.0 449.4,279.9 449.5,280.2 449.7,280.3 449.8,280.7 450.0,280.6 450.1,281.2 450.3,280.6 450.4,281.2 450.5,281.8 450.7,282.1 450.8,282.1 451.0,282.4 451.1,282.7 451.2,282.3 451.4,282.6 451.5,283.4 451.7,283.2 451.8,283.5 451.9,283.5 452.1,284.1 452.2,283.6 452.4,284.3 452.5,284.0 452.7,284.9 452.8,284.6 452.9,285.2 453.1,284.9 453.2,285.6 453.4,286.1 453.5,286.3 453.6,286.4 453.8,286.2 453.9,286.5 454.1,286.8 454.2,286.7 454.3,286.7 454.5,287.7 454.6,287.3 454.8,287.2 454.9,288.2 455.0,288.4 455.2,288.3 455.3,288.6 455.5,289.0 455.6,289.1 455.8,288.8 455.9,289.2 456.0,289.9 456.2,290.4 456.3,290.4 456.5,290.2 456.6,290.7 456.7,290.9 456.9,290.6 457.0,291.1 457.2,291.4 457.3,291.4 457.4,291.2 457.6,291.7 457.7,291.8 457.9,292.2 458.0,291.9 458.2,293.0 458.3,293.2 458.4,293.2 458.6,292.5 458.7,292.9 458.9,294.0 459.0,293.9 459.1,293.8 459.3,294.2 459.4,294.1 459.6,294.7 459.7,295.3 459.8,294.7 460.0,294.7 460.1,295.9 460.3,296.2 460.4,295.9 460.6,296.6 460.7,296.0 460.8,296.7 461.0,296.2 461.1,296.8 461.3,296.8 461.4,296.8 461.5,297.3 461.7,297.8 461.8,297.3 462.0,298.3 462.1,297.5 462.2,298.4 462.4,298.6 462.5,298.4 462.7,298.6 462.8,298.8 463.0,299.7 463.1,299.6 463.2,299.4 463.4,299.5 463.5,299.9 463.7,299.6 463.8,300.3 463.9,300.1 464.1,300.2 464.2,300.7 464.4,301.1 464.5,300.9 464.6,301.2 464.8,301.3 464.9,302.1 465.1,301.7 465.2,301.5 465.4,302.4 465.5,302.4 465.6,302.7 465.8,302.5 465.9,303.8 466.1,302.6 466.2,303.2 466.3,303.6 466.5,303.6 466.6,303.5 466.8,303.9 466.9,304.0 467.0,304.0 467.2,304.6 467.3,304.5 467.5,304.4 467.6,304.9 467.8,305.6 467.9,305.2 468.0,304.9 468.2,306.0 468.3,305.9 468.5,306.1 468.6,306.0 468.7,306.8 468.9,306.8 469.0,306.1 469.2,306.8 469.3,307.6 469.4,307.1 469.6,307.6 469.7,307.2 469.9,308.7 470.0,308.1 470.2,307.9 470.3,309.1 470.4,309.0 470.6,308.7 470.7,309.0 470.9,309.3 471.0,309.3 471.1,310.2 471.3,310.1 471.4,309.2 471.6,310.4 471.7,310.1 471.8,310.5 472.0,310.2 472.1,310.6 472.3,310.8 472.4,310.6 472.6,311.1 472.7,312.2 472.8,311.9 473.0,311.2 473.1,311.5 473.3,312.2 473.4,313.1 473.5,312.8 473.7,311.7 473.8,312.3 474.0,312.4 474.1,313.9 474.2,314.0 474.4,313.8 474.5,314.3 474.7,313.8 474.8,314.5 475.0,314.0 475.1,314.4 475.2,314.8 475.4,314.4 475.5,314.6 475.7,314.9 475.8,315.4 475.9,315.4 476.1,316.5 476.2,316.6 476.4,316.2 476.5,315.9 476.6,315.3 476.8,316.1 476.9,317.0 477.1,316.9 477.2,317.5 477.4,317.0 477.5,317.2 477.6,317.4 477.8,317.4 477.9,317.1 478.1,317.5 478.2,318.6 478.3,317.7 478.5,318.8 478.6,318.3 478.8,318.6 478.9,318.0 479.0,319.0 479.2,319.2 479.3,319.4 479.5,319.0 479.6,319.5 479.8,319.9 479.9,319.5 480.0,319.0 480.2,319.4 480.3,319.6 480.5,320.9 480.6,320.8 480.7,320.8 480.9,322.0 481.0,320.3 481.2,322.2 481.3,321.3 481.4,322.4 481.6,321.8 481.7,321.6 481.9,321.9 482.0,322.8 482.2,322.9 482.3,322.2 482.4,322.9 482.6,322.9 482.7,322.6 482.9,324.7 483.0,323.3 483.1,322.9 483.3,322.8 483.4,323.5 483.6,324.5 483.7,323.7 483.8,323.3 484.0,324.9 484.1,325.1 484.3,324.9 484.4,325.3 484.6,326.4 484.7,326.7 484.8,326.3 485.0,326.0 485.1,325.5 485.3,326.3 485.4,326.0 485.5,325.5 485.7,324.7 485.8,326.1 486.0,327.3 486.1,326.3 486.2,327.0 486.4,327.0 486.5,326.8 486.7,327.0 486.8,328.5 487.0,328.5 487.1,327.8 487.2,327.7 487.4,327.0 487.5,328.1 487.7,328.8 487.8,329.0 487.9,329.3 488.1,329.8 488.2,330.0 488.4,329.7 488.5,329.4 488.6,330.1 488.8,329.8 488.9,330.1 489.1,330.2 489.2,330.5 489.4,330.2 489.5,330.5 489.6,332.4 489.8,330.7 489.9,330.9 490.1,331.6 490.2,331.2 490.3,331.9 490.5,331.5 490.6,332.3 490.8,331.5 490.9,331.8 491.0,333.2 491.2,332.8 491.3,332.1 491.5,332.4 491.6,332.7 491.8,333.7 491.9,333.6 492.0,333.1 492.2,333.2 492.3,333.6 492.5,334.3 492.6,334.0 492.7,334.3 492.9,334.9 493.0,335.0 493.2,335.0 493.3,335.6 493.4,334.4 493.6,334.4 493.7,334.4 493.9,335.7 494.0,335.9 494.2,335.3 494.3,335.9 494.4,336.0 494.6,336.1 494.7,337.2 494.9,335.3 495.0,337.4 495.1,337.6 495.3,336.1 495.4,337.6 495.6,336.2 495.7,336.8 495.8,337.0 496.0,337.7 496.1,338.6 496.3,338.5 496.4,337.7 496.6,338.0 496.7,339.0 496.8,339.1 497.0,339.0 497.1,338.6 497.3,338.4 497.4,338.2 497.5,339.2 497.7,338.1 497.8,338.7 498.0,338.3 498.1,340.2 498.2,339.3 498.4,339.0 498.5,341.3 498.7,339.4 498.8,340.0 499.0,339.7 499.1,340.4 499.2,339.8 499.4,341.2 499.5,341.4 499.7,340.6 499.8,340.7 499.9,342.5 500.1,340.6 500.2,340.8 500.4,341.1 500.5,342.5 500.6,341.2 500.8,341.9 500.9,341.7 501.1,342.6 501.2,343.0 501.4,343.4 501.5,343.5 501.6,342.4 501.8,343.9 501.9,343.9 502.1,343.3 502.2,343.9 502.3,345.5 502.5,344.5 502.6,344.4 502.8,343.0 502.9,343.8 503.0,345.3 503.2,345.6 503.3,345.2 503.5,344.8 503.6,345.7 503.8,344.9 503.9,346.5 504.0,345.2 504.2,344.7 504.3,348.1 504.5,345.9 504.6,345.8 504.7,345.8 504.9,346.2 505.0,346.5 505.2,346.4 505.3,346.7 505.4,346.8 505.6,345.7 505.7,346.3 505.9,346.5 506.0,348.0 506.2,348.0 506.3,346.8 506.4,348.8 506.6,347.1 506.7,349.3 506.9,346.5 507.0,347.3 507.1,349.0 507.3,349.1 507.4,350.7 507.6,349.0 507.7,348.1 507.8,348.7 508.0,349.6 508.1,347.7 508.3,349.1 508.4,349.4 508.6,350.2 508.7,349.5 508.8,347.9 509.0,349.9 509.1,352.0 509.3,350.4 509.4,349.0 509.5,349.8 509.7,351.5 509.8,350.8 510.0,352.7 510.1,350.8 510.2,352.4 510.4,352.2 510.5,352.3 510.7,352.6 510.8,350.5 511.0,350.9 511.1,352.6 511.2,352.4 511.4,351.1 511.5,353.0 511.7,353.3 511.8,353.8 511.9,351.7 512.1,353.1 512.2,353.4 512.4,354.0 512.5,354.6 512.6,352.9 512.8,354.7 512.9,354.6 513.1,355.9 513.2,355.5 513.4,355.0 513.5,355.1 513.6,356.3 513.8,355.5 513.9,355.2 514.1,357.9 514.2,354.7 514.3,355.7 514.5,356.9 514.6,356.0 514.8,355.4 514.9,356.0 515.0,356.1 515.2,356.2 515.3,355.7 515.5,357.9 515.6,357.2 515.8,356.4 515.9,356.9 516.0,358.1 516.2,357.5 516.3,358.0 516.5,357.4 516.6,359.3 516.7,359.4 516.9,359.4 517.0,358.1 517.2,355.6 517.3,357.2 517.4,357.1 517.6,358.5 517.7,357.0 517.9,358.4 518.0,358.8 518.2,357.9 518.3,360.5 518.4,361.7 518.6,360.7 518.7,358.1 518.9,358.7 519.0,359.6 519.1,360.2 519.3,360.2 519.4,359.8 519.6,361.3 519.7,359.6 519.8,361.7 520.0,359.3 520.1,361.2 520.3,362.0 520.4,361.4 520.6,362.3 520.7,361.5 520.8,363.6 521.0,362.2 521.1,361.7 521.3,361.4 521.4,362.4 521.5,360.8 521.7,364.2 521.8,362.6 522.0,363.1 522.1,362.6 522.2,363.1 522.4,361.4 522.5,363.0 522.7,364.2 522.8,360.5 523.0,363.4 523.1,363.7 523.2,362.7 523.4,364.5 523.5,364.2 523.7,363.1 523.8,365.6 523.9,364.8 524.1,363.3 524.2,362.5 524.4,364.8 524.5,364.9 524.6,363.7 524.8,366.9 524.9,366.0 525.1,366.3 525.2,368.0 525.4,369.3 525.5,366.2 525.6,364.7 525.8,365.1 525.9,364.6 526.1,369.8 526.2,366.5 526.3,364.9 526.5,367.7 526.6,368.4 526.8,366.4 526.9,366.9 527.0,366.3 527.2,367.2 527.3,365.8 527.5,366.6 527.6,367.3 527.8,368.2 527.9,366.9 528.0,368.8 528.2,366.9 528.3,366.8 528.5,367.1 528.6,370.1 528.7,368.0 528.9,368.2 529.0,367.7 529.2,371.0 529.3,369.9 529.4,369.3 529.6,367.6 529.7,370.2 529.9,368.4 530.0,369.5 530.2,367.4 530.3,369.5 530.4,372.3 530.6,370.6 530.7,370.0 530.9,368.8 531.0,369.7 531.1,371.1 531.3,372.6 531.4,370.9 531.6,371.2 531.7,369.4 531.8,370.0 532.0,373.4 532.1,374.9 532.3,372.2 532.4,371.4 532.6,373.3 532.7,372.7 532.8,370.5 533.0,371.3 533.1,374.9 533.3,372.0 533.4,372.4 533.5,373.0 533.7,372.1 533.8,372.2 534.0,369.8 534.1,372.9 534.2,374.4 534.4,374.2 534.5,372.6 534.7,371.1 534.8,373.0 535.0,373.2 535.1,373.7 535.2,374.8 535.4,374.2 535.5,376.2 535.7,373.5 535.8,374.0 535.9,374.5 536.1,376.2 536.2,375.4 536.4,376.0 536.5,374.8 536.6,375.8 536.8,375.0 536.9,374.3 537.1,373.9 537.2,377.4 537.4,376.5 537.5,377.8 537.6,374.4 537.8,377.6 537.9,374.5 538.1,377.3 538.2,375.2 538.3,377.6 538.5,377.3 538.6,376.9 538.8,377.0 538.9,377.5 539.0,376.4 539.2,375.7 539.3,376.3 539.5,378.5 539.6,380.9 539.8,377.8 539.9,382.9 540.0,377.2 540.2,377.4 540.3,380.4 540.5,377.7 540.6,379.7 540.7,376.9 540.9,380.2 541.0,380.4 541.2,380.2 541.3,378.9 541.4,381.1 541.6,376.1 541.7,380.2 541.9,377.0 542.0,380.3 542.2,380.5 542.3,381.2 542.4,381.5 542.6,379.6 542.7,378.5 542.9,380.4 543.0,382.2 543.1,380.4 543.3,382.2 543.4,385.8 543.6,380.9 543.7,384.3 543.8,382.4 544.0,381.4 544.1,382.2 544.3,382.1 544.4,379.3 544.6,380.3 544.7,379.6 544.8,381.8 545.0,381.9 545.1,379.5 545.3,383.6 545.4,382.0 545.5,382.5 545.7,382.3 545.8,381.9 546.0,382.8 546.1,381.8 546.2,384.8 546.4,382.5 546.5,385.4 546.7,381.8 546.8,382.1 547.0,384.2 547.1,384.9 547.2,384.1 547.4,383.2 547.5,387.1 547.7,386.2 547.8,382.9 547.9,385.0 548.1,387.1 548.2,389.1 548.4,385.8 548.5,388.4 548.6,385.0 548.8,385.4 548.9,382.3 549.1,387.9 549.2,384.5 549.4,388.0 549.5,387.8 549.6,386.4 549.8,387.7 549.9,383.1 550.1,386.4 550.2,387.8 550.3,382.6 550.5,388.2 550.6,387.5 550.8,387.3 550.9,388.5 551.0,386.0 551.2,385.1 551.3,389.8 551.5,388.3 551.6,388.3 551.8,390.4 551.9,390.4 552.0,388.6 552.2,389.7 552.3,387.5 552.5,386.7 552.6,388.0 552.7,387.9 552.9,390.3 553.0,389.8 553.2,388.0 553.3,387.8 553.4,389.1 553.6,388.0 553.7,389.7 553.9,391.6 554.0,388.8 554.2,390.3 554.3,393.1 554.4,388.1 554.6,389.1 554.7,388.5 554.9,391.0 555.0,387.4 555.1,389.3 555.3,388.5 555.4,391.8 555.6,391.2 555.7,388.2 555.8,390.8 556.0,390.8 556.1,388.1 556.3,388.9 556.4,390.7 556.6,387.7 556.7,394.6 556.8,391.6 557.0,392.7 557.1,388.9 557.3,388.8 557.4,392.9 557.5,391.7 557.7,390.3 557.8,391.2 558.0,391.8 558.1,390.4 558.2,388.8 558.4,392.4 558.5,395.1 558.7,393.1 558.8,393.0 559.0,393.8 559.1,391.7 559.2,391.7 559.4,391.5 559.5,392.4 559.7,393.0 559.8,395.9 559.9,394.5 560.1,395.7 560.2,393.3 560.4,394.3 560.5,394.2 560.6,393.1 560.8,395.0 560.9,392.3 561.1,392.4 561.2,396.7 561.4,392.1 561.5,395.6 561.6,396.6 561.8,395.7 561.9,398.0 562.1,394.5 562.2,392.8 562.3,399.0 562.5,394.6 562.6,394.4 562.8,394.3 562.9,394.5 563.0,395.0 563.2,397.1 563.3,394.2 563.5,395.5 563.6,394.6 563.8,395.7 563.9,397.1 564.0,396.7 564.2,395.4 564.3,394.6 564.5,401.6 564.6,400.0 564.7,401.1 564.9,398.4 565.0,398.9 565.2,397.0 565.3,398.2 565.4,394.7 565.6,399.1 565.7,399.5 565.9,399.8 566.0,398.7 566.2,397.7 566.3,399.3 566.4,400.5 566.6,401.7 566.7,398.0 566.9,399.9 567.0,401.0 567.1,399.4 567.3,398.1 567.4,394.5 567.6,395.5 567.7,401.3 567.8,400.3 568.0,404.4 568.1,404.5 568.3,404.3 568.4,397.5 568.6,400.1 568.7,403.5 568.8,401.5 569.0,401.2 569.1,401.7 569.3,396.9 569.4,405.4 569.5,401.5 569.7,399.9 569.8,399.4 570.0,406.5 570.1,400.3 570.2,404.1 570.4,402.4 570.5,405.2 570.7,399.3 570.8,394.4 571.0,398.9 571.1,402.1 571.2,406.2 571.4,399.5 571.5,398.8 571.7,404.6 571.8,399.6 571.9,406.8 572.1,405.4 572.2,401.7 572.4,405.9 572.5,400.4 572.6,399.0 572.8,402.3 572.9,401.3 573.1,398.8 573.2,401.4 573.4,399.6 573.5,399.4 573.6,405.8 573.8,397.9 573.9,400.2 574.1,402.8 574.2,401.2 574.3,402.6 574.5,402.9 574.6,406.3 574.8,404.7 574.9,404.6 575.0,401.1 575.2,402.7 575.3,402.9 575.5,404.4 575.6,401.0 575.8,411.6 575.9,406.8 576.0,402.0 576.2,405.6 576.3,402.9 576.5,400.7 576.6,402.7 576.7,409.1 576.9,405.5 577.0,408.3 577.2,403.9 577.3,402.5 577.4,405.9 577.6,404.0 577.7,406.0 577.9,400.8 578.0,405.3 578.2,405.1 578.3,404.3 578.4,403.1 578.6,404.1 578.7,406.1 578.9,406.0 579.0,404.8 579.1,404.7 579.3,407.4 579.4,408.1 579.6,407.2 579.7,405.4 579.8,408.0 580.0,410.0 580.1,407.8 580.3,408.4 580.4,405.4 580.6,408.6 580.7,408.4 580.8,402.5 581.0,406.2 581.1,410.2 581.3,404.3 581.4,408.7 581.5,410.1 581.7,406.0 581.8,412.2 582.0,408.2 582.1,406.5 582.2,406.1 582.4,409.8 582.5,409.8 582.7,408.6 582.8,405.2 583.0,414.3 583.1,406.3 583.2,407.8 583.4,405.1 583.5,412.3 583.7,405.8 583.8,411.7 583.9,408.2 584.1,410.4 584.2,417.6 584.4,409.5 584.5,408.3 584.6,407.1 584.8,411.5 584.9,413.4 585.1,407.7 585.2,410.9 585.4,406.9 585.5,406.0 585.6,410.8 585.8,410.7 585.9,412.5 586.1,417.2 586.2,410.4 586.3,408.3 586.5,407.5 586.6,410.7 586.8,405.6 586.9,412.4 587.0,410.9 587.2,412.6 587.3,412.4 587.5,411.9 587.6,413.4 587.8,412.6 587.9,410.4 588.0,411.0 588.2,414.9 588.3,410.0 588.5,414.3 588.6,410.3 588.7,411.5 588.9,418.6 589.0,415.4 589.2,409.2 589.3,414.2 589.4,414.3 589.6,413.6 589.7,411.9 589.9,410.6 590.0,413.4 590.2,407.6 590.3,414.5 590.4,414.2 590.6,413.3 590.7,412.3 590.9,408.5 591.0,406.3 591.1,414.1 591.3,413.6 591.4,411.2 591.6,413.6 591.7,410.7 591.8,417.1 592.0,410.8 592.1,421.7 592.3,411.9 592.4,411.6 592.6,406.6 592.7,417.0 592.8,411.7 593.0,411.9 593.1,417.3 593.3,413.3 593.4,417.1 593.5,418.4 593.7,419.9 593.8,415.1 594.0,418.2 594.1,422.5 594.2,413.7 594.4,421.1 594.5,412.5 594.7,414.0 594.8,417.8 595.0,420.9 595.1,418.3 595.2,420.1 595.4,416.5 595.5,416.5 595.7,407.9 595.8,423.7 595.9,417.6 596.1,413.7 596.2,412.2 596.4,411.4 596.5,419.4 596.6,413.1 596.8,428.3 596.9,416.7 597.1,413.2 597.2,413.7 597.3,421.6 597.5,419.3 597.6,425.2 597.8,419.1 597.9,421.8 598.1,415.5 598.2,419.4 598.3,414.5 598.5,417.1 598.6,418.0 598.8,411.1 598.9,413.0 599.0,422.1 599.2,412.4 599.3,414.4 599.5,412.7 599.6,415.6 599.7,424.7 599.9,418.7 600.0,428.0 600.2,423.1 600.3,420.2 600.5,413.3 600.6,417.5 600.7,416.9 600.9,415.1 601.0,421.4 601.2,414.1 601.3,417.1 601.4,421.8 601.6,420.3 601.7,419.0 601.9,416.0 602.0,413.4 602.1,419.5 602.3,419.2 602.4,412.4 602.6,408.5 602.7,412.5 602.9,417.9 603.0,420.0 603.1,416.2 603.3,417.6 603.4,422.0 603.6,414.2 603.7,410.7 603.8,422.4 604.0,422.2 604.1,421.1 604.3,424.5 604.4,416.3 604.5,425.5 604.7,416.9 604.8,417.9 605.0,416.7 605.1,425.9 605.3,419.0 605.4,418.6 605.5,416.4 605.7,418.3 605.8,422.2 606.0,415.7 606.1,415.0 606.2,415.1 606.4,423.1 606.5,418.1 606.7,424.0 606.8,420.9 606.9,417.4 607.1,426.6 607.2,411.1 607.4,415.9 607.5,423.7 607.7,422.9 607.8,420.9 607.9,421.2 608.1,426.0 608.2,421.3 608.4,427.8 608.5,423.4 608.6,414.5 608.8,421.2 608.9,422.6 609.1,415.3 609.2,419.8 609.3,418.7 609.5,423.6 609.6,417.1 609.8,422.7 609.9,418.0 610.1,418.9 610.2,415.2 610.3,417.7 610.5,421.6 610.6,426.3 610.8,422.9 610.9,424.7 611.0,416.1 611.2,423.7 611.3,433.5 611.5,420.4 611.6,418.8 611.7,426.1 611.9,419.2 612.0,428.3 612.2,421.2 612.3,422.9 612.5,421.0 612.6,420.6 612.7,425.4 612.9,419.2 613.0,424.7 613.2,422.0 613.3,417.1 613.4,426.8 613.6,422.4 613.7,416.6 613.9,417.9 614.0,425.9 614.1,425.6 614.3,420.7 614.4,425.9 614.6,422.7 614.7,429.6 614.9,420.5 615.0,431.1 615.1,422.6 615.3,420.4 615.4,426.3 615.6,431.1 615.7,429.5 615.8,433.3 616.0,416.6 616.1,433.4 616.3,429.8 616.4,422.2 616.5,423.4 616.7,419.5 616.8,418.5 617.0,421.9 617.1,424.1 617.3,426.5 617.4,424.7 617.5,420.1 617.7,421.4 617.8,421.4 618.0,432.7 618.1,427.8 618.2,427.4 618.4,426.7 618.5,429.4 618.7,421.4 618.8,420.0 618.9,417.3 619.1,426.9 619.2,424.9 619.4,424.1 619.5,424.6 619.7,428.7 619.8,421.3 619.9,435.7 620.1,427.0 620.2,435.0 620.4,422.1 620.5,432.0 620.6,430.7 620.8,425.0 620.9,430.2 621.1,423.9 621.2,426.9 621.3,417.4 621.5,431.3 621.6,429.2 621.8,422.8 621.9,424.7 622.1,423.3 622.2,426.7 622.3,421.4 622.5,423.9 622.6,420.0 622.8,432.6 622.9,424.4 623.0,426.6 623.2,423.8 623.3,430.4 623.5,422.2 623.6,432.7 623.7,422.0 623.9,423.4 624.0,435.8 624.2,424.1 624.3,436.8 624.5,423.5 624.6,434.7 624.7,426.4 624.9,427.4 625.0,435.0 625.2,436.5 625.3,423.9 625.4,428.6 625.6,421.6 625.7,426.5 625.9,415.7 626.0,425.6 626.1,419.1 626.3,424.8 626.4,426.1 626.6,424.1 626.7,430.4 626.9,429.8 627.0,419.7 627.1,427.6 627.3,432.7 627.4,424.4 627.6,431.0 627.7,426.4 627.8,421.8 628.0,421.3 628.1,419.3 628.3,421.8 628.4,423.9 628.5,424.4 628.7,425.6 628.8,427.2 629.0,417.8 629.1,427.4 629.3,420.0 629.4,427.6 629.5,421.8 629.7,443.1 629.8,426.4 630.0,430.4 630.1,420.5 630.2,420.8 630.4,430.4 630.5,427.7 630.7,423.2 630.8,425.9 630.9,426.9 631.1,423.0 631.2,434.5 631.4,420.5 631.5,425.3 631.7,443.1 631.8,432.3 631.9,427.9 632.1,418.3 632.2,427.6 632.4,436.0 632.5,421.6 632.6,425.7 632.8,427.6 632.9,422.9 633.1,429.6 633.2,428.2 633.3,423.2 633.5,425.6 633.6,423.3 633.8,429.6 633.9,420.6 634.1,435.7 634.2,435.4 634.3,425.5 634.5,429.4 634.6,426.9 634.8,427.7 634.9,428.7 635.0,433.6 635.2,426.5 635.3,422.2 635.5,432.4 635.6,420.0 635.7,421.3 635.9,432.5 636.0,424.4 636.2,434.1 636.3,428.7 636.5,434.1 636.6,430.9 636.7,439.2 636.9,429.0 637.0,433.9 637.2,433.1 637.3,440.2 637.4,428.2 637.6,420.3 637.7,430.3 637.9,429.2 638.0,434.7 638.1,430.9 638.3,433.1 638.4,437.6 638.6,433.4 638.7,431.3 638.9,427.1 639.0,430.4 639.1,427.3 639.3,423.0 639.4,424.5 639.6,431.0 639.7,439.4 639.8,429.8 640.0,428.5 640.1,424.4 640.3,428.3 640.4,417.7 640.5,430.7 640.7,425.9 640.8,434.1 641.0,434.7 641.1,430.7 641.3,428.2 641.4,425.9 641.5,443.1 641.7,424.1 641.8,422.6 642.0,423.2 642.1,425.4 642.2,430.0 642.4,426.7 642.5,423.6 642.7,434.9 642.8,426.3 642.9,427.1 643.1,430.3 643.2,421.7 643.4,433.4 643.5,435.1 643.7,429.9 643.8,433.1 643.9,423.6 644.1,439.8 644.2,437.4 644.4,428.3 644.5,426.2 644.6,436.7 644.8,423.9 644.9,442.0 645.1,425.1 645.2,435.0 645.3,432.5 645.5,422.0 645.6,430.4 645.8,433.6 645.9,428.9 646.1,421.8 646.2,429.8 646.3,434.5 646.5,429.2 646.6,437.5 646.8,434.1 646.9,433.4 647.0,427.2 647.2,433.0 647.3,428.0 647.5,425.0 647.6,423.2 647.7,441.0 647.9,430.8 648.0,437.3 648.2,427.4 648.3,429.3 648.5,430.6 648.6,433.5 648.7,436.2 648.9,441.3 649.0,426.0 649.2,431.8 649.3,430.5 649.4,429.1 649.6,426.9 649.7,422.3 649.9,431.8 650.0,427.6 650.1,441.1 650.3,433.0 650.4,434.9 650.6,434.4 650.7,425.4 650.9,430.4 651.0,430.6 651.1,430.6 651.3,432.2 651.4,432.2 651.6,434.7 651.7,434.0 651.8,433.4 652.0,432.1 652.1,443.1 652.3,430.8 652.4,431.4 652.5,429.1 652.7,437.8 652.8,436.7 653.0,427.3 653.1,435.4 653.3,428.9 653.4,435.1 653.5,438.5 653.7,440.4 653.8,434.8 654.0,434.0 654.1,438.8 654.2,424.8 654.4,431.3 654.5,436.6 654.7,424.5 654.8,427.4 654.9,435.9 655.1,437.6 655.2,432.6 655.4,428.0 655.5,440.3 655.7,426.1 655.8,433.7 655.9,427.5 656.1,432.4 656.2,429.2 656.4,428.5 656.5,425.5 656.6,435.8 656.8,423.1 656.9,439.5 657.1,430.1 657.2,428.4 657.3,431.6 657.5,427.4 657.6,442.1 657.8,432.1 657.9,427.0 658.1,431.8 658.2,438.5 658.3,431.0 658.5,430.9 658.6,437.8 658.8,425.6 658.9,435.0 659.0,438.1 659.2,431.4 659.3,435.7 659.5,433.0 659.6,430.8 659.7,434.3 659.9,429.0 660.0,430.5 660.2,426.2 660.3,438.0 660.5,431.7 660.6,430.8 660.7,430.6 660.9,443.1 661.0,438.5 661.2,430.5 661.3,429.3 661.4,432.0 661.6,431.2 661.7,426.3 661.9,434.2 662.0,436.7 662.1,425.2 662.3,429.2 662.4,433.2 662.6,436.4 662.7,424.8 662.9,433.8 663.0,437.1 663.1,426.2 663.3,441.7 663.4,433.2 663.6,429.2 663.7,434.0 663.8,435.3 664.0,430.2 664.1,439.9 664.3,433.6 664.4,428.8 664.5,439.1 664.7,425.9 664.8,433.7 665.0,432.9 665.1,435.2 665.3,429.6 665.4,435.3 665.5,431.4 665.7,426.5 665.8,426.5 666.0,442.4 666.1,426.2"/>
<polyline stroke="#f00" points="383.9,443.1 384.0,443.1 384.2,443.1 384.3,443.1 384.5,443.1 384.6,442.5 384.7,439.2 384.9,443.1 385.0,443.1 385.2,440.7 385.3,438.7 385.5,443.1 385.6,443.1 385.7,443.1 385.9,443.1 386.0,443.1 386.2,443.1 386.3,443.1 386.4,443.1 386.6,443.1 386.7,443.1 386.9,441.3 387.0,443.1 387.1,443.1 387.3,443.1 387.4,442.7 387.6,443.1 387.7,443.1 387.9,435.9 388.0,443.1 388.1,443.1 388.3,443.1 388.4,443.1 388.6,443.1 388.7,438.9 388.8,443.1 389.0,443.1 389.1,437.2 389.3,443.1 389.4,433.4 389.5,443.1 389.7,443.1 389.8,438.8 390.0,443.1 390.1,443.1 390.3,443.1 390.4,443.1 390.5,443.1 390.7,443.1 390.8,439.7 391.0,443.1 391.1,443.1 391.2,443.1 391.4,443.1 391.5,443.1 391.7,441.8 391.8,441.5 391.9,438.0 392.1,443.1 392.2,443.1 392.4,441.1 392.5,443.1 392.7,443.1 392.8,443.1 392.9,443.1 393.1,440.4 393.2,443.1 393.4,443.1 393.5,443.1 393.6,441.1 393.8,439.6 393.9,443.1 394.1,443.1 394.2,443.1 394.3,438.0 394.5,443.1 394.6,443.1 394.8,443.1 394.9,443.1 395.1,443.1 395.2,443.1 395.3,443.1 395.5,443.1 395.6,439.5 395.8,443.1 395.9,437.7 396.0,443.1 396.2,443.1 396.3,443.1 396.5,443.1 396.6,443.1 396.7,436.7 396.9,443.1 397.0,443.1 397.2,443.1 397.3,443.1 397.5,443.1 397.6,443.1 397.7,443.1 397.9,438.7 398.0,443.1 398.2,441.7 398.3,437.6 398.4,439.6 398.6,443.1 398.7,435.1 398.9,443.1 399.0,436.7 399.1,443.1 399.3,443.1 399.4,443.1 399.6,443.1 399.7,443.1 399.9,443.1 400.0,443.1 400.1,443.1 400.3,442.6 400.4,438.7 400.6,437.3 400.7,443.1 400.8,443.1 401.0,443.1 401.1,429.0 401.3,438.3 401.4,442.6 401.5,443.1 401.7,439.1 401.8,443.1 402.0,440.8 402.1,443.1 402.3,443.1 402.4,439.0 402.5,443.1 402.7,443.1 402.8,443.1 403.0,443.1 403.1,435.5 403.2,443.1 403.4,443.1 403.5,443.1 403.7,440.5 403.8,443.1 403.9,443.1 404.1,443.1 404.2,443.1 404.4,443.1 404.5,443.1 404.7,443.1 404.8,443.1 404.9,438.0 405.1,443.1 405.2,443.1 405.4,427.6 405.5,441.0 405.6,443.1 405.8,440.7 405.9,443.1 406.1,437.2 406.2,443.1 406.3,433.3 406.5,443.1 406.6,443.1 406.8,443.1 406.9,443.1 407.1,433.6 407.2,443.1 407.3,443.1 407.5,443.1 407.6,443.1 407.8,440.0 407.9,443.1 408.0,443.1 408.2,428.0 408.3,443.1 408.5,443.1 408.6,443.1 408.7,440.0 408.9,443.1 409.0,434.0 409.2,438.1 409.3,441.1 409.5,443.1 409.6,443.1 409.7,443.1 409.9,443.1 410.0,443.1 410.2,443.1 410.3,443.1 410.4,443.1 410.6,443.1 410.7,440.3 410.9,439.3 411.0,443.1 411.1,432.2 411.3,443.1 411.4,438.0 411.6,433.8 411.7,443.1 411.9,443.1 412.0,440.3 412.1,438.2 412.3,441.2 412.4,439.6 412.6,443.1 412.7,443.1 412.8,443.0 413.0,443.1 413.1,443.1 413.3,443.1 413.4,443.1 413.5,440.4 413.7,443.1 413.8,443.1 414.0,443.1 414.1,443.1 414.3,442.9 414.4,443.1 414.5,443.1 414.7,443.1 414.8,443.1 415.0,443.1 415.1,441.5 415.2,443.1 415.4,443.1 415.5,442.0 415.7,431.1 415.8,443.1 415.9,443.1 416.1,443.1 416.2,443.1 416.4,443.1 416.5,443.1 416.7,441.9 416.8,443.1 416.9,443.1 417.1,443.1 417.2,443.1 417.4,443.1 417.5,435.3 417.6,438.7 417.8,443.1 417.9,443.1 418.1,443.1 418.2,443.1 418.3,443.1 418.5,440.0 418.6,441.8 418.8,440.3 418.9,443.1 419.1,443.1 419.2,443.1 419.3,443.1 419.5,434.8 419.6,443.1 419.8,443.1 419.9,443.1 420.0,443.1 420.2,443.1 420.3,443.1 420.5,443.1 420.6,440.9 420.7,432.9 420.9,443.1 421.0,443.1 421.2,443.1 421.3,443.1 421.5,442.5 421.6,442.8 421.7,443.1 421.9,443.1 422.0,443.1 422.2,436.5 422.3,443.1 422.4,443.1 422.6,434.6 422.7,443.1 422.9,443.1 423.0,443.1 423.1,443.1 423.3,443.1 423.4,437.6 423.6,443.1 423.7,443.1 423.9,434.5 424.0,439.2 424.1,443.1 424.3,440.8 424.4,443.1 424.6,443.1 424.7,443.1 424.8,443.1 425.0,443.1 425.1,443.1 425.3,443.1 425.4,443.1 425.5,443.1 425.7,441.8 425.8,443.1 426.0,439.5 426.1,443.1 426.3,443.1 426.4,442.5 426.5,440.0 426.7,443.1 426.8,443.1 427.0,436.7 427.1,443.1 427.2,443.1 427.4,443.1 427.5,443.1 427.7,436.1 427.8,434.2 427.9,443.1 428.1,443.1 428.2,443.1 428.4,441.6 428.5,434.6 428.7,443.1 428.8,443.1 428.9,439.3 429.1,443.1 429.2,440.3 429.4,435.3 429.5,435.9 429.6,438.3 429.8,426.3 429.9,396.4 430.1,362.4 430.2,328.1 430.3,303.5 430.5,283.0 430.6,273.0 430.8,268.9 430.9,266.3 431.1,264.0 431.2,262.0 431.3,259.9 431.5,258.0 431.6,256.7 431.8,254.9 431.9,253.8 432.0,252.6 432.2,251.0 432.3,250.8 432.5,250.6 432.6,250.8 432.7,251.0 432.9,250.9 433.0,251.8 433.2,251.7 433.3,252.2 433.5,252.2 433.6,252.5 433.7,253.0 433.9,253.5 434.0,253.5 434.2,253.8 434.3,254.2 434.4,254.7 434.6,254.9 434.7,255.4 434.9,255.6 435.0,255.9 435.1,256.4 435.3,256.8 435.4,257.0 435.6,257.4 435.7,257.7 435.9,257.6 436.0,258.1 436.1,258.4 436.3,258.7 436.4,258.8 436.6,259.2 436.7,259.5 436.8,259.6 437.0,259.9 437.1,260.3 437.3,260.6 437.4,260.4 437.5,260.9 437.7,260.9 437.8,261.3 438.0,261.6 438.1,261.9 438.3,261.8 438.4,262.5 438.5,262.6 438.7,263.0 438.8,263.1 439.0,263.5 439.1,263.5 439.2,264.0 439.4,263.9 439.5,264.2 439.7,264.4 439.8,264.8 439.9,264.7 440.1,264.8 440.2,265.5 440.4,265.9 440.5,265.8 440.7,266.2 440.8,266.4 440.9,266.5 441.1,267.2 441.2,267.0 441.4,267.6 441.5,267.9 441.6,267.9 441.8,267.8 441.9,268.5 442.1,268.5 442.2,269.0 442.3,268.9 442.5,269.2 442.6,269.3 442.8,269.7 442.9,270.0 443.1,270.6 443.2,270.4 443.3,270.5 443.5,270.9 443.6,271.1 443.8,271.3 443.9,271.4 444.0,272.0 444.2,272.1 444.3,272.2 444.5,272.5 444.6,273.0 444.7,273.4 444.9,273.1 445.0,273.3 445.2,273.3 445.3,273.8 445.5,274.3 445.6,274.2 445.7,274.6 445.9,275.0 446.0,275.4 446.2,275.7 446.3,275.6 446.4,275.8 446.6,275.9 446.7,276.1 446.9,276.3 447.0,276.1 447.1,276.8 447.3,276.7 447.4,277.5 447.6,277.7 447.7,277.8 447.9,278.4 448.0,277.7 448.1,278.3 448.3,278.4 448.4,278.4 448.6,278.9 448.7,278.8 448.8,280.1 449.0,279.4 449.1,279.8 449.3,280.3 449.4,280.1 449.5,280.5 449.7,281.0 449.8,281.5 450.0,280.7 450.1,282.1 450.3,281.6 450.4,281.4 450.5,281.9 450.7,282.4 450.8,282.6 451.0,282.9 451.1,282.8 451.2,283.1 451.4,283.7 451.5,284.0 451.7,283.5 451.8,284.3 451.9,284.5 452.1,283.8 452.2,284.8 452.4,285.2 452.5,285.3 452.7,285.0 452.8,285.7 452.9,285.7 453.1,286.5 453.2,286.3 453.4,286.3 453.5,286.5 453.6,286.3 453.8,286.8 453.9,288.0 454.1,287.8 454.2,287.8 454.3,287.8 454.5,287.9 454.6,288.0 454.8,288.9 454.9,289.2 455.0,288.5 455.2,289.3 455.3,289.9 455.5,289.7 455.6,289.7 455.8,290.2 455.9,290.4 456.0,289.9 456.2,290.7 456.3,290.5 456.5,290.7 456.6,291.1 456.7,290.5 456.9,291.8 457.0,290.8 457.2,292.1 457.3,292.1 457.4,292.1 457.6,292.0 457.7,292.4 457.9,292.9 458.0,293.1 458.2,292.8 458.3,292.9 458.4,293.8 458.6,293.4 458.7,293.8 458.9,294.1 459.0,294.7 459.1,295.0 459.3,294.6 459.4,295.9 459.6,295.3 459.7,295.2 459.8,296.1 460.0,295.2 460.1,295.4 460.3,296.5 460.4,296.4 460.6,296.6 460.7,296.9 460.8,297.1 461.0,296.9 461.1,296.7 461.3,297.5 461.4,297.6 461.5,297.8 461.7,298.3 461.8,298.0 462.0,298.6 462.1,299.0 462.2,298.6 462.4,299.7 462.5,299.4 462.7,299.6 462.8,299.7 463.0,300.4 463.1,300.3 463.2,300.2 463.4,300.1 463.5,300.6 463.7,300.8 463.8,301.2 463.9,301.1 464.1,302.4 464.2,301.3 464.4,301.3 464.5,301.9 464.6,302.4 464.8,301.7 464.9,302.7 465.1,302.1 465.2,302.9 465.4,303.3 465.5,303.3 465.6,303.6 465.8,303.6 465.9,303.5 466.1,304.0 466.2,304.3 466.3,304.3 466.5,304.3 466.6,304.7 466.8,304.6 466.9,304.8 467.0,305.1 467.2,305.1 467.3,305.6 467.5,305.3 467.6,305.8 467.8,305.8 467.9,306.4 468.0,307.1 468.2,306.9 468.3,306.9 468.5,306.9 468.6,307.3 468.7,306.8 468.9,308.2 469.0,308.5 469.2,308.0 469.3,308.4 469.4,308.3 469.6,308.2 469.7,307.6 469.9,309.4 470.0,309.5 470.2,309.3 470.3,310.1 470.4,309.9 470.6,309.2 470.7,310.0 470.9,310.2 471.0,309.8 471.1,311.3 471.3,310.6 471.4,310.9 471.6,310.9 471.7,311.7 471.8,311.6 472.0,311.6 472.1,311.4 472.3,312.3 472.4,311.8 472.6,313.3 472.7,312.3 472.8,312.3 473.0,313.2 473.1,313.1 473.3,313.2 473.4,313.2 473.5,313.0 473.7,313.6 473.8,314.0 474.0,314.2 474.1,314.1 474.2,314.0 474.4,314.5 474.5,315.0 474.7,315.1 474.8,315.5 475.0,315.7 475.1,315.7 475.2,315.9 475.4,315.5 475.5,316.6 475.7,316.1 475.8,316.9 475.9,316.1 476.1,316.5 476.2,316.3 476.4,316.8 476.5,317.7 476.6,317.4 476.8,317.9 476.9,318.0 477.1,318.4 477.2,318.2 477.4,318.2 477.5,318.3 477.6,317.4 477.8,318.9 477.9,318.9 478.1,319.2 478.2,319.4 478.3,319.6 478.5,319.6 478.6,319.9 478.8,319.6 478.9,319.9 479.0,320.8 479.2,320.5 479.3,320.5 479.5,321.0 479.6,321.1 479.8,321.2 479.9,321.0 480.0,321.4 480.2,322.0 480.3,321.9 480.5,321.4 480.6,322.7 480.7,322.0 480.9,322.7 481.0,320.8 481.2,322.6 481.3,323.0 481.4,323.3 481.6,324.3 481.7,323.9 481.9,322.7 482.0,323.7 482.2,324.3 482.3,324.3 482.4,324.4 482.6,325.1 482.7,324.7 482.9,324.7 483.0,326.0 483.1,325.4 483.3,327.1 483.4,326.6 483.6,325.3 483.7,325.3 483.8,325.1 484.0,327.1 484.1,326.5 484.3,326.8 484.4,326.2 484.6,326.8 484.7,327.1 484.8,327.0 485.0,327.7 485.1,327.1 485.3,328.0 485.4,327.3 485.5,328.0 485.7,328.2 485.8,329.2 486.0,329.6 486.1,329.8 486.2,328.7 486.4,330.5 486.5,328.5 486.7,329.7 486.8,330.5 487.0,329.6 487.1,330.8 487.2,330.1 487.4,330.5 487.5,329.8 487.7,330.1 487.8,330.2 487.9,331.3 488.1,330.4 488.2,331.4 488.4,331.4 488.5,331.4 488.6,331.6 488.8,332.8 488.9,331.7 489.1,333.3 489.2,332.2 489.4,332.7 489.5,332.8 489.6,333.7 489.8,332.5 489.9,333.4 490.1,332.9 490.2,334.1 490.3,334.3 490.5,333.9 490.6,333.5 490.8,335.2 490.9,334.8 491.0,335.0 491.2,335.0 491.3,335.3 491.5,334.4 491.6,334.8 491.8,335.4 491.9,335.0 492.0,335.1 492.2,336.4 492.3,336.6 492.5,335.8 492.6,335.0 492.7,338.3 492.9,337.2 493.0,336.4 493.2,337.7 493.3,336.6 493.4,337.3 493.6,338.5 493.7,338.1 493.9,337.6 494.0,338.7 494.2,337.8 494.3,338.2 494.4,338.8 494.6,338.4 494.7,339.1 494.9,338.9 495.0,339.9 495.1,338.3 495.3,339.7 495.4,338.8 495.6,338.3 495.7,338.9 495.8,340.2 496.0,340.2 496.1,340.5 496.3,340.4 496.4,341.5 496.6,342.4 496.7,340.9 496.8,341.3 497.0,340.3 497.1,340.3 497.3,342.9 497.4,342.7 497.5,341.5 497.7,341.4 497.8,342.3 498.0,342.6 498.1,344.2 498.2,341.2 498.4,343.6 498.5,342.8 498.7,343.1 498.8,344.3 499.0,343.1 499.1,342.7 499.2,344.1 499.4,344.1 499.5,343.8 499.7,343.7 499.8,344.0 499.9,345.6 500.1,345.8 500.2,345.6 500.4,347.6 500.5,346.6 500.6,345.8 500.8,346.4 500.9,346.7 501.1,345.4 501.2,346.0 501.4,345.8 501.5,346.7 501.6,347.1 501.8,347.7 501.9,346.9 502.1,348.8 502.2,348.2 502.3,347.1 502.5,347.0 502.6,347.9 502.8,349.1 502.9,347.7 503.0,349.0 503.2,348.6 503.3,349.5 503.5,347.3 503.6,347.7 503.8,349.9 503.9,350.4 504.0,349.5 504.2,349.1 504.3,348.7 504.5,350.0 504.6,351.2 504.7,350.0 504.9,350.2 505.0,352.1 505.2,351.0 505.3,351.2 505.4,352.0 505.6,351.0 505.7,350.4 505.9,350.6 506.0,352.5 506.2,352.4 506.3,351.4 506.4,352.5 506.6,352.6 506.7,350.5 506.9,355.2 507.0,353.4 507.1,353.8 507.3,353.2 507.4,351.7 507.6,353.6 507.7,353.8 507.8,353.6 508.0,354.2 508.1,353.7 508.3,351.8 508.4,355.0 508.6,354.7 508.7,354.7 508.8,357.0 509.0,354.4 509.1,355.2 509.3,357.3 509.4,355.7 509.5,355.4 509.7,356.7 509.8,354.8 510.0,356.7 510.1,357.8 510.2,355.6 510.4,356.7 510.5,356.6 510.7,358.6 510.8,358.5 511.0,358.2 511.1,357.5 511.2,357.6 511.4,356.2 511.5,356.2 511.7,357.8 511.8,358.2 511.9,356.3 512.1,358.3 512.2,357.5 512.4,359.2 512.5,359.0 512.6,359.3 512.8,359.9 512.9,358.9 513.1,360.4 513.2,359.8 513.4,359.4 513.5,357.7 513.6,362.3 513.8,360.2 513.9,359.7 514.1,361.0 514.2,359.8 514.3,360.3 514.5,360.5 514.6,361.7 514.8,361.6 514.9,361.8 515.0,362.8 515.2,361.6 515.3,363.2 515.5,363.2 515.6,363.9 515.8,361.2 515.9,363.2 516.0,363.8 516.2,362.0 516.3,363.5 516.5,362.8 516.6,363.5 516.7,363.1 516.9,363.4 517.0,366.5 517.2,362.3 517.3,362.9 517.4,366.0 517.6,363.4 517.7,364.8 517.9,364.6 518.0,363.4 518.2,363.8 518.3,364.0 518.4,363.0 518.6,364.2 518.7,366.4 518.9,367.4 519.0,364.9 519.1,368.3 519.3,366.7 519.4,366.8 519.6,367.4 519.7,365.0 519.8,366.4 520.0,367.3 520.1,366.0 520.3,367.8 520.4,366.0 520.6,365.1 520.7,367.9 520.8,368.1 521.0,366.6 521.1,370.8 521.3,370.0 521.4,369.9 521.5,370.8 521.7,368.8 521.8,368.6 522.0,369.1 522.1,369.3 522.2,368.2 522.4,368.2 522.5,368.1 522.7,370.0 522.8,370.0 523.0,368.2 523.1,369.7 523.2,368.7 523.4,371.2 523.5,370.8 523.7,371.8 523.8,371.1 523.9,370.6 524.1,372.0 524.2,368.9 524.4,373.8 524.5,370.6 524.6,373.5 524.8,371.7 524.9,373.3 525.1,372.3 525.2,372.4 525.4,373.8 525.5,374.6 525.6,374.0 525.8,373.1 525.9,372.1 526.1,371.2 526.2,376.2 526.3,373.1 526.5,374.5 526.6,374.0 526.8,373.7 526.9,373.2 527.0,373.9 527.2,374.6 527.3,372.5 527.5,374.5 527.6,375.0 527.8,373.5 527.9,377.1 528.0,376.9 528.2,373.5 528.3,376.1 528.5,378.7 528.6,374.9 528.7,374.4 528.9,377.6 529.0,378.6 529.2,376.7 529.3,376.3 529.4,377.9 529.6,378.5 529.7,376.4 529.9,376.6 530.0,380.1 530.2,379.5 530.3,378.3 530.4,379.0 530.6,377.8 530.7,377.5 530.9,375.6 531.0,378.0 531.1,377.3 531.3,381.5 531.4,380.1 531.6,377.5 531.7,381.7 531.8,377.3 532.0,378.7 532.1,379.5 532.3,380.1 532.4,382.0 532.6,382.0 532.7,381.2 532.8,381.2 533.0,378.6 533.1,382.5 533.3,381.9 533.4,384.1 533.5,380.9 533.7,381.3 533.8,379.7 534.0,378.5 534.1,380.8 534.2,383.4 534.4,381.6 534.5,381.7 534.7,382.4 534.8,384.4 535.0,382.0 535.1,384.9 535.2,383.0 535.4,383.5 535.5,388.1 535.7,382.2 535.8,379.9 535.9,384.2 536.1,384.8 536.2,382.2 536.4,386.4 536.5,384.1 536.6,383.8 536.8,385.4 536.9,384.7 537.1,386.3 537.2,385.9 537.4,383.8 537.5,386.8 537.6,386.3 537.8,386.7 537.9,384.6 538.1,386.4 538.2,387.4 538.3,385.3 538.5,390.1 538.6,390.0 538.8,385.8 538.9,383.2 539.0,387.6 539.2,386.2 539.3,389.7 539.5,386.8 539.6,386.8 539.8,386.3 539.9,388.9 540.0,384.1 540.2,389.7 540.3,385.1 540.5,390.2 540.6,386.7 540.7,385.8 540.9,384.5 541.0,388.8 541.2,392.2 541.3,387.2 541.4,390.4 541.6,391.4 541.7,390.5 541.9,391.3 542.0,388.0 542.2,389.3 542.3,388.4 542.4,388.2 542.6,390.9 542.7,388.8 542.9,387.9 543.0,386.9 543.1,390.3 543.3,391.3 543.4,392.9 543.6,391.8 543.7,391.1 543.8,390.7 544.0,394.4 544.1,392.4 544.3,392.1 544.4,393.1 544.6,393.3 544.7,391.3 544.8,394.4 545.0,391.3 545.1,394.9 545.3,392.1 545.4,395.3 545.5,390.4 545.7,391.4 545.8,390.3 546.0,395.2 546.1,396.5 546.2,396.6 546.4,394.2 546.5,391.5 546.7,392.4 546.8,392.6 547.0,397.1 547.1,392.0 547.2,392.8 547.4,395.8 547.5,401.2 547.7,396.7 547.8,395.3 547.9,391.7 548.1,394.7 548.2,395.5 548.4,392.0 548.5,392.2 548.6,394.9 548.8,394.5 548.9,393.2 549.1,397.9 549.2,395.3 549.4,397.4 549.5,398.9 549.6,395.5 549.8,394.2 549.9,392.7 550.1,395.2 550.2,394.5 550.3,397.7 550.5,401.3 550.6,399.1 550.8,396.7 550.9,399.3 551.0,393.6 551.2,395.2 551.3,398.7 551.5,394.3 551.6,396.8 551.8,394.7 551.9,399.1 552.0,396.9 552.2,399.5 552.3,399.0 552.5,396.4 552.6,394.8 552.7,399.1 552.9,398.8 553.0,402.0 553.2,400.3 553.3,398.6 553.4,403.5 553.6,401.3 553.7,403.3 553.9,399.9 554.0,398.3 554.2,399.8 554.3,401.5 554.4,403.7 554.6,405.7 554.7,401.1 554.9,397.5 555.0,402.1 555.1,401.7 555.3,402.8 555.4,405.0 555.6,399.1 555.7,400.1 555.8,406.4 556.0,405.8 556.1,398.9 556.3,405.0 556.4,402.7 556.6,405.7 556.7,401.9 556.8,405.2 557.0,404.8 557.1,406.5 557.3,398.4 557.4,396.9 557.5,402.9 557.7,401.8 557.8,402.2 558.0,403.9 558.1,404.3 558.2,405.2 558.4,402.1 558.5,408.1 558.7,407.0 558.8,402.6 559.0,409.1 559.1,400.5 559.2,405.7 559.4,404.5 559.5,401.5 559.7,405.4 559.8,405.0 559.9,407.3 560.1,404.1 560.2,403.7 560.4,408.6 560.5,404.1 560.6,403.3 560.8,404.8 560.9,408.7 561.1,403.7 561.2,402.7 561.4,408.2 561.5,413.0 561.6,409.1 561.8,406.9 561.9,403.3 562.1,403.7 562.2,405.3 562.3,409.5 562.5,405.3 562.6,407.7 562.8,411.2 562.9,414.2 563.0,405.0 563.2,413.8 563.3,404.5 563.5,401.9 563.6,408.3 563.8,411.4 563.9,410.8 564.0,411.1 564.2,407.7 564.3,405.9 564.5,411.7 564.6,410.3 564.7,411.5 564.9,405.9 565.0,406.5 565.2,412.6 565.3,410.8 565.4,409.3 565.6,416.7 565.7,411.9 565.9,409.7 566.0,415.5 566.2,409.7 566.3,410.3 566.4,412.6 566.6,407.4 566.7,414.2 566.9,409.5 567.0,411.9 567.1,407.6 567.3,414.1 567.4,409.4 567.6,409.4 567.7,407.9 567.8,406.6 568.0,417.7 568.1,412.1 568.3,416.1 568.4,408.8 568.6,407.7 568.7,413.4 568.8,411.5 569.0,408.2 569.1,411.9 569.3,413.2 569.4,419.4 569.5,415.6 569.7,409.6 569.8,419.0 570.0,412.2 570.1,412.5 570.2,413.5 570.4,410.7 570.5,416.5 570.7,409.0 570.8,415.5 571.0,410.4 571.1,416.3 571.2,413.1 571.4,415.5 571.5,408.6 571.7,418.6 571.8,417.0 571.9,409.6 572.1,411.8 572.2,414.9 572.4,415.9 572.5,420.4 572.6,416.1 572.8,413.8 572.9,411.0 573.1,412.0 573.2,410.4 573.4,414.1 573.5,418.6 573.6,417.1 573.8,410.4 573.9,415.5 574.1,411.0 574.2,423.2 574.3,418.2 574.5,419.7 574.6,415.4 574.8,419.8 574.9,422.4 575.0,417.0 575.2,427.9 575.3,419.4 575.5,415.3 575.6,422.1 575.8,417.4 575.9,421.1 576.0,418.8 576.2,416.5 576.3,415.7 576.5,415.9 576.6,421.0 576.7,412.1 576.9,416.5 577.0,420.8 577.2,413.0 577.3,419.8 577.4,411.0 577.6,415.0 577.7,418.8 577.9,420.6 578.0,422.3 578.2,422.2 578.3,419.9 578.4,413.6 578.6,418.1 578.7,419.3 578.9,417.3 579.0,420.5 579.1,425.2 579.3,426.6 579.4,413.8 579.6,420.7 579.7,413.3 579.8,412.4 580.0,418.5 580.1,416.6 580.3,421.5 580.4,420.5 580.6,419.7 580.7,420.1 580.8,414.2 581.0,420.7 581.1,416.6 581.3,419.9 581.4,417.9 581.5,413.4 581.7,428.7 581.8,415.9 582.0,423.8 582.1,420.0 582.2,422.6 582.4,423.3 582.5,428.2 582.7,437.4 582.8,412.9 583.0,417.7 583.1,422.6 583.2,431.9 583.4,418.7 583.5,415.2 583.7,419.8 583.8,431.3 583.9,424.5 584.1,420.8 584.2,422.5 584.4,417.4 584.5,427.3 584.6,425.6 584.8,437.9 584.9,417.6 585.1,419.7 585.2,424.8 585.4,433.1 585.5,418.9 585.6,430.8 585.8,430.0 585.9,434.5 586.1,431.2 586.2,428.3 586.3,429.3 586.5,418.4 586.6,420.2 586.8,423.2 586.9,426.6 587.0,423.9 587.2,431.3 587.3,421.9 587.5,429.1 587.6,426.7 587.8,422.4 587.9,429.0 588.0,432.4 588.2,419.5 588.3,435.0 588.5,431.9 588.6,431.3 588.7,428.6 588.9,425.4 589.0,443.1 589.2,427.5 589.3,418.4 589.4,419.4 589.6,420.8 589.7,425.5 589.9,424.1 590.0,428.3 590.2,435.9 590.3,423.6 590.4,420.3 590.6,424.0 590.7,425.7 590.9,421.4 591.0,424.1 591.1,420.4 591.3,428.2 591.4,437.7 591.6,423.5 591.7,421.6 591.8,430.6 592.0,424.9 592.1,422.6 592.3,443.1 592.4,415.5 592.6,422.5 592.7,427.6 592.8,433.7 593.0,437.0 593.1,412.6 593.3,428.6 593.4,423.2 593.5,430.8 593.7,428.8 593.8,423.6 594.0,432.9 594.1,427.6 594.2,428.3 594.4,424.7 594.5,422.9 594.7,428.4 594.8,420.5 595.0,430.3 595.1,429.8 595.2,427.1 595.4,429.2 595.5,423.6 595.7,443.1 595.8,440.4 595.9,443.1 596.1,420.9 596.2,423.7 596.4,432.4 596.5,426.0 596.6,440.9 596.8,430.1 596.9,420.9 597.1,424.8 597.2,418.2 597.3,431.5 597.5,422.5 597.6,428.0 597.8,426.8 597.9,427.2 598.1,424.6 598.2,421.9 598.3,428.5 598.5,426.7 598.6,429.5 598.8,427.3 598.9,434.3 599.0,423.7 599.2,425.3 599.3,427.3 599.5,429.3 599.6,433.5 599.7,435.6 599.9,437.0 600.0,434.6 600.2,424.5 600.3,427.1 600.5,439.8 600.6,436.2 600.7,422.6 600.9,421.1 601.0,425.1 601.2,419.3 601.3,434.3 601.4,427.3 601.6,434.1 601.7,419.0 601.9,427.5 602.0,427.6 602.1,427.9 602.3,434.6 602.4,430.5 602.6,443.1 602.7,433.0 602.9,437.1 603.0,425.8 603.1,423.1 603.3,428.7 603.4,437.5 603.6,438.1 603.7,426.2 603.8,432.2 604.0,432.2 604.1,438.2 604.3,429.1 604.4,429.4 604.5,426.1 604.7,437.2 604.8,431.0 605.0,441.3 605.1,429.5 605.3,430.8 605.4,433.3 605.5,425.9 605.7,440.3 605.8,422.7 606.0,428.6 606.1,427.7 606.2,429.5 606.4,436.0 606.5,435.0 606.7,425.9 606.8,431.4 606.9,429.4 607.1,433.7 607.2,426.6 607.4,427.6 607.5,441.2 607.7,421.3 607.8,425.7 607.9,426.8 608.1,429.7 608.2,432.0 608.4,426.8 608.5,418.9 608.6,432.4 608.8,439.9 608.9,432.1 609.1,431.5 609.2,426.4 609.3,441.2 609.5,435.0 609.6,434.2 609.8,426.5 609.9,425.8 610.1,431.0 610.2,426.1 610.3,431.6 610.5,431.7 610.6,443.1 610.8,439.0 610.9,441.0 611.0,429.8 611.2,432.1 611.3,440.8 611.5,432.5 611.6,433.6 611.7,430.4 611.9,436.8 612.0,438.1 612.2,426.0 612.3,434.8 612.5,427.1 612.6,439.7 612.7,434.7 612.9,435.4 613.0,440.5 613.2,428.9 613.3,443.1 613.4,431.9 613.6,443.1 613.7,429.2 613.9,433.2 614.0,426.9 614.1,422.6 614.3,438.6 614.4,433.6 614.6,443.1 614.7,437.0 614.9,433.4 615.0,433.6 615.1,429.0 615.3,430.7 615.4,428.0 615.6,439.0 615.7,433.0 615.8,442.1 616.0,435.2 616.1,443.1 616.3,434.9 616.4,433.8 616.5,437.5 616.7,437.1 616.8,443.1 617.0,439.1 617.1,438.8 617.3,432.9 617.4,431.5 617.5,437.7 617.7,435.5 617.8,432.2 618.0,441.4 618.1,428.4 618.2,423.3 618.4,432.2 618.5,438.2 618.7,433.3 618.8,427.7 618.9,427.2 619.1,443.1 619.2,432.7 619.4,440.4 619.5,438.1 619.7,433.1 619.8,431.5 619.9,437.0 620.1,441.6 620.2,436.5 620.4,443.1 620.5,425.1 620.6,443.1 620.8,431.3 620.9,434.4 621.1,435.2 621.2,443.1 621.3,438.9 621.5,437.8 621.6,439.4 621.8,437.1 621.9,434.7 622.1,438.7 622.2,432.6 622.3,430.8 622.5,439.6 622.6,430.9 622.8,435.2 622.9,439.9 623.0,432.6 623.2,428.8 623.3,438.1 623.5,443.1 623.6,430.8 623.7,429.6 623.9,443.1 624.0,436.8 624.2,432.8 624.3,443.1 624.5,430.9 624.6,431.3 624.7,430.8 624.9,427.1 625.0,443.1 625.2,430.1 625.3,423.4 625.4,443.1 625.6,439.0 625.7,431.6 625.9,442.0 626.0,443.1 626.1,434.2 626.3,435.2 626.4,442.2 626.6,434.7 626.7,430.5 626.9,430.1 627.0,433.6 627.1,443.1 627.3,438.9 627.4,443.1 627.6,443.1 627.7,435.5 627.8,433.0 628.0,436.9 628.1,436.8 628.3,443.1 628.4,443.1 628.5,443.1 628.7,441.6 628.8,441.6 629.0,424.3 629.1,430.4 629.3,443.1 629.4,442.4 629.5,441.4 629.7,441.7 629.8,441.2 630.0,443.1 630.1,429.6 630.2,432.6 630.4,432.8 630.5,436.4 630.7,434.0 630.8,440.1 630.9,443.1 631.1,436.4 631.2,437.1 631.4,443.1 631.5,443.1 631.7,430.0 631.8,443.1 631.9,439.0 632.1,443.1 632.2,427.1 632.4,443.1 632.5,430.6 632.6,443.1 632.8,431.4 632.9,441.6 633.1,443.1 633.2,437.2 633.3,438.2 633.5,443.1 633.6,435.2 633.8,438.0 633.9,434.4 634.1,443.1 634.2,443.1 634.3,443.1 634.5,436.9 634.6,442.2 634.8,443.1 634.9,429.0 635.0,442.2 635.2,430.7 635.3,432.2 635.5,443.1 635.6,443.1 635.7,436.5 635.9,433.3 636.0,430.3 636.2,435.2 636.3,434.9 636.5,443.1 636.6,443.1 636.7,420.5 636.9,430.5 637.0,443.1 637.2,435.9 637.3,434.8 637.4,443.1 637.6,440.4 637.7,434.2 637.9,427.7 638.0,427.9 638.1,441.0 638.3,440.8 638.4,442.0 638.6,436.5 638.7,432.3 638.9,443.1 639.0,439.7 639.1,443.1 639.3,443.1 639.4,442.5 639.6,426.9 639.7,427.4 639.8,428.9 640.0,443.1 640.1,436.1 640.3,424.2 640.4,435.3 640.5,443.1 640.7,434.1 640.8,440.5 641.0,441.7 641.1,436.5 641.3,435.0 641.4,439.8 641.5,438.6 641.7,443.1 641.8,438.8 642.0,433.5 642.1,437.8 642.2,439.9 642.4,443.1 642.5,431.0 642.7,443.1 642.8,433.8 642.9,441.5 643.1,433.0 643.2,431.5 643.4,441.2 643.5,443.1 643.7,443.1 643.8,443.1 643.9,443.1 644.1,436.5 644.2,426.4 644.4,433.9 644.5,439.8 644.6,429.8 644.8,440.2 644.9,432.7 645.1,436.0 645.2,443.1 645.3,432.1 645.5,427.6 645.6,441.6 645.8,433.3 645.9,435.0 646.1,441.0 646.2,441.9 646.3,431.9 646.5,443.1 646.6,443.1 646.8,432.9 646.9,432.4 647.0,428.7 647.2,443.1 647.3,443.1 647.5,431.4 647.6,443.1 647.7,442.3 647.9,440.6 648.0,427.9 648.2,438.7 648.3,443.1 648.5,439.1 648.6,430.1 648.7,443.1 648.9,443.1 649.0,431.9 649.2,438.0 649.3,443.1 649.4,440.6 649.6,438.4 649.7,443.1 649.9,443.1 650.0,429.5 650.1,436.6 650.3,431.4 650.4,439.3 650.6,443.1 650.7,436.7 650.9,443.1 651.0,436.3 651.1,441.6 651.3,441.5 651.4,441.3 651.6,443.1 651.7,430.0 651.8,443.1 652.0,437.4 652.1,443.1 652.3,432.8 652.4,441.0 652.5,437.8 652.7,435.7 652.8,436.5 653.0,437.8 653.1,436.5 653.3,436.6 653.4,443.1 653.5,441.7 653.7,441.2 653.8,443.1 654.0,443.1 654.1,430.4 654.2,443.1 654.4,428.4 654.5,443.1 654.7,434.8 654.8,439.3 654.9,440.8 655.1,435.2 655.2,428.4 655.4,440.3 655.5,439.6 655.7,443.1 655.8,426.7 655.9,431.4 656.1,431.7 656.2,439.1 656.4,443.1 656.5,435.8 656.6,443.1 656.8,443.1 656.9,432.7 657.1,443.1 657.2,443.1 657.3,443.1 657.5,434.3 657.6,436.3 657.8,443.1 657.9,436.7 658.1,443.1 658.2,443.1 658.3,438.0 658.5,433.3 658.6,439.7 658.8,443.1 658.9,443.1 659.0,431.9 659.2,443.1 659.3,437.6 659.5,436.3 659.6,443.1 659.7,439.4 659.9,443.1 660.0,443.1 660.2,439.3 660.3,435.0 660.5,430.8 660.6,443.1 660.7,436.1 660.9,440.6 661.0,443.1 661.2,443.1 661.3,440.1 661.4,439.6 661.6,443.1 661.7,423.6 661.9,439.9 662.0,434.9 662.1,441.9 662.3,423.4 662.4,443.1 662.6,442.7 662.7,438.3 662.9,431.6 663.0,440.2 663.1,443.1 663.3,429.4 663.4,434.9 663.6,441.9 663.7,441.9 663.8,441.9 664.0,438.6 664.1,443.1 664.3,438.8 664.4,443.1 664.5,436.2 664.7,437.3 664.8,443.1 665.0,430.8 665.1,434.4 665.3,443.1 665.4,443.1 665.5,443.1 665.7,437.3 665.8,431.3 666.0,443.1 666.1,443.1"/>
</g>
<path d="M473.1,262.9H500.1" stroke="#000" stroke-width="1.3"/>
<path d="M473.1,277.35H500.1" stroke="#f00" stroke-width="1.3"/>
<text class="lg" x="503.0" y="266.4">DOPC/Chol/SM (75/25/0)</text>
<text class="lg" x="503.0" y="281.0">DOPC/Chol/SM (65/25/10)</text>
<text class="ti" x="526.5" y="236.0" text-anchor="middle">CF- and Rh-DSPE-PEG</text>
<text class="tk" x="383.90" y="462.3" text-anchor="middle">0</text>
<text class="tk" x="430.93" y="462.3" text-anchor="middle">5</text>
<text class="tk" x="477.97" y="462.3" text-anchor="middle">10</text>
<text class="tk" x="525.00" y="462.3" text-anchor="middle">15</text>
<text class="tk" x="572.03" y="462.3" text-anchor="middle">20</text>
<text class="tk" x="619.07" y="462.3" text-anchor="middle">25</text>
<text class="tk" x="666.10" y="462.3" text-anchor="middle">30</text>
<text class="al" x="525.00" y="484.2" text-anchor="middle">time/ns</text>
</svg>
</body></html>
